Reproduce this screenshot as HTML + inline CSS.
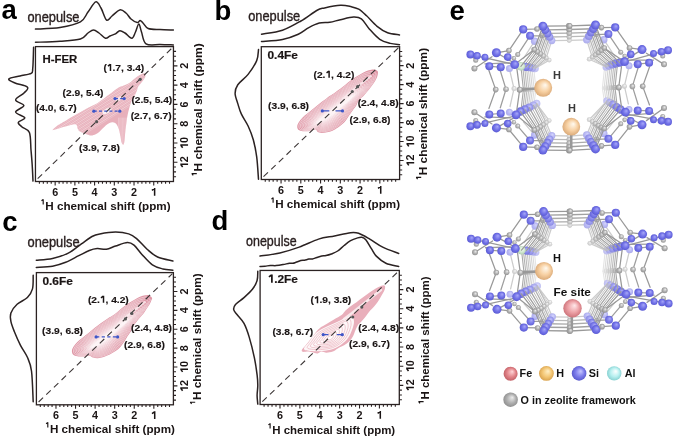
<!DOCTYPE html>
<html><head><meta charset="utf-8"><style>
html,body{margin:0;padding:0;background:#fff;overflow:hidden;}
svg{display:block;font-family:"Liberation Sans", sans-serif;will-change:transform;}
</style></head><body>
<svg width="685" height="437" viewBox="0 0 685 437">
<defs><radialGradient id="g0" cx="0.5" cy="0.5" r="0.55" fx="0.62" fy="0.34"><stop offset="0" stop-color="#fafafa"/><stop offset="0.55" stop-color="#e9e9e9"/><stop offset="1" stop-color="#dfdfdf"/></radialGradient>
<radialGradient id="g1" cx="0.5" cy="0.5" r="0.55" fx="0.62" fy="0.34"><stop offset="0" stop-color="#f8f8f8"/><stop offset="0.55" stop-color="#dfdfdf"/><stop offset="1" stop-color="#d1d1d1"/></radialGradient>
<radialGradient id="g2" cx="0.5" cy="0.5" r="0.55" fx="0.62" fy="0.34"><stop offset="0" stop-color="#dcdcfc"/><stop offset="0.55" stop-color="#c7c7f6"/><stop offset="1" stop-color="#bbbbec"/></radialGradient>
<radialGradient id="g3" cx="0.5" cy="0.5" r="0.55" fx="0.62" fy="0.34"><stop offset="0" stop-color="#d4d4fc"/><stop offset="0.55" stop-color="#b8b8f4"/><stop offset="1" stop-color="#aaaae8"/></radialGradient>
<radialGradient id="g4" cx="0.5" cy="0.5" r="0.55" fx="0.62" fy="0.34"><stop offset="0" stop-color="#f6f6f6"/><stop offset="0.55" stop-color="#d8d8d8"/><stop offset="1" stop-color="#c6c6c6"/></radialGradient>
<radialGradient id="g5" cx="0.5" cy="0.5" r="0.55" fx="0.62" fy="0.34"><stop offset="0" stop-color="#f6f6f6"/><stop offset="0.55" stop-color="#d4d4d4"/><stop offset="1" stop-color="#c0c0c0"/></radialGradient>
<radialGradient id="g6" cx="0.5" cy="0.5" r="0.55" fx="0.62" fy="0.34"><stop offset="0" stop-color="#cfcffb"/><stop offset="0.55" stop-color="#b1b1f2"/><stop offset="1" stop-color="#a2a2e5"/></radialGradient>
<radialGradient id="g7" cx="0.5" cy="0.5" r="0.55" fx="0.62" fy="0.34"><stop offset="0" stop-color="#f4f4f4"/><stop offset="0.55" stop-color="#cccccc"/><stop offset="1" stop-color="#b4b4b4"/></radialGradient>
<radialGradient id="g8" cx="0.5" cy="0.5" r="0.55" fx="0.62" fy="0.34"><stop offset="0" stop-color="#f3f3f3"/><stop offset="0.55" stop-color="#c9c9c9"/><stop offset="1" stop-color="#b1b1b1"/></radialGradient>
<radialGradient id="g9" cx="0.5" cy="0.5" r="0.55" fx="0.62" fy="0.34"><stop offset="0" stop-color="#c2c2fa"/><stop offset="0.55" stop-color="#9c9cef"/><stop offset="1" stop-color="#8989de"/></radialGradient>
<radialGradient id="g10" cx="0.5" cy="0.5" r="0.55" fx="0.62" fy="0.34"><stop offset="0" stop-color="#f3f3f3"/><stop offset="0.55" stop-color="#c8c8c8"/><stop offset="1" stop-color="#aeaeae"/></radialGradient>
<radialGradient id="g11" cx="0.5" cy="0.5" r="0.55" fx="0.62" fy="0.34"><stop offset="0" stop-color="#f2f2f2"/><stop offset="0.55" stop-color="#c1c1c1"/><stop offset="1" stop-color="#a5a5a5"/></radialGradient>
<radialGradient id="g12" cx="0.5" cy="0.5" r="0.55" fx="0.62" fy="0.34"><stop offset="0" stop-color="#f1f1f1"/><stop offset="0.55" stop-color="#bebebe"/><stop offset="1" stop-color="#a1a1a1"/></radialGradient>
<radialGradient id="g13" cx="0.5" cy="0.5" r="0.55" fx="0.62" fy="0.34"><stop offset="0" stop-color="#b6b6f9"/><stop offset="0.55" stop-color="#8989ec"/><stop offset="1" stop-color="#7171d8"/></radialGradient>
<radialGradient id="g14" cx="0.5" cy="0.5" r="0.55" fx="0.62" fy="0.34"><stop offset="0" stop-color="#b5b5f9"/><stop offset="0.55" stop-color="#8787eb"/><stop offset="1" stop-color="#6f6fd7"/></radialGradient>
<radialGradient id="g15" cx="0.5" cy="0.5" r="0.55" fx="0.62" fy="0.34"><stop offset="0" stop-color="#f0f0f0"/><stop offset="0.55" stop-color="#b9b9b9"/><stop offset="1" stop-color="#9a9a9a"/></radialGradient>
<radialGradient id="g16" cx="0.5" cy="0.5" r="0.55" fx="0.62" fy="0.34"><stop offset="0" stop-color="#f0f0f0"/><stop offset="0.55" stop-color="#b8b8b8"/><stop offset="1" stop-color="#989898"/></radialGradient>
<radialGradient id="g17" cx="0.5" cy="0.5" r="0.55" fx="0.62" fy="0.34"><stop offset="0" stop-color="#efefef"/><stop offset="0.55" stop-color="#b6b6b6"/><stop offset="1" stop-color="#959595"/></radialGradient>
<radialGradient id="g18" cx="0.5" cy="0.5" r="0.55" fx="0.62" fy="0.34"><stop offset="0" stop-color="#adadf8"/><stop offset="0.55" stop-color="#7a7ae9"/><stop offset="1" stop-color="#6060d3"/></radialGradient>
<radialGradient id="g19" cx="0.5" cy="0.5" r="0.55" fx="0.62" fy="0.34"><stop offset="0" stop-color="#f5fff5"/><stop offset="0.55" stop-color="#d2e9d2"/><stop offset="1" stop-color="#adcbad"/></radialGradient>
<radialGradient id="g20" cx="0.5" cy="0.5" r="0.55" fx="0.62" fy="0.34"><stop offset="0" stop-color="#acacf8"/><stop offset="0.55" stop-color="#7979e9"/><stop offset="1" stop-color="#5e5ed2"/></radialGradient>
<radialGradient id="g21" cx="0.5" cy="0.5" r="0.55" fx="0.62" fy="0.34"><stop offset="0" stop-color="#efefef"/><stop offset="0.55" stop-color="#b4b4b4"/><stop offset="1" stop-color="#929292"/></radialGradient>
<radialGradient id="g22" cx="0.5" cy="0.5" r="0.55" fx="0.62" fy="0.34"><stop offset="0" stop-color="#a8a8f8"/><stop offset="0.55" stop-color="#7272e8"/><stop offset="1" stop-color="#5656d0"/></radialGradient>
<radialGradient id="g23" cx="0.5" cy="0.5" r="0.55" fx="0.62" fy="0.34"><stop offset="0" stop-color="#eeeeee"/><stop offset="0.55" stop-color="#b0b0b0"/><stop offset="1" stop-color="#8c8c8c"/></radialGradient>
<radialGradient id="g24" cx="0.5" cy="0.5" r="0.55" fx="0.62" fy="0.34"><stop offset="0" stop-color="#fffaf0"/><stop offset="0.55" stop-color="#f7d0a2"/><stop offset="1" stop-color="#d6a472"/></radialGradient>
<radialGradient id="g25" cx="0.5" cy="0.5" r="0.55" fx="0.62" fy="0.34"><stop offset="0" stop-color="#ffe8ea"/><stop offset="0.55" stop-color="#eda2a7"/><stop offset="1" stop-color="#c86c73"/></radialGradient>
<radialGradient id="g26" cx="0.5" cy="0.5" r="0.55" fx="0.62" fy="0.34"><stop offset="0" stop-color="#ffd6d8"/><stop offset="0.55" stop-color="#e3868b"/><stop offset="1" stop-color="#bd5a60"/></radialGradient>
<radialGradient id="g27" cx="0.5" cy="0.5" r="0.55" fx="0.62" fy="0.34"><stop offset="0" stop-color="#fff0c8"/><stop offset="0.55" stop-color="#f4c877"/><stop offset="1" stop-color="#d69e48"/></radialGradient>
<radialGradient id="g28" cx="0.5" cy="0.5" r="0.55" fx="0.62" fy="0.34"><stop offset="0" stop-color="#c8c8ff"/><stop offset="0.55" stop-color="#7d7deb"/><stop offset="1" stop-color="#5454c8"/></radialGradient>
<radialGradient id="g29" cx="0.5" cy="0.5" r="0.55" fx="0.62" fy="0.34"><stop offset="0" stop-color="#ffffff"/><stop offset="0.55" stop-color="#b8f0f0"/><stop offset="1" stop-color="#80cccc"/></radialGradient>
<radialGradient id="g30" cx="0.5" cy="0.5" r="0.55" fx="0.62" fy="0.34"><stop offset="0" stop-color="#ededed"/><stop offset="0.55" stop-color="#b0b0b0"/><stop offset="1" stop-color="#8a8a8a"/></radialGradient></defs>
<text x="1.5" y="18.6" font-size="27.5" font-weight="bold" text-anchor="start" fill="#000" >a</text>
<text x="214.5" y="19.8" font-size="27.5" font-weight="bold" text-anchor="start" fill="#000" >b</text>
<text x="2.2" y="231" font-size="27.5" font-weight="bold" text-anchor="start" fill="#000" >c</text>
<text x="211.5" y="230.3" font-size="27.5" font-weight="bold" text-anchor="start" fill="#000" >d</text>
<text x="449.5" y="19.6" font-size="27.5" font-weight="bold" text-anchor="start" fill="#000" >e</text>
<path d="M144.9,73.5 C144.37,73 143.17,73.32 142.1,73.7 C141.03,74.08 139.72,75 138.5,75.8 C137.28,76.6 136.03,77.52 134.8,78.5 C133.57,79.48 132.32,80.78 131.1,81.7 C129.88,82.62 128.72,83.38 127.5,84 C126.28,84.62 125.03,84.93 123.8,85.4 C122.57,85.87 121.32,86.18 120.1,86.8 C118.88,87.42 117.72,88.27 116.5,89.1 C115.28,89.93 114.02,90.88 112.8,91.8 C111.58,92.72 110.42,93.68 109.2,94.6 C107.98,95.52 106.73,96.38 105.5,97.3 C104.27,98.22 103.15,99.12 101.8,100.1 C100.45,101.08 99.15,102.17 97.4,103.2 C95.65,104.23 93.35,105.27 91.3,106.3 C89.25,107.33 87.17,108.28 85.1,109.4 C83.03,110.52 80.97,111.8 78.9,113 C76.83,114.2 74.77,115.4 72.7,116.6 C70.63,117.8 68.55,119 66.5,120.2 C64.45,121.4 62.12,122.77 60.4,123.8 C58.68,124.83 57.5,125.37 56.2,126.4 C54.9,127.43 52.6,129.53 52.6,130 C52.6,130.47 54.4,129.68 56.2,129.2 C58,128.72 60.98,127.78 63.4,127.1 C65.82,126.42 68.57,125.52 70.7,125.1 C72.83,124.68 74.95,123.78 76.2,124.6 C77.45,125.42 77.23,128.67 78.2,130 C79.17,131.33 80.52,131.83 82,132.6 C83.48,133.37 85.55,134.1 87.1,134.6 C88.65,135.1 89.87,135.65 91.3,135.6 C92.73,135.55 94.38,134.9 95.7,134.3 C97.02,133.7 98.05,132.95 99.2,132 C100.35,131.05 101.47,129.73 102.6,128.6 C103.73,127.47 104.85,126.15 106,125.2 C107.15,124.25 108.35,123.38 109.5,122.9 C110.65,122.42 111.77,122.12 112.9,122.3 C114.03,122.48 115.35,122.95 116.3,124 C117.25,125.05 117.93,126.68 118.6,128.6 C119.27,130.52 119.82,133.22 120.3,135.5 C120.78,137.78 121.02,140.75 121.5,142.3 C121.98,143.85 122.73,144.8 123.2,144.8 C123.67,144.8 124.02,143.67 124.3,142.3 C124.58,140.93 124.7,138.7 124.9,136.6 C125.1,134.5 125.25,131.98 125.5,129.7 C125.75,127.42 126.12,124.98 126.4,122.9 C126.68,120.82 126.85,119.18 127.2,117.2 C127.55,115.22 128.03,112.95 128.5,111 C128.97,109.05 129.5,107.17 130,105.5 C130.5,103.83 130.85,102.37 131.5,101 C132.15,99.63 133.2,98.53 133.9,97.3 C134.6,96.07 135.17,94.82 135.7,93.6 C136.23,92.38 136.72,91.13 137.1,90 C137.48,88.87 137.47,87.8 138,86.8 C138.53,85.8 139.47,85.07 140.3,84 C141.13,82.93 142.17,81.62 143,80.4 C143.83,79.18 144.98,77.85 145.3,76.7 C145.62,75.55 145.43,74 144.9,73.5Z" fill="#e8b0bb" />
<clipPath id="cp1"><path d="M144.9,73.5 C144.37,73 143.17,73.32 142.1,73.7 C141.03,74.08 139.72,75 138.5,75.8 C137.28,76.6 136.03,77.52 134.8,78.5 C133.57,79.48 132.32,80.78 131.1,81.7 C129.88,82.62 128.72,83.38 127.5,84 C126.28,84.62 125.03,84.93 123.8,85.4 C122.57,85.87 121.32,86.18 120.1,86.8 C118.88,87.42 117.72,88.27 116.5,89.1 C115.28,89.93 114.02,90.88 112.8,91.8 C111.58,92.72 110.42,93.68 109.2,94.6 C107.98,95.52 106.73,96.38 105.5,97.3 C104.27,98.22 103.15,99.12 101.8,100.1 C100.45,101.08 99.15,102.17 97.4,103.2 C95.65,104.23 93.35,105.27 91.3,106.3 C89.25,107.33 87.17,108.28 85.1,109.4 C83.03,110.52 80.97,111.8 78.9,113 C76.83,114.2 74.77,115.4 72.7,116.6 C70.63,117.8 68.55,119 66.5,120.2 C64.45,121.4 62.12,122.77 60.4,123.8 C58.68,124.83 57.5,125.37 56.2,126.4 C54.9,127.43 52.6,129.53 52.6,130 C52.6,130.47 54.4,129.68 56.2,129.2 C58,128.72 60.98,127.78 63.4,127.1 C65.82,126.42 68.57,125.52 70.7,125.1 C72.83,124.68 74.95,123.78 76.2,124.6 C77.45,125.42 77.23,128.67 78.2,130 C79.17,131.33 80.52,131.83 82,132.6 C83.48,133.37 85.55,134.1 87.1,134.6 C88.65,135.1 89.87,135.65 91.3,135.6 C92.73,135.55 94.38,134.9 95.7,134.3 C97.02,133.7 98.05,132.95 99.2,132 C100.35,131.05 101.47,129.73 102.6,128.6 C103.73,127.47 104.85,126.15 106,125.2 C107.15,124.25 108.35,123.38 109.5,122.9 C110.65,122.42 111.77,122.12 112.9,122.3 C114.03,122.48 115.35,122.95 116.3,124 C117.25,125.05 117.93,126.68 118.6,128.6 C119.27,130.52 119.82,133.22 120.3,135.5 C120.78,137.78 121.02,140.75 121.5,142.3 C121.98,143.85 122.73,144.8 123.2,144.8 C123.67,144.8 124.02,143.67 124.3,142.3 C124.58,140.93 124.7,138.7 124.9,136.6 C125.1,134.5 125.25,131.98 125.5,129.7 C125.75,127.42 126.12,124.98 126.4,122.9 C126.68,120.82 126.85,119.18 127.2,117.2 C127.55,115.22 128.03,112.95 128.5,111 C128.97,109.05 129.5,107.17 130,105.5 C130.5,103.83 130.85,102.37 131.5,101 C132.15,99.63 133.2,98.53 133.9,97.3 C134.6,96.07 135.17,94.82 135.7,93.6 C136.23,92.38 136.72,91.13 137.1,90 C137.48,88.87 137.47,87.8 138,86.8 C138.53,85.8 139.47,85.07 140.3,84 C141.13,82.93 142.17,81.62 143,80.4 C143.83,79.18 144.98,77.85 145.3,76.7 C145.62,75.55 145.43,74 144.9,73.5Z"/></clipPath>
<g clip-path="url(#cp1)" fill="none" stroke="#f7e1e5" stroke-linecap="round">
<line x1="33.11" y1="130.45" x2="153.11" y2="55.45" stroke-width="0.8" stroke-opacity="0.8"/>
<line x1="33.88" y1="131.68" x2="153.88" y2="56.68" stroke-width="0.55" stroke-opacity="0.6"/>
<line x1="34.65" y1="132.92" x2="154.65" y2="57.92" stroke-width="0.8" stroke-opacity="0.8"/>
<line x1="35.42" y1="134.15" x2="155.42" y2="59.15" stroke-width="0.55" stroke-opacity="0.6"/>
<line x1="36.18" y1="135.38" x2="156.18" y2="60.38" stroke-width="0.8" stroke-opacity="0.8"/>
<line x1="36.95" y1="136.61" x2="156.95" y2="61.61" stroke-width="0.55" stroke-opacity="0.6"/>
<line x1="37.72" y1="137.84" x2="157.72" y2="62.84" stroke-width="0.8" stroke-opacity="0.8"/>
<line x1="38.49" y1="139.08" x2="158.49" y2="64.08" stroke-width="0.55" stroke-opacity="0.6"/>
<line x1="39.26" y1="140.31" x2="159.26" y2="65.31" stroke-width="0.8" stroke-opacity="0.8"/>
<line x1="40.03" y1="141.54" x2="160.03" y2="66.54" stroke-width="0.55" stroke-opacity="0.6"/>
<line x1="40.8" y1="142.78" x2="160.8" y2="67.78" stroke-width="0.8" stroke-opacity="0.8"/>
<line x1="41.56" y1="144.01" x2="161.56" y2="69.01" stroke-width="0.55" stroke-opacity="0.6"/>
<line x1="42.33" y1="145.24" x2="162.33" y2="70.24" stroke-width="0.8" stroke-opacity="0.8"/>
<line x1="43.1" y1="146.47" x2="163.1" y2="71.47" stroke-width="0.55" stroke-opacity="0.6"/>
<line x1="43.87" y1="147.7" x2="163.87" y2="72.7" stroke-width="0.8" stroke-opacity="0.8"/>
<line x1="44.64" y1="148.94" x2="164.64" y2="73.94" stroke-width="0.55" stroke-opacity="0.6"/>
<line x1="45.41" y1="150.17" x2="165.41" y2="75.17" stroke-width="0.8" stroke-opacity="0.8"/>
<line x1="46.17" y1="151.4" x2="166.17" y2="76.4" stroke-width="0.55" stroke-opacity="0.6"/>
<line x1="46.94" y1="152.63" x2="166.94" y2="77.63" stroke-width="0.8" stroke-opacity="0.8"/>
<line x1="47.71" y1="153.87" x2="167.71" y2="78.87" stroke-width="0.55" stroke-opacity="0.6"/>
<line x1="48.48" y1="155.1" x2="168.48" y2="80.1" stroke-width="0.8" stroke-opacity="0.8"/>
<line x1="49.25" y1="156.33" x2="169.25" y2="81.33" stroke-width="0.55" stroke-opacity="0.6"/>
<line x1="118.5" y1="118" x2="118.8" y2="146" stroke-width="0.5" stroke-opacity="0.8"/>
<line x1="119.8" y1="118" x2="120.1" y2="146" stroke-width="0.5" stroke-opacity="0.8"/>
<line x1="121.1" y1="118" x2="121.4" y2="146" stroke-width="0.5" stroke-opacity="0.8"/>
<line x1="122.4" y1="118" x2="122.7" y2="146" stroke-width="0.5" stroke-opacity="0.8"/>
<line x1="123.7" y1="118" x2="124" y2="146" stroke-width="0.5" stroke-opacity="0.8"/>
<line x1="125" y1="118" x2="125.3" y2="146" stroke-width="0.5" stroke-opacity="0.8"/>
<line x1="126.3" y1="118" x2="126.6" y2="146" stroke-width="0.5" stroke-opacity="0.8"/>
</g>
<ellipse cx="107" cy="111" rx="5" ry="2.2" fill="#fbf0f2" transform="rotate(-30 107 111)"/>
<ellipse cx="119" cy="99" rx="4" ry="1.8" fill="#f8e4e8" transform="rotate(-30 119 99)"/>
<path d="M374.3,69.6 C373.25,69.4 372.58,69.52 371.2,69.8 C369.82,70.08 367.72,70.62 366,71.3 C364.28,71.98 362.62,72.95 360.9,73.9 C359.18,74.85 357.42,75.88 355.7,77 C353.98,78.12 352.32,79.32 350.6,80.6 C348.88,81.88 347.12,83.33 345.4,84.7 C343.68,86.07 342.02,87.52 340.3,88.8 C338.58,90.08 336.82,91.23 335.1,92.4 C333.38,93.57 331.35,94.88 330,95.8 C328.65,96.72 328.42,96.85 327,97.9 C325.58,98.95 323.33,100.67 321.5,102.1 C319.67,103.53 317.83,105.03 316,106.5 C314.17,107.97 312.33,109.43 310.5,110.9 C308.67,112.37 306.65,113.83 305,115.3 C303.35,116.77 301.8,118.23 300.6,119.7 C299.4,121.17 298.35,122.82 297.8,124.1 C297.25,125.38 297.12,126.4 297.3,127.4 C297.48,128.4 297.98,129.47 298.9,130.1 C299.82,130.73 301.23,131.02 302.8,131.2 C304.37,131.38 306.65,131.38 308.3,131.2 C309.95,131.02 311.42,130.37 312.7,130.1 C313.98,129.83 315.18,129.32 316,129.6 C316.82,129.88 316.68,131.25 317.6,131.8 C318.52,132.35 319.93,132.82 321.5,132.9 C323.07,132.98 325.17,132.67 327,132.3 C328.83,131.93 330.67,131.52 332.5,130.7 C334.33,129.88 336.35,128.5 338,127.4 C339.65,126.3 341.13,125.2 342.4,124.1 C343.67,123 344.7,121.9 345.6,120.8 C346.5,119.7 346.98,118.72 347.8,117.5 C348.62,116.28 349.52,114.92 350.5,113.5 C351.48,112.08 352.73,110.33 353.7,109 C354.67,107.67 355.62,106.67 356.3,105.5 C356.98,104.33 357.08,103.13 357.8,102 C358.52,100.87 359.65,99.7 360.6,98.7 C361.55,97.7 362.6,96.95 363.5,96 C364.4,95.05 365.08,94.08 366,93 C366.92,91.92 368,90.75 369,89.5 C370,88.25 371.03,86.82 372,85.5 C372.97,84.18 373.98,82.93 374.8,81.6 C375.62,80.27 376.38,78.87 376.9,77.5 C377.42,76.13 377.8,74.48 377.9,73.4 C378,72.32 378.1,71.63 377.5,71 C376.9,70.37 375.35,69.8 374.3,69.6Z" fill="#df97a6"/>
<path d="M372.6,71.61 C371.61,71.44 370.97,71.55 369.66,71.84 C368.34,72.12 366.34,72.65 364.71,73.31 C363.07,73.98 361.48,74.91 359.84,75.82 C358.2,76.74 356.51,77.73 354.87,78.8 C353.23,79.88 351.63,81.03 349.99,82.26 C348.34,83.49 346.65,84.87 345,86.18 C343.36,87.49 341.76,88.87 340.12,90.1 C338.47,91.33 336.78,92.44 335.14,93.56 C333.5,94.67 331.55,95.94 330.26,96.82 C328.97,97.7 328.75,97.83 327.39,98.83 C326.03,99.84 323.88,101.48 322.12,102.85 C320.37,104.23 318.61,105.66 316.85,107.06 C315.1,108.47 313.34,109.87 311.58,111.27 C309.82,112.68 307.89,114.08 306.31,115.48 C304.73,116.88 303.24,118.28 302.08,119.68 C300.93,121.07 299.91,122.64 299.37,123.86 C298.84,125.07 298.7,126.03 298.86,126.97 C299.02,127.91 299.48,128.91 300.34,129.49 C301.21,130.08 302.55,130.33 304.03,130.48 C305.51,130.63 307.68,130.61 309.25,130.41 C310.81,130.22 312.21,129.59 313.43,129.32 C314.65,129.06 315.8,128.56 316.57,128.81 C317.34,129.07 317.2,130.36 318.06,130.86 C318.92,131.37 320.26,131.79 321.75,131.85 C323.23,131.91 325.23,131.59 326.97,131.22 C328.71,130.85 330.46,130.44 332.21,129.65 C333.96,128.86 335.89,127.53 337.46,126.47 C339.04,125.42 340.46,124.36 341.68,123.31 C342.89,122.26 343.89,121.21 344.75,120.17 C345.62,119.12 346.09,118.19 346.88,117.03 C347.67,115.88 348.54,114.58 349.49,113.23 C350.44,111.89 351.65,110.22 352.58,108.96 C353.51,107.69 354.43,106.74 355.09,105.63 C355.75,104.52 355.86,103.39 356.55,102.32 C357.25,101.24 358.34,100.13 359.25,99.18 C360.16,98.22 361.17,97.5 362.03,96.6 C362.9,95.69 363.56,94.77 364.44,93.74 C365.32,92.71 366.37,91.6 367.33,90.41 C368.29,89.22 369.29,87.86 370.22,86.61 C371.16,85.36 372.14,84.17 372.93,82.9 C373.72,81.64 374.46,80.31 374.97,79.02 C375.48,77.72 375.86,76.17 375.97,75.14 C376.08,74.12 376.18,73.48 375.62,72.89 C375.06,72.3 373.59,71.79 372.6,71.61Z" fill="#df98a7" stroke="#ffffff" stroke-width="0.5" stroke-opacity="0.9"/>
<path d="M370.9,73.62 C369.96,73.47 369.36,73.59 368.11,73.87 C366.87,74.16 364.97,74.68 363.41,75.32 C361.86,75.97 360.34,76.86 358.77,77.74 C357.21,78.63 355.6,79.58 354.03,80.61 C352.47,81.64 350.94,82.74 349.37,83.91 C347.8,85.09 346.18,86.41 344.61,87.66 C343.03,88.91 341.5,90.23 339.93,91.4 C338.36,92.58 336.75,93.64 335.18,94.71 C333.61,95.78 331.76,96.99 330.52,97.84 C329.29,98.68 329.08,98.8 327.78,99.76 C326.48,100.73 324.42,102.3 322.74,103.61 C321.07,104.92 319.38,106.29 317.7,107.63 C316.02,108.97 314.34,110.31 312.66,111.65 C310.98,112.99 309.14,114.33 307.62,115.67 C306.11,117 304.68,118.33 303.57,119.66 C302.46,120.98 301.47,122.46 300.95,123.61 C300.42,124.76 300.28,125.66 300.42,126.54 C300.56,127.42 300.98,128.35 301.79,128.88 C302.6,129.42 303.86,129.64 305.26,129.76 C306.66,129.88 308.71,129.83 310.19,129.62 C311.68,129.42 313.01,128.81 314.17,128.55 C315.33,128.28 316.41,127.79 317.14,128.02 C317.87,128.25 317.71,129.46 318.52,129.93 C319.33,130.39 320.59,130.77 321.99,130.8 C323.4,130.84 325.29,130.51 326.94,130.14 C328.59,129.77 330.25,129.36 331.91,128.59 C333.58,127.83 335.42,126.56 336.93,125.54 C338.43,124.53 339.79,123.53 340.95,122.52 C342.12,121.52 343.07,120.52 343.91,119.53 C344.74,118.54 345.2,117.66 345.96,116.56 C346.72,115.47 347.56,114.24 348.48,112.97 C349.4,111.69 350.56,110.12 351.46,108.91 C352.36,107.71 353.24,106.81 353.88,105.76 C354.52,104.71 354.64,103.65 355.31,102.63 C355.98,101.61 357.02,100.56 357.9,99.65 C358.78,98.74 359.74,98.06 360.57,97.2 C361.4,96.34 362.03,95.46 362.88,94.49 C363.73,93.51 364.73,92.45 365.66,91.32 C366.59,90.19 367.55,88.9 368.45,87.72 C369.35,86.53 370.29,85.4 371.05,84.2 C371.82,83.01 372.54,81.75 373.04,80.53 C373.54,79.31 373.92,77.85 374.04,76.89 C374.15,75.93 374.26,75.32 373.74,74.78 C373.21,74.23 371.84,73.77 370.9,73.62Z" fill="#e09aa9" stroke="#ffffff" stroke-width="0.5" stroke-opacity="0.9"/>
<path d="M369.2,75.63 C368.32,75.51 367.75,75.63 366.57,75.91 C365.39,76.19 363.6,76.71 362.12,77.34 C360.64,77.96 359.2,78.82 357.71,79.67 C356.23,80.51 354.69,81.43 353.2,82.41 C351.71,83.4 350.26,84.45 348.76,85.57 C347.26,86.69 345.71,87.95 344.21,89.14 C342.71,90.33 341.25,91.59 339.75,92.71 C338.25,93.83 336.71,94.84 335.22,95.87 C333.73,96.89 331.96,98.05 330.78,98.86 C329.61,99.66 329.41,99.78 328.17,100.7 C326.93,101.61 324.97,103.11 323.37,104.36 C321.76,105.61 320.16,106.91 318.56,108.19 C316.95,109.47 315.35,110.74 313.74,112.02 C312.14,113.3 310.38,114.58 308.93,115.85 C307.48,117.12 306.12,118.38 305.05,119.64 C303.98,120.89 303.04,122.29 302.52,123.37 C302.01,124.45 301.86,125.29 301.98,126.11 C302.1,126.92 302.48,127.79 303.23,128.27 C303.99,128.76 305.17,128.94 306.49,129.04 C307.81,129.13 309.74,129.05 311.14,128.84 C312.54,128.63 313.81,128.04 314.9,127.77 C316,127.5 317.03,127.03 317.71,127.24 C318.39,127.44 318.23,128.57 318.98,128.99 C319.74,129.41 320.92,129.74 322.24,129.76 C323.56,129.77 325.35,129.43 326.91,129.06 C328.48,128.69 330.04,128.28 331.62,127.54 C333.2,126.8 334.96,125.58 336.39,124.62 C337.83,123.65 339.12,122.69 340.23,121.73 C341.34,120.78 342.26,119.84 343.06,118.9 C343.86,117.96 344.3,117.13 345.04,116.1 C345.77,115.06 346.59,113.9 347.47,112.7 C348.35,111.49 349.47,110.01 350.34,108.87 C351.21,107.74 352.05,106.88 352.67,105.89 C353.29,104.9 353.41,103.91 354.06,102.95 C354.71,101.99 355.71,100.99 356.55,100.13 C357.39,99.27 358.31,98.61 359.1,97.79 C359.9,96.98 360.51,96.16 361.32,95.23 C362.14,94.3 363.1,93.3 363.99,92.23 C364.88,91.17 365.81,89.95 366.67,88.83 C367.54,87.7 368.44,86.64 369.18,85.51 C369.92,84.38 370.62,83.2 371.11,82.05 C371.59,80.9 371.98,79.53 372.1,78.63 C372.23,77.74 372.34,77.17 371.85,76.67 C371.37,76.17 370.08,75.76 369.2,75.63Z" fill="#e19eac" stroke="#ffffff" stroke-width="0.5" stroke-opacity="0.9"/>
<path d="M367.5,77.64 C366.67,77.54 366.14,77.66 365.03,77.95 C363.91,78.23 362.22,78.74 360.82,79.35 C359.43,79.96 358.06,80.78 356.65,81.59 C355.24,82.4 353.79,83.28 352.37,84.22 C350.95,85.16 349.57,86.16 348.14,87.22 C346.72,88.29 345.24,89.49 343.81,90.62 C342.38,91.75 340.99,92.94 339.57,94.01 C338.14,95.08 336.68,96.04 335.26,97.02 C333.84,98 332.16,99.11 331.05,99.87 C329.93,100.64 329.74,100.76 328.56,101.63 C327.38,102.5 325.51,103.93 323.99,105.11 C322.46,106.3 320.93,107.54 319.41,108.75 C317.88,109.97 316.35,111.18 314.83,112.39 C313.3,113.6 311.63,114.83 310.24,116.03 C308.86,117.23 307.56,118.43 306.54,119.62 C305.51,120.8 304.6,122.11 304.1,123.12 C303.6,124.13 303.44,124.92 303.54,125.68 C303.64,126.43 303.98,127.22 304.68,127.67 C305.38,128.11 306.49,128.25 307.72,128.32 C308.96,128.38 310.77,128.27 312.09,128.05 C313.41,127.83 314.6,127.26 315.64,126.99 C316.67,126.72 317.65,126.27 318.28,126.45 C318.91,126.62 318.74,127.68 319.44,128.05 C320.14,128.43 321.25,128.72 322.49,128.71 C323.73,128.69 325.41,128.35 326.88,127.98 C328.36,127.61 329.83,127.2 331.33,126.49 C332.82,125.77 334.49,124.61 335.86,123.69 C337.22,122.77 338.45,121.85 339.51,120.95 C340.57,120.04 341.44,119.15 342.21,118.26 C342.98,117.38 343.41,116.6 344.12,115.63 C344.83,114.66 345.61,113.56 346.46,112.43 C347.31,111.3 348.39,109.9 349.22,108.83 C350.05,107.76 350.85,106.95 351.45,106.02 C352.05,105.09 352.19,104.17 352.82,103.27 C353.44,102.36 354.4,101.41 355.2,100.6 C356,99.79 356.87,99.16 357.63,98.39 C358.4,97.62 358.99,96.85 359.77,95.97 C360.55,95.1 361.46,94.15 362.32,93.14 C363.17,92.14 364.06,90.99 364.9,89.93 C365.73,88.88 366.6,87.87 367.31,86.81 C368.02,85.75 368.7,84.64 369.18,83.57 C369.65,82.49 370.04,81.21 370.17,80.38 C370.3,79.54 370.42,79.01 369.97,78.56 C369.52,78.1 368.32,77.74 367.5,77.64Z" fill="#e3a2af" stroke="#ffffff" stroke-width="0.5" stroke-opacity="0.9"/>
<path d="M365.8,79.65 C365.03,79.58 364.53,79.7 363.48,79.98 C362.44,80.27 360.85,80.77 359.53,81.36 C358.21,81.95 356.92,82.74 355.59,83.51 C354.25,84.29 352.88,85.13 351.54,86.02 C350.19,86.92 348.88,87.87 347.53,88.88 C346.18,89.89 344.78,91.03 343.42,92.1 C342.06,93.17 340.73,94.3 339.38,95.31 C338.03,96.32 336.65,97.25 335.3,98.18 C333.96,99.11 332.37,100.16 331.31,100.89 C330.25,101.62 330.07,101.73 328.95,102.56 C327.84,103.39 326.06,104.74 324.61,105.87 C323.16,106.99 321.71,108.17 320.26,109.32 C318.81,110.47 317.36,111.62 315.91,112.76 C314.46,113.91 312.87,115.08 311.55,116.21 C310.24,117.35 309,118.48 308.02,119.59 C307.04,120.71 306.16,121.94 305.67,122.88 C305.19,123.82 305.02,124.55 305.1,125.24 C305.17,125.94 305.48,126.66 306.12,127.06 C306.76,127.45 307.8,127.56 308.95,127.6 C310.1,127.63 311.8,127.49 313.04,127.26 C314.27,127.03 315.4,126.48 316.37,126.21 C317.34,125.95 318.26,125.51 318.85,125.66 C319.44,125.81 319.26,126.79 319.9,127.12 C320.55,127.45 321.57,127.7 322.73,127.66 C323.89,127.62 325.47,127.27 326.85,126.9 C328.24,126.53 329.62,126.12 331.03,125.43 C332.45,124.74 334.03,123.64 335.32,122.76 C336.61,121.88 337.78,121.01 338.79,120.16 C339.79,119.3 340.63,118.46 341.36,117.63 C342.1,116.79 342.52,116.07 343.2,115.16 C343.88,114.25 344.63,113.23 345.45,112.16 C346.26,111.1 347.3,109.79 348.1,108.79 C348.9,107.78 349.66,107.02 350.24,106.15 C350.82,105.28 350.97,104.43 351.57,103.58 C352.17,102.74 353.08,101.84 353.85,101.08 C354.62,100.31 355.44,99.72 356.17,98.99 C356.89,98.26 357.46,97.54 358.21,96.71 C358.95,95.89 359.83,95 360.65,94.06 C361.47,93.11 362.32,92.03 363.12,91.04 C363.92,90.05 364.75,89.11 365.44,88.11 C366.12,87.12 366.78,86.08 367.25,85.08 C367.71,84.08 368.1,82.89 368.24,82.12 C368.38,81.35 368.49,80.86 368.09,80.45 C367.68,80.04 366.56,79.73 365.8,79.65Z" fill="#e4a7b4" stroke="#ffffff" stroke-width="0.5" stroke-opacity="0.9"/>
<path d="M364.1,81.66 C363.39,81.61 362.92,81.73 361.94,82.02 C360.96,82.31 359.47,82.81 358.24,83.37 C357,83.94 355.78,84.69 354.52,85.43 C353.27,86.18 351.97,86.98 350.7,87.83 C349.43,88.68 348.2,89.58 346.92,90.54 C345.64,91.5 344.31,92.57 343.02,93.58 C341.74,94.59 340.48,95.65 339.2,96.61 C337.92,97.57 336.61,98.45 335.34,99.33 C334.07,100.21 332.57,101.22 331.57,101.91 C330.57,102.6 330.4,102.71 329.34,103.49 C328.29,104.28 326.61,105.56 325.23,106.62 C323.86,107.69 322.49,108.79 321.11,109.88 C319.74,110.97 318.36,112.05 316.99,113.14 C315.61,114.22 314.11,115.32 312.87,116.4 C311.62,117.47 310.44,118.53 309.5,119.57 C308.57,120.61 307.72,121.76 307.25,122.63 C306.77,123.51 306.61,124.18 306.66,124.81 C306.71,125.45 306.98,126.1 307.57,126.45 C308.15,126.79 309.11,126.87 310.18,126.88 C311.25,126.88 312.83,126.71 313.98,126.47 C315.14,126.23 316.2,125.7 317.1,125.44 C318.01,125.17 318.88,124.75 319.42,124.87 C319.96,125 319.77,125.89 320.36,126.18 C320.96,126.47 321.9,126.67 322.98,126.61 C324.06,126.55 325.53,126.19 326.82,125.82 C328.12,125.45 329.41,125.04 330.74,124.38 C332.07,123.71 333.56,122.67 334.78,121.83 C336,121 337.11,120.18 338.06,119.37 C339.02,118.56 339.82,117.77 340.52,116.99 C341.22,116.21 341.63,115.54 342.28,114.69 C342.93,113.84 343.65,112.89 344.44,111.9 C345.22,110.91 346.21,109.68 346.98,108.74 C347.74,107.81 348.47,107.09 349.03,106.28 C349.59,105.47 349.75,104.69 350.32,103.9 C350.9,103.11 351.77,102.27 352.5,101.55 C353.23,100.83 354.01,100.27 354.7,99.59 C355.39,98.91 355.94,98.23 356.65,97.46 C357.36,96.69 358.2,95.85 358.98,94.97 C359.76,94.08 360.58,93.08 361.34,92.15 C362.11,91.23 362.9,90.34 363.56,89.41 C364.23,88.49 364.86,87.52 365.32,86.6 C365.77,85.68 366.16,84.58 366.31,83.87 C366.45,83.16 366.57,82.7 366.21,82.34 C365.84,81.97 364.81,81.72 364.1,81.66Z" fill="#e6aeba" stroke="#ffffff" stroke-width="0.5" stroke-opacity="0.9"/>
<path d="M362.4,83.67 C361.74,83.65 361.31,83.77 360.4,84.06 C359.49,84.34 358.1,84.84 356.94,85.39 C355.79,85.94 354.64,86.65 353.46,87.36 C352.28,88.07 351.06,88.83 349.87,89.63 C348.68,90.44 347.51,91.29 346.3,92.19 C345.09,93.1 343.84,94.11 342.63,95.06 C341.41,96.01 340.22,97.01 339.01,97.92 C337.81,98.82 336.58,99.65 335.38,100.49 C334.18,101.32 332.77,102.27 331.83,102.93 C330.89,103.59 330.73,103.68 329.73,104.42 C328.74,105.17 327.15,106.37 325.86,107.37 C324.56,108.38 323.26,109.42 321.96,110.44 C320.67,111.47 319.37,112.49 318.07,113.51 C316.77,114.53 315.36,115.57 314.18,116.58 C313,117.59 311.88,118.58 310.99,119.55 C310.09,120.52 309.28,121.59 308.82,122.39 C308.36,123.19 308.19,123.81 308.22,124.38 C308.25,124.96 308.48,125.54 309.01,125.84 C309.54,126.13 310.43,126.18 311.41,126.16 C312.4,126.13 313.86,125.94 314.93,125.69 C316,125.44 316.99,124.93 317.84,124.66 C318.68,124.39 319.49,123.99 319.99,124.08 C320.49,124.18 320.29,125 320.83,125.25 C321.36,125.49 322.23,125.65 323.23,125.56 C324.22,125.48 325.59,125.11 326.79,124.74 C328,124.37 329.21,123.96 330.45,123.32 C331.69,122.69 333.1,121.7 334.25,120.91 C335.4,120.12 336.44,119.34 337.34,118.58 C338.25,117.82 339,117.09 339.67,116.36 C340.34,115.63 340.73,115.01 341.36,114.22 C341.99,113.43 342.68,112.55 343.43,111.63 C344.18,110.71 345.13,109.57 345.86,108.7 C346.59,107.83 347.28,107.16 347.82,106.41 C348.36,105.66 348.52,104.95 349.08,104.22 C349.63,103.49 350.46,102.7 351.15,102.03 C351.84,101.36 352.58,100.82 353.24,100.19 C353.89,99.55 354.41,98.92 355.09,98.2 C355.77,97.48 356.56,96.7 357.31,95.88 C358.05,95.05 358.84,94.12 359.57,93.26 C360.3,92.4 361.06,91.57 361.69,90.72 C362.33,89.86 362.94,88.97 363.38,88.12 C363.83,87.27 364.22,86.26 364.37,85.61 C364.53,84.96 364.65,84.55 364.32,84.23 C363.99,83.9 363.05,83.7 362.4,83.67Z" fill="#e9b5c0" stroke="#ffffff" stroke-width="0.5" stroke-opacity="0.9"/>
<path d="M360.7,85.68 C360.1,85.68 359.69,85.81 358.85,86.09 C358.01,86.38 356.73,86.87 355.65,87.4 C354.57,87.93 353.5,88.61 352.4,89.28 C351.3,89.95 350.16,90.68 349.04,91.44 C347.92,92.2 346.82,93 345.69,93.85 C344.55,94.7 343.37,95.64 342.23,96.54 C341.09,97.43 339.96,98.37 338.83,99.22 C337.7,100.07 336.54,100.85 335.42,101.64 C334.3,102.43 332.97,103.33 332.09,103.95 C331.21,104.57 331.06,104.66 330.12,105.36 C329.19,106.05 327.7,107.19 326.48,108.13 C325.26,109.07 324.04,110.05 322.81,111.01 C321.59,111.97 320.37,112.92 319.15,113.88 C317.93,114.84 316.6,115.82 315.49,116.76 C314.37,117.7 313.32,118.63 312.47,119.53 C311.62,120.43 310.84,121.41 310.4,122.15 C309.95,122.88 309.77,123.44 309.78,123.95 C309.79,124.46 309.98,124.98 310.46,125.23 C310.93,125.48 311.74,125.49 312.64,125.44 C313.55,125.38 314.89,125.16 315.88,124.9 C316.86,124.64 317.79,124.15 318.57,123.88 C319.35,123.62 320.11,123.22 320.56,123.3 C321.01,123.37 320.8,124.11 321.29,124.31 C321.77,124.51 322.56,124.62 323.47,124.51 C324.38,124.41 325.65,124.03 326.76,123.66 C327.88,123.28 329,122.88 330.15,122.27 C331.31,121.66 332.63,120.72 333.71,119.98 C334.79,119.23 335.77,118.5 336.62,117.79 C337.47,117.08 338.19,116.4 338.82,115.72 C339.46,115.05 339.84,114.48 340.44,113.75 C341.04,113.03 341.7,112.21 342.42,111.36 C343.13,110.51 344.04,109.46 344.74,108.66 C345.44,107.85 346.09,107.23 346.61,106.54 C347.12,105.85 347.3,105.2 347.83,104.53 C348.36,103.86 349.14,103.13 349.8,102.5 C350.46,101.88 351.15,101.38 351.77,100.78 C352.39,100.19 352.89,99.61 353.53,98.94 C354.18,98.28 354.93,97.55 355.64,96.79 C356.35,96.03 357.09,95.16 357.79,94.37 C358.49,93.57 359.21,92.81 359.82,92.02 C360.43,91.23 361.02,90.41 361.45,89.63 C361.89,88.86 362.28,87.94 362.44,87.35 C362.61,86.77 362.73,86.4 362.44,86.12 C362.15,85.84 361.29,85.69 360.7,85.68Z" fill="#ecbdc7" stroke="#ffffff" stroke-width="0.5" stroke-opacity="0.9"/>
<path d="M359,87.69 C358.45,87.72 358.08,87.84 357.31,88.13 C356.54,88.42 355.35,88.9 354.36,89.41 C353.36,89.92 352.36,90.56 351.33,91.2 C350.31,91.84 349.25,92.52 348.2,93.24 C347.16,93.96 346.13,94.71 345.07,95.51 C344.01,96.3 342.9,97.18 341.83,98.02 C340.76,98.85 339.71,99.72 338.65,100.52 C337.58,101.32 336.51,102.05 335.46,102.8 C334.41,103.54 333.18,104.38 332.35,104.97 C331.53,105.55 331.39,105.64 330.51,106.29 C329.64,106.94 328.24,108 327.1,108.88 C325.96,109.76 324.81,110.67 323.67,111.57 C322.52,112.47 321.38,113.36 320.23,114.26 C319.09,115.15 317.85,116.07 316.8,116.94 C315.75,117.82 314.76,118.68 313.96,119.51 C313.15,120.34 312.41,121.23 311.97,121.9 C311.53,122.57 311.35,123.07 311.34,123.52 C311.33,123.97 311.48,124.42 311.9,124.62 C312.32,124.82 313.05,124.8 313.87,124.71 C314.69,124.63 315.92,124.38 316.82,124.11 C317.73,123.84 318.59,123.37 319.3,123.11 C320.02,122.84 320.72,122.46 321.13,122.51 C321.54,122.55 321.32,123.21 321.75,123.37 C322.18,123.53 322.89,123.6 323.72,123.47 C324.55,123.33 325.71,122.95 326.73,122.58 C327.76,122.2 328.79,121.8 329.86,121.22 C330.93,120.63 332.17,119.75 333.17,119.05 C334.18,118.35 335.1,117.66 335.9,117 C336.7,116.34 337.37,115.71 337.98,115.09 C338.58,114.47 338.95,113.95 339.52,113.29 C340.09,112.62 340.72,111.87 341.41,111.1 C342.09,110.32 342.95,109.35 343.62,108.61 C344.28,107.88 344.9,107.3 345.4,106.67 C345.89,106.04 346.08,105.46 346.59,104.85 C347.09,104.23 347.83,103.56 348.45,102.98 C349.07,102.4 349.72,101.93 350.3,101.38 C350.89,100.83 351.36,100.3 351.97,99.69 C352.58,99.07 353.29,98.4 353.97,97.7 C354.64,97 355.35,96.21 356.02,95.48 C356.68,94.75 357.36,94.04 357.95,93.32 C358.53,92.6 359.1,91.85 359.52,91.15 C359.95,90.45 360.34,89.62 360.51,89.1 C360.68,88.58 360.81,88.24 360.56,88.01 C360.31,87.77 359.54,87.67 359,87.69Z" fill="#eec6cf" stroke="#ffffff" stroke-width="0.5" stroke-opacity="0.9"/>
<path d="M357.29,89.71 C356.81,89.75 356.47,89.88 355.77,90.17 C355.06,90.45 353.98,90.93 353.06,91.42 C352.15,91.92 351.22,92.52 350.27,93.12 C349.32,93.73 348.34,94.37 347.37,95.05 C346.4,95.72 345.45,96.42 344.46,97.16 C343.47,97.9 342.44,98.72 341.44,99.5 C340.44,100.27 339.45,101.08 338.46,101.82 C337.47,102.56 336.48,103.26 335.5,103.95 C334.53,104.64 333.38,105.44 332.61,105.98 C331.85,106.53 331.72,106.61 330.9,107.22 C330.09,107.83 328.79,108.82 327.72,109.64 C326.66,110.45 325.59,111.3 324.52,112.13 C323.45,112.96 322.38,113.8 321.31,114.63 C320.25,115.46 319.09,116.32 318.11,117.13 C317.13,117.94 316.2,118.73 315.44,119.49 C314.68,120.24 313.97,121.06 313.54,121.66 C313.12,122.26 312.93,122.7 312.9,123.09 C312.87,123.48 312.98,123.86 313.35,124.01 C313.71,124.16 314.37,124.11 315.1,123.99 C315.84,123.88 316.95,123.6 317.77,123.32 C318.59,123.05 319.38,122.6 320.04,122.33 C320.69,122.06 321.34,121.7 321.7,121.72 C322.06,121.74 321.83,122.32 322.21,122.44 C322.58,122.55 323.22,122.57 323.96,122.42 C324.71,122.26 325.77,121.87 326.71,121.5 C327.64,121.12 328.58,120.73 329.57,120.16 C330.56,119.6 331.7,118.78 332.64,118.12 C333.57,117.46 334.43,116.83 335.17,116.22 C335.92,115.6 336.56,115.02 337.13,114.46 C337.7,113.89 338.05,113.42 338.6,112.82 C339.14,112.21 339.75,111.54 340.4,110.83 C341.05,110.12 341.87,109.24 342.5,108.57 C343.13,107.9 343.71,107.37 344.19,106.8 C344.66,106.23 344.85,105.72 345.34,105.17 C345.83,104.61 346.52,103.98 347.1,103.45 C347.68,102.92 348.28,102.48 348.84,101.98 C349.39,101.48 349.84,100.99 350.41,100.43 C350.99,99.87 351.66,99.25 352.3,98.61 C352.93,97.97 353.61,97.25 354.24,96.58 C354.87,95.92 355.51,95.28 356.07,94.62 C356.63,93.97 357.17,93.3 357.59,92.67 C358.01,92.04 358.4,91.31 358.58,90.84 C358.76,90.38 358.89,90.09 358.68,89.9 C358.46,89.71 357.78,89.66 357.29,89.71Z" fill="#f2d0d7" stroke="#ffffff" stroke-width="0.5" stroke-opacity="0.9"/>
<path d="M355.59,91.72 C355.17,91.79 354.86,91.92 354.22,92.2 C353.59,92.49 352.6,92.96 351.77,93.44 C350.93,93.91 350.08,94.48 349.21,95.05 C348.34,95.62 347.43,96.22 346.54,96.85 C345.64,97.48 344.76,98.13 343.84,98.82 C342.93,99.51 341.97,100.26 341.04,100.98 C340.11,101.7 339.2,102.44 338.28,103.12 C337.36,103.81 336.44,104.46 335.54,105.11 C334.64,105.75 333.58,106.49 332.87,107 C332.17,107.51 332.05,107.59 331.29,108.15 C330.54,108.72 329.33,109.63 328.34,110.39 C327.36,111.15 326.36,111.93 325.37,112.7 C324.38,113.46 323.39,114.23 322.4,115 C321.4,115.77 320.33,116.57 319.42,117.31 C318.51,118.05 317.64,118.78 316.92,119.47 C316.21,120.15 315.53,120.88 315.12,121.41 C314.71,121.94 314.51,122.32 314.46,122.66 C314.4,122.99 314.48,123.3 314.79,123.4 C315.1,123.51 315.68,123.42 316.33,123.27 C316.99,123.13 317.98,122.82 318.72,122.54 C319.46,122.25 320.18,121.82 320.77,121.55 C321.36,121.29 321.95,120.94 322.27,120.93 C322.59,120.92 322.34,121.43 322.67,121.5 C322.99,121.57 323.54,121.55 324.21,121.37 C324.88,121.19 325.83,120.79 326.68,120.42 C327.52,120.04 328.37,119.65 329.27,119.11 C330.18,118.57 331.24,117.81 332.1,117.19 C332.96,116.58 333.76,115.99 334.45,115.43 C335.15,114.87 335.74,114.33 336.28,113.82 C336.82,113.31 337.16,112.89 337.68,112.35 C338.2,111.81 338.77,111.2 339.39,110.56 C340,109.92 340.78,109.13 341.38,108.53 C341.97,107.92 342.52,107.44 342.97,106.93 C343.43,106.42 343.63,105.98 344.09,105.48 C344.56,104.98 345.2,104.41 345.75,103.93 C346.3,103.45 346.85,103.04 347.37,102.58 C347.89,102.12 348.31,101.68 348.86,101.17 C349.4,100.66 350.02,100.1 350.63,99.52 C351.23,98.94 351.87,98.29 352.46,97.69 C353.06,97.09 353.67,96.51 354.2,95.93 C354.73,95.34 355.25,94.74 355.66,94.18 C356.07,93.63 356.46,92.99 356.64,92.59 C356.83,92.19 356.97,91.93 356.79,91.79 C356.62,91.64 356.02,91.65 355.59,91.72Z" fill="#f5dbe0" stroke="#ffffff" stroke-width="0.5" stroke-opacity="0.9"/>
<path d="M353.89,93.73 C353.52,93.82 353.25,93.95 352.68,94.24 C352.11,94.53 351.23,94.99 350.47,95.45 C349.72,95.9 348.94,96.44 348.15,96.97 C347.35,97.5 346.52,98.07 345.71,98.66 C344.89,99.24 344.07,99.84 343.23,100.47 C342.39,101.11 341.5,101.8 340.64,102.46 C339.79,103.12 338.94,103.79 338.1,104.43 C337.25,105.06 336.41,105.66 335.58,106.26 C334.76,106.86 333.79,107.55 333.14,108.02 C332.49,108.49 332.38,108.57 331.68,109.09 C330.99,109.61 329.88,110.45 328.97,111.14 C328.06,111.84 327.14,112.55 326.22,113.26 C325.31,113.96 324.39,114.67 323.48,115.38 C322.56,116.08 321.58,116.81 320.73,117.49 C319.89,118.17 319.08,118.83 318.41,119.45 C317.73,120.06 317.09,120.71 316.69,121.17 C316.3,121.63 316.1,121.95 316.02,122.23 C315.94,122.5 315.98,122.74 316.23,122.8 C316.49,122.85 316.99,122.73 317.56,122.55 C318.14,122.38 319.01,122.04 319.66,121.75 C320.32,121.45 320.98,121.04 321.51,120.78 C322.04,120.51 322.57,120.18 322.84,120.14 C323.11,120.11 322.86,120.53 323.13,120.56 C323.4,120.59 323.87,120.53 324.46,120.32 C325.04,120.12 325.89,119.72 326.65,119.34 C327.4,118.96 328.16,118.57 328.98,118.06 C329.8,117.54 330.77,116.84 331.57,116.27 C332.36,115.7 333.08,115.15 333.73,114.64 C334.37,114.13 334.93,113.65 335.43,113.19 C335.94,112.73 336.27,112.36 336.76,111.88 C337.25,111.4 337.79,110.86 338.38,110.29 C338.96,109.73 339.69,109.02 340.26,108.48 C340.82,107.95 341.33,107.51 341.76,107.06 C342.19,106.61 342.41,106.24 342.85,105.8 C343.29,105.36 343.89,104.84 344.4,104.4 C344.91,103.97 345.42,103.59 345.9,103.18 C346.39,102.76 346.79,102.37 347.3,101.92 C347.81,101.46 348.39,100.95 348.96,100.43 C349.52,99.91 350.13,99.34 350.69,98.8 C351.25,98.27 351.82,97.75 352.33,97.23 C352.84,96.71 353.33,96.18 353.73,95.7 C354.13,95.22 354.52,94.67 354.71,94.33 C354.91,93.99 355.05,93.78 354.91,93.68 C354.77,93.57 354.27,93.63 353.89,93.73Z" fill="#f9e7ea" stroke="#ffffff" stroke-width="0.5" stroke-opacity="0.9"/>
<path d="M352.19,95.74 C351.88,95.86 351.64,95.99 351.14,96.28 C350.64,96.56 349.86,97.02 349.18,97.46 C348.51,97.9 347.8,98.39 347.08,98.89 C346.36,99.39 345.62,99.92 344.87,100.46 C344.13,101 343.39,101.55 342.62,102.13 C341.85,102.71 341.03,103.34 340.25,103.94 C339.46,104.54 338.68,105.15 337.91,105.73 C337.14,106.31 336.37,106.86 335.62,107.42 C334.87,107.97 333.99,108.61 333.4,109.04 C332.81,109.47 332.71,109.54 332.07,110.02 C331.44,110.49 330.42,111.26 329.59,111.9 C328.76,112.53 327.91,113.18 327.07,113.82 C326.24,114.46 325.4,115.11 324.56,115.75 C323.72,116.39 322.82,117.06 322.04,117.67 C321.26,118.29 320.52,118.88 319.89,119.43 C319.26,119.97 318.65,120.53 318.27,120.92 C317.88,121.32 317.68,121.58 317.58,121.79 C317.48,122 317.48,122.18 317.68,122.19 C317.88,122.19 318.31,122.04 318.79,121.83 C319.28,121.63 320.04,121.27 320.61,120.96 C321.19,120.65 321.77,120.27 322.24,120 C322.71,119.73 323.18,119.42 323.41,119.36 C323.63,119.29 323.37,119.64 323.59,119.63 C323.81,119.61 324.2,119.5 324.7,119.27 C325.21,119.04 325.95,118.64 326.62,118.26 C327.28,117.88 327.95,117.49 328.69,117 C329.42,116.52 330.31,115.86 331.03,115.34 C331.75,114.81 332.41,114.31 333.01,113.85 C333.6,113.39 334.12,112.96 334.59,112.55 C335.06,112.15 335.38,111.83 335.84,111.41 C336.3,110.99 336.82,110.52 337.37,110.03 C337.91,109.53 338.61,108.91 339.14,108.44 C339.67,107.97 340.14,107.58 340.55,107.19 C340.96,106.8 341.18,106.5 341.6,106.11 C342.02,105.73 342.58,105.27 343.05,104.88 C343.52,104.49 343.99,104.14 344.44,103.77 C344.89,103.4 345.26,103.06 345.74,102.66 C346.21,102.25 346.76,101.8 347.29,101.34 C347.81,100.89 348.38,100.38 348.91,99.91 C349.44,99.44 349.97,98.98 350.46,98.53 C350.94,98.08 351.41,97.63 351.8,97.22 C352.19,96.81 352.58,96.35 352.78,96.08 C352.99,95.8 353.13,95.62 353.03,95.56 C352.93,95.51 352.51,95.62 352.19,95.74Z" fill="#fdf3f5" stroke="#ffffff" stroke-width="0.5" stroke-opacity="0.9"/>
<path d="M371,76 L362,83 L352,91 L343,99" stroke="#fbecef" stroke-width="1.8" fill="none" stroke-linecap="round" opacity="0.8"/>
<path d="M148.3,295.1 C147.17,294.68 146.58,295.02 145.2,295.3 C143.82,295.58 141.72,296.12 140,296.8 C138.28,297.48 136.62,298.45 134.9,299.4 C133.18,300.35 131.42,301.38 129.7,302.5 C127.98,303.62 126.32,304.82 124.6,306.1 C122.88,307.38 121.12,308.82 119.4,310.2 C117.68,311.58 115.95,313.22 114.3,314.4 C112.65,315.58 111.27,316.15 109.5,317.3 C107.73,318.45 105.65,319.93 103.7,321.3 C101.75,322.67 99.78,324.02 97.8,325.5 C95.82,326.98 93.78,328.62 91.8,330.2 C89.82,331.78 87.88,333.4 85.9,335 C83.92,336.6 81.7,338.22 79.9,339.8 C78.1,341.38 76.38,342.92 75.1,344.5 C73.82,346.08 72.68,347.9 72.2,349.3 C71.72,350.7 71.9,351.92 72.2,352.9 C72.5,353.88 72.92,354.62 74,355.2 C75.08,355.78 76.92,356.2 78.7,356.4 C80.48,356.6 82.92,356.5 84.7,356.4 C86.48,356.3 88.02,355.6 89.4,355.8 C90.78,356 91.6,357.2 93,357.6 C94.4,358 96.02,358.3 97.8,358.2 C99.58,358.1 101.72,357.6 103.7,357 C105.68,356.4 107.72,355.58 109.7,354.6 C111.68,353.62 113.82,352.38 115.6,351.1 C117.38,349.82 119,348.4 120.4,346.9 C121.8,345.4 122.82,343.88 124,342.1 C125.18,340.32 126.42,337.88 127.5,336.2 C128.58,334.52 129.75,333.2 130.5,332 C131.25,330.8 131.48,330.07 132,329 C132.52,327.93 132.9,326.73 133.6,325.6 C134.3,324.47 135.32,323.35 136.2,322.2 C137.08,321.05 137.93,319.85 138.9,318.7 C139.87,317.55 141.05,316.43 142,315.3 C142.95,314.17 143.77,313.08 144.6,311.9 C145.43,310.72 146.18,309.43 147,308.2 C147.82,306.97 148.78,305.78 149.5,304.5 C150.22,303.22 150.88,301.62 151.3,300.5 C151.72,299.38 152.5,298.7 152,297.8 C151.5,296.9 149.43,295.52 148.3,295.1Z" fill="#df97a6"/>
<path d="M146.59,297.08 C145.52,296.7 144.97,297.02 143.65,297.31 C142.34,297.59 140.34,298.12 138.7,298.78 C137.06,299.45 135.47,300.38 133.83,301.29 C132.19,302.21 130.5,303.2 128.86,304.28 C127.22,305.35 125.62,306.5 123.98,307.73 C122.34,308.96 120.64,310.33 119,311.65 C117.35,312.97 115.69,314.53 114.11,315.67 C112.53,316.8 111.21,317.35 109.52,318.46 C107.83,319.56 105.84,320.98 103.97,322.29 C102.1,323.6 100.22,324.9 98.32,326.32 C96.42,327.74 94.48,329.3 92.57,330.82 C90.67,332.33 88.82,333.88 86.92,335.41 C85.02,336.94 82.9,338.49 81.17,340 C79.44,341.51 77.8,342.98 76.56,344.48 C75.32,345.99 74.23,347.72 73.75,349.04 C73.28,350.36 73.43,351.51 73.71,352.43 C73.98,353.35 74.37,354.04 75.39,354.57 C76.41,355.11 78.14,355.48 79.83,355.64 C81.52,355.81 83.83,355.69 85.52,355.57 C87.21,355.46 88.68,354.78 89.99,354.95 C91.3,355.12 92.06,356.24 93.38,356.6 C94.7,356.96 96.23,357.22 97.92,357.11 C99.62,356.99 101.65,356.49 103.54,355.9 C105.42,355.32 107.36,354.52 109.26,353.57 C111.15,352.62 113.19,351.43 114.89,350.2 C116.6,348.97 118.15,347.62 119.5,346.19 C120.84,344.76 121.83,343.32 122.97,341.63 C124.12,339.93 125.32,337.63 126.36,336.03 C127.41,334.43 128.53,333.18 129.26,332.04 C129.99,330.9 130.22,330.21 130.72,329.2 C131.22,328.19 131.6,327.05 132.28,325.98 C132.96,324.9 133.93,323.84 134.79,322.74 C135.64,321.65 136.46,320.51 137.39,319.42 C138.32,318.32 139.46,317.26 140.37,316.18 C141.29,315.1 142.07,314.07 142.88,312.94 C143.68,311.82 144.41,310.6 145.2,309.43 C145.99,308.26 146.92,307.13 147.62,305.92 C148.31,304.7 148.96,303.19 149.37,302.13 C149.78,301.07 150.53,300.42 150.07,299.58 C149.61,298.74 147.66,297.46 146.59,297.08Z" fill="#df98a7" stroke="#ffffff" stroke-width="0.5" stroke-opacity="0.9"/>
<path d="M144.89,299.06 C143.88,298.72 143.35,299.03 142.1,299.31 C140.85,299.6 138.96,300.12 137.4,300.77 C135.84,301.41 134.33,302.31 132.76,303.19 C131.2,304.07 129.59,305.02 128.02,306.05 C126.45,307.08 124.93,308.18 123.36,309.35 C121.79,310.53 120.17,311.84 118.6,313.1 C117.02,314.36 115.43,315.85 113.92,316.93 C112.41,318.02 111.15,318.55 109.54,319.61 C107.93,320.67 106.02,322.03 104.24,323.29 C102.46,324.54 100.66,325.78 98.85,327.14 C97.03,328.5 95.17,329.99 93.35,331.43 C91.53,332.88 89.76,334.36 87.94,335.82 C86.12,337.28 84.09,338.76 82.44,340.2 C80.79,341.64 79.21,343.04 78.02,344.47 C76.83,345.9 75.77,347.53 75.3,348.78 C74.84,350.03 74.97,351.1 75.21,351.96 C75.46,352.82 75.82,353.46 76.77,353.94 C77.73,354.43 79.37,354.76 80.96,354.89 C82.55,355.02 84.74,354.87 86.34,354.74 C87.94,354.61 89.34,353.96 90.57,354.1 C91.81,354.24 92.51,355.28 93.76,355.6 C95,355.92 96.45,356.14 98.05,356.01 C99.65,355.88 101.58,355.39 103.37,354.81 C105.16,354.23 107.01,353.46 108.81,352.54 C110.61,351.63 112.56,350.49 114.19,349.31 C115.82,348.13 117.3,346.84 118.6,345.48 C119.89,344.12 120.84,342.76 121.94,341.16 C123.05,339.55 124.21,337.37 125.23,335.86 C126.24,334.35 127.32,333.16 128.02,332.08 C128.72,331 128.95,330.35 129.44,329.39 C129.93,328.44 130.3,327.37 130.96,326.35 C131.61,325.34 132.55,324.32 133.37,323.29 C134.19,322.25 134.98,321.17 135.88,320.13 C136.77,319.09 137.86,318.08 138.74,317.05 C139.62,316.03 140.38,315.05 141.16,313.99 C141.93,312.92 142.64,311.77 143.4,310.66 C144.16,309.55 145.06,308.48 145.73,307.33 C146.41,306.18 147.05,304.75 147.45,303.76 C147.85,302.76 148.57,302.14 148.14,301.36 C147.71,300.57 145.89,299.4 144.89,299.06Z" fill="#e09aa9" stroke="#ffffff" stroke-width="0.5" stroke-opacity="0.9"/>
<path d="M143.18,301.04 C142.24,300.74 141.73,301.04 140.55,301.32 C139.37,301.61 137.58,302.12 136.1,302.75 C134.62,303.38 133.18,304.23 131.69,305.08 C130.21,305.93 128.68,306.84 127.18,307.83 C125.69,308.81 124.24,309.86 122.74,310.98 C121.24,312.1 119.69,313.35 118.19,314.55 C116.69,315.76 115.17,317.17 113.73,318.2 C112.29,319.24 111.1,319.76 109.56,320.77 C108.03,321.78 106.21,323.08 104.51,324.28 C102.81,325.48 101.1,326.66 99.37,327.96 C97.64,329.25 95.86,330.67 94.12,332.05 C92.39,333.43 90.7,334.83 88.96,336.23 C87.23,337.62 85.29,339.03 83.71,340.4 C82.13,341.77 80.62,343.1 79.48,344.45 C78.34,345.81 77.31,347.35 76.85,348.52 C76.39,349.69 76.5,350.69 76.72,351.49 C76.94,352.29 77.27,352.87 78.16,353.32 C79.05,353.76 80.59,354.03 82.09,354.13 C83.59,354.23 85.65,354.06 87.16,353.91 C88.67,353.77 90,353.13 91.16,353.25 C92.32,353.36 92.97,354.32 94.14,354.6 C95.31,354.88 96.66,355.07 98.17,354.92 C99.68,354.77 101.51,354.28 103.21,353.71 C104.9,353.15 106.65,352.4 108.37,351.51 C110.08,350.63 111.93,349.54 113.48,348.41 C115.04,347.29 116.46,346.06 117.69,344.77 C118.93,343.49 119.85,342.2 120.91,340.69 C121.98,339.17 123.11,337.12 124.09,335.69 C125.07,334.26 126.1,333.14 126.78,332.12 C127.46,331.1 127.68,330.49 128.16,329.59 C128.63,328.69 129,327.69 129.64,326.73 C130.27,325.77 131.17,324.81 131.96,323.83 C132.75,322.85 133.51,321.83 134.37,320.85 C135.23,319.86 136.27,318.9 137.11,317.93 C137.96,316.96 138.69,316.04 139.44,315.03 C140.18,314.02 140.87,312.94 141.6,311.89 C142.34,310.85 143.2,309.83 143.85,308.75 C144.5,307.67 145.13,306.32 145.52,305.39 C145.91,304.45 146.6,303.86 146.21,303.13 C145.82,302.41 144.12,301.35 143.18,301.04Z" fill="#e19eac" stroke="#ffffff" stroke-width="0.5" stroke-opacity="0.9"/>
<path d="M141.47,303.03 C140.59,302.76 140.11,303.05 139,303.33 C137.89,303.61 136.2,304.13 134.8,304.73 C133.4,305.34 132.03,306.16 130.62,306.97 C129.21,307.78 127.76,308.66 126.34,309.6 C124.93,310.54 123.54,311.54 122.12,312.61 C120.69,313.67 119.22,314.86 117.79,316 C116.36,317.15 114.9,318.48 113.54,319.47 C112.17,320.46 111.04,320.96 109.58,321.92 C108.12,322.89 106.4,324.13 104.78,325.27 C103.17,326.41 101.54,327.54 99.89,328.78 C98.25,330.01 96.55,331.36 94.9,332.67 C93.25,333.98 91.63,335.31 89.98,336.63 C88.33,337.96 86.49,339.3 84.98,340.6 C83.48,341.9 82.04,343.16 80.94,344.44 C79.85,345.71 78.86,347.16 78.41,348.26 C77.95,349.35 78.04,350.28 78.23,351.01 C78.42,351.75 78.72,352.29 79.55,352.69 C80.38,353.08 81.81,353.31 83.22,353.38 C84.63,353.44 86.56,353.25 87.98,353.09 C89.4,352.92 90.66,352.31 91.75,352.4 C92.83,352.48 93.42,353.36 94.52,353.6 C95.61,353.84 96.88,353.99 98.3,353.82 C99.72,353.66 101.44,353.17 103.04,352.62 C104.64,352.06 106.3,351.34 107.92,350.49 C109.54,349.64 111.3,348.59 112.78,347.52 C114.26,346.45 115.61,345.28 116.79,344.07 C117.98,342.85 118.86,341.64 119.89,340.21 C120.91,338.79 122.01,336.87 122.95,335.52 C123.9,334.18 124.89,333.12 125.54,332.16 C126.19,331.2 126.41,330.63 126.88,329.79 C127.34,328.95 127.7,328.01 128.31,327.11 C128.92,326.2 129.79,325.3 130.54,324.37 C131.3,323.45 132.03,322.49 132.86,321.56 C133.68,320.63 134.68,319.72 135.49,318.81 C136.3,317.89 137,317.02 137.72,316.07 C138.44,315.13 139.09,314.11 139.8,313.12 C140.51,312.14 141.34,311.19 141.97,310.17 C142.6,309.15 143.21,307.89 143.59,307.02 C143.98,306.14 144.63,305.58 144.28,304.91 C143.93,304.25 142.35,303.29 141.47,303.03Z" fill="#e3a2af" stroke="#ffffff" stroke-width="0.5" stroke-opacity="0.9"/>
<path d="M139.77,305.01 C138.95,304.78 138.5,305.05 137.45,305.34 C136.41,305.62 134.82,306.13 133.5,306.72 C132.18,307.3 130.89,308.09 129.56,308.87 C128.22,309.64 126.85,310.48 125.51,311.38 C124.16,312.27 122.85,313.22 121.5,314.23 C120.15,315.25 118.75,316.37 117.39,317.45 C116.03,318.54 114.64,319.8 113.34,320.74 C112.05,321.67 110.99,322.16 109.6,323.08 C108.22,324 106.58,325.18 105.05,326.26 C103.52,327.35 101.98,328.42 100.42,329.6 C98.85,330.77 97.24,332.05 95.67,333.29 C94.11,334.53 92.57,335.79 91,337.04 C89.43,338.3 87.69,339.57 86.25,340.8 C84.82,342.03 83.45,343.22 82.4,344.42 C81.35,345.62 80.4,346.98 79.96,348 C79.51,349.02 79.57,349.87 79.74,350.54 C79.9,351.22 80.16,351.71 80.93,352.06 C81.7,352.41 83.04,352.59 84.35,352.62 C85.66,352.66 87.47,352.44 88.8,352.26 C90.14,352.08 91.32,351.49 92.33,351.55 C93.35,351.6 93.88,352.4 94.89,352.6 C95.91,352.8 97.09,352.91 98.42,352.73 C99.75,352.55 101.37,352.07 102.88,351.52 C104.38,350.98 105.94,350.27 107.48,349.46 C109.01,348.64 110.67,347.64 112.07,346.62 C113.47,345.6 114.76,344.5 115.89,343.36 C117.02,342.21 117.87,341.08 118.86,339.74 C119.84,338.41 120.91,336.61 121.82,335.35 C122.72,334.1 123.67,333.09 124.3,332.2 C124.93,331.3 125.15,330.77 125.6,329.99 C126.05,329.2 126.4,328.33 126.99,327.48 C127.58,326.64 128.4,325.79 129.13,324.92 C129.86,324.05 130.56,323.15 131.35,322.28 C132.14,321.4 133.08,320.54 133.86,319.68 C134.63,318.82 135.3,318.01 135.99,317.12 C136.69,316.23 137.32,315.28 138,314.35 C138.68,313.43 139.47,312.54 140.08,311.58 C140.69,310.63 141.29,309.46 141.67,308.64 C142.04,307.83 142.67,307.3 142.35,306.69 C142.03,306.08 140.58,305.23 139.77,305.01Z" fill="#e4a7b4" stroke="#ffffff" stroke-width="0.5" stroke-opacity="0.9"/>
<path d="M138.06,306.99 C137.31,306.8 136.88,307.06 135.9,307.34 C134.93,307.63 133.44,308.13 132.2,308.7 C130.96,309.27 129.74,310.02 128.49,310.76 C127.23,311.5 125.93,312.3 124.67,313.15 C123.4,314 122.16,314.9 120.88,315.86 C119.6,316.82 118.27,317.88 116.99,318.9 C115.7,319.93 114.38,321.11 113.15,322 C111.93,322.89 110.93,323.36 109.62,324.24 C108.32,325.11 106.77,326.23 105.32,327.26 C103.88,328.29 102.42,329.31 100.94,330.41 C99.46,331.52 97.94,332.73 96.45,333.9 C94.96,335.08 93.51,336.27 92.02,337.45 C90.53,338.63 88.88,339.85 87.52,341.01 C86.16,342.16 84.87,343.29 83.86,344.41 C82.86,345.53 81.94,346.79 81.51,347.73 C81.07,348.68 81.11,349.46 81.24,350.07 C81.38,350.69 81.61,351.13 82.32,351.43 C83.03,351.73 84.26,351.87 85.48,351.87 C86.7,351.87 88.39,351.62 89.63,351.43 C90.87,351.23 91.98,350.67 92.92,350.69 C93.86,350.72 94.34,351.44 95.27,351.6 C96.21,351.76 97.31,351.83 98.55,351.64 C99.79,351.44 101.3,350.96 102.71,350.43 C104.13,349.89 105.59,349.21 107.03,348.43 C108.47,347.65 110.04,346.69 111.37,345.73 C112.69,344.76 113.91,343.72 114.99,342.65 C116.07,341.57 116.88,340.51 117.83,339.27 C118.78,338.03 119.81,336.36 120.68,335.18 C121.55,334.01 122.45,333.07 123.06,332.24 C123.67,331.41 123.88,330.91 124.32,330.18 C124.75,329.45 125.1,328.65 125.67,327.86 C126.24,327.07 127.02,326.27 127.72,325.46 C128.41,324.65 129.09,323.81 129.84,322.99 C130.59,322.18 131.49,321.36 132.23,320.56 C132.97,319.75 133.61,318.99 134.27,318.16 C134.94,317.33 135.55,316.45 136.2,315.58 C136.86,314.72 137.61,313.89 138.2,313 C138.79,312.12 139.37,311.03 139.74,310.27 C140.11,309.52 140.7,309.02 140.42,308.47 C140.14,307.92 138.81,307.18 138.06,306.99Z" fill="#e6aeba" stroke="#ffffff" stroke-width="0.5" stroke-opacity="0.9"/>
<path d="M136.35,308.97 C135.66,308.82 135.26,309.07 134.35,309.35 C133.45,309.64 132.06,310.13 130.9,310.68 C129.74,311.23 128.6,311.95 127.42,312.65 C126.24,313.36 125.02,314.12 123.83,314.93 C122.63,315.73 121.47,316.58 120.26,317.49 C119.05,318.39 117.8,319.39 116.58,320.35 C115.37,321.32 114.12,322.43 112.96,323.27 C111.81,324.11 110.87,324.56 109.65,325.39 C108.42,326.22 106.96,327.28 105.59,328.25 C104.23,329.22 102.86,330.19 101.46,331.23 C100.07,332.28 98.63,333.42 97.22,334.52 C95.82,335.63 94.45,336.75 93.04,337.86 C91.64,338.97 90.08,340.12 88.8,341.21 C87.51,342.3 86.28,343.35 85.32,344.39 C84.37,345.44 83.49,346.61 83.06,347.47 C82.63,348.34 82.64,349.04 82.75,349.6 C82.86,350.15 83.06,350.55 83.71,350.8 C84.35,351.06 85.49,351.15 86.61,351.11 C87.73,351.08 89.3,350.81 90.45,350.6 C91.6,350.39 92.64,349.84 93.5,349.84 C94.37,349.84 94.79,350.48 95.65,350.6 C96.51,350.72 97.52,350.75 98.67,350.54 C99.82,350.33 101.23,349.85 102.55,349.33 C103.87,348.81 105.24,348.15 106.59,347.4 C107.94,346.65 109.41,345.74 110.66,344.83 C111.91,343.92 113.06,342.95 114.09,341.94 C115.11,340.93 115.89,339.95 116.8,338.8 C117.71,337.64 118.71,336.1 119.54,335.02 C120.38,333.93 121.24,333.05 121.82,332.28 C122.4,331.51 122.61,331.05 123.03,330.38 C123.46,329.71 123.8,328.96 124.35,328.24 C124.89,327.51 125.64,326.76 126.3,326.01 C126.96,325.25 127.61,324.47 128.33,323.71 C129.04,322.95 129.9,322.19 130.6,321.44 C131.3,320.69 131.92,319.98 132.55,319.21 C133.19,318.44 133.78,317.61 134.4,316.82 C135.03,316.02 135.75,315.24 136.32,314.42 C136.89,313.6 137.45,312.6 137.81,311.9 C138.17,311.21 138.73,310.74 138.49,310.25 C138.25,309.76 137.04,309.12 136.35,308.97Z" fill="#e9b5c0" stroke="#ffffff" stroke-width="0.5" stroke-opacity="0.9"/>
<path d="M134.65,310.95 C134.02,310.84 133.65,311.07 132.8,311.36 C131.96,311.65 130.68,312.13 129.6,312.66 C128.52,313.2 127.45,313.87 126.35,314.55 C125.25,315.22 124.11,315.94 122.99,316.7 C121.87,317.46 120.77,318.27 119.64,319.12 C118.5,319.97 117.32,320.9 116.18,321.8 C115.04,322.71 113.86,323.75 112.77,324.54 C111.69,325.33 110.82,325.76 109.67,326.55 C108.52,327.33 107.15,328.32 105.87,329.24 C104.59,330.16 103.3,331.07 101.99,332.05 C100.68,333.04 99.32,334.1 98,335.14 C96.68,336.17 95.38,337.22 94.06,338.27 C92.74,339.31 91.28,340.39 90.07,341.41 C88.85,342.43 87.69,343.41 86.78,344.38 C85.88,345.34 85.03,346.42 84.61,347.21 C84.19,348.01 84.18,348.63 84.26,349.13 C84.34,349.62 84.51,349.97 85.09,350.18 C85.67,350.38 86.71,350.42 87.74,350.36 C88.77,350.29 90.21,350 91.27,349.77 C92.33,349.54 93.3,349.02 94.09,348.99 C94.88,348.96 95.25,349.52 96.03,349.6 C96.82,349.67 97.74,349.68 98.79,349.45 C99.85,349.22 101.16,348.75 102.38,348.24 C103.61,347.72 104.88,347.09 106.14,346.37 C107.41,345.66 108.78,344.79 109.95,343.93 C111.13,343.08 112.22,342.17 113.19,341.23 C114.16,340.3 114.9,339.39 115.77,338.33 C116.64,337.26 117.6,335.85 118.41,334.85 C119.21,333.84 120.02,333.03 120.58,332.32 C121.14,331.61 121.35,331.19 121.75,330.58 C122.16,329.96 122.5,329.28 123.03,328.61 C123.55,327.94 124.26,327.25 124.89,326.55 C125.52,325.85 126.14,325.13 126.82,324.42 C127.5,323.72 128.3,323.01 128.97,322.31 C129.64,321.62 130.23,320.96 130.83,320.25 C131.44,319.54 132,318.78 132.6,318.05 C133.2,317.31 133.89,316.59 134.44,315.83 C134.98,315.08 135.53,314.17 135.88,313.53 C136.24,312.9 136.77,312.46 136.56,312.03 C136.35,311.6 135.27,311.06 134.65,310.95Z" fill="#ecbdc7" stroke="#ffffff" stroke-width="0.5" stroke-opacity="0.9"/>
<path d="M132.94,312.93 C132.38,312.86 132.03,313.08 131.26,313.37 C130.48,313.65 129.3,314.14 128.3,314.65 C127.31,315.16 126.3,315.8 125.28,316.44 C124.25,317.08 123.19,317.76 122.15,318.48 C121.11,319.2 120.08,319.95 119.02,320.74 C117.96,321.54 116.85,322.41 115.78,323.26 C114.71,324.1 113.6,325.06 112.58,325.8 C111.57,326.55 110.76,326.97 109.69,327.7 C108.61,328.44 107.33,329.37 106.14,330.24 C104.94,331.1 103.74,331.95 102.51,332.87 C101.28,333.79 100.01,334.79 98.77,335.76 C97.54,336.72 96.32,337.7 95.08,338.68 C93.84,339.65 92.48,340.66 91.34,341.61 C90.2,342.56 89.11,343.47 88.25,344.36 C87.38,345.25 86.58,346.24 86.16,346.95 C85.75,347.67 85.71,348.22 85.77,348.66 C85.82,349.09 85.96,349.39 86.48,349.55 C87,349.71 87.94,349.7 88.87,349.6 C89.8,349.5 91.12,349.18 92.09,348.94 C93.06,348.7 93.96,348.2 94.68,348.14 C95.4,348.08 95.7,348.56 96.41,348.6 C97.12,348.63 97.95,348.6 98.92,348.36 C99.89,348.11 101.09,347.64 102.22,347.14 C103.35,346.64 104.53,346.03 105.7,345.34 C106.87,344.66 108.15,343.84 109.25,343.04 C110.35,342.24 111.37,341.39 112.28,340.52 C113.2,339.66 113.91,338.83 114.74,337.86 C115.57,336.88 116.5,335.59 117.27,334.68 C118.03,333.76 118.81,333.01 119.34,332.36 C119.87,331.71 120.08,331.34 120.47,330.77 C120.87,330.21 121.21,329.6 121.71,328.99 C122.21,328.37 122.87,327.73 123.47,327.09 C124.07,326.45 124.66,325.79 125.31,325.14 C125.95,324.49 126.71,323.83 127.34,323.19 C127.98,322.55 128.53,321.94 129.11,321.29 C129.69,320.64 130.23,319.95 130.8,319.28 C131.38,318.6 132.03,317.94 132.55,317.25 C133.08,316.56 133.61,315.73 133.96,315.16 C134.3,314.58 134.8,314.18 134.63,313.8 C134.46,313.43 133.5,313 132.94,312.93Z" fill="#eec6cf" stroke="#ffffff" stroke-width="0.5" stroke-opacity="0.9"/>
<path d="M131.23,314.91 C130.74,314.88 130.41,315.09 129.71,315.37 C129,315.66 127.92,316.14 127,316.63 C126.09,317.12 125.16,317.73 124.21,318.33 C123.26,318.94 122.28,319.58 121.31,320.25 C120.34,320.93 119.39,321.63 118.4,322.37 C117.41,323.11 116.38,323.92 115.38,324.71 C114.37,325.49 113.33,326.38 112.39,327.07 C111.45,327.76 110.71,328.17 109.71,328.86 C108.71,329.55 107.52,330.42 106.41,331.23 C105.29,332.03 104.18,332.83 103.03,333.69 C101.89,334.55 100.7,335.47 99.55,336.37 C98.39,337.27 97.26,338.18 96.1,339.09 C94.95,339.99 93.67,340.93 92.61,341.81 C91.54,342.69 90.52,343.53 89.71,344.35 C88.89,345.16 88.12,346.05 87.71,346.69 C87.31,347.33 87.25,347.81 87.27,348.19 C87.3,348.56 87.41,348.81 87.87,348.92 C88.32,349.03 89.16,348.98 90,348.85 C90.84,348.71 92.03,348.37 92.91,348.11 C93.79,347.85 94.62,347.38 95.26,347.29 C95.91,347.2 96.16,347.6 96.79,347.6 C97.42,347.59 98.17,347.52 99.04,347.26 C99.92,347 101.02,346.53 102.05,346.04 C103.09,345.55 104.17,344.97 105.25,344.32 C106.34,343.67 107.52,342.89 108.54,342.14 C109.56,341.39 110.52,340.61 111.38,339.81 C112.24,339.02 112.92,338.27 113.71,337.38 C114.51,336.5 115.4,335.34 116.13,334.51 C116.86,333.68 117.59,332.99 118.1,332.4 C118.61,331.81 118.81,331.48 119.19,330.97 C119.57,330.46 119.91,329.92 120.38,329.36 C120.86,328.81 121.49,328.22 122.06,327.64 C122.63,327.05 123.19,326.45 123.8,325.85 C124.4,325.26 125.11,324.65 125.71,324.06 C126.31,323.48 126.84,322.93 127.39,322.34 C127.94,321.74 128.46,321.12 129.01,320.51 C129.55,319.9 130.16,319.29 130.67,318.67 C131.17,318.05 131.69,317.3 132.03,316.79 C132.37,316.27 132.83,315.89 132.7,315.58 C132.57,315.27 131.73,314.95 131.23,314.91Z" fill="#f2d0d7" stroke="#ffffff" stroke-width="0.5" stroke-opacity="0.9"/>
<path d="M129.53,316.89 C129.09,316.9 128.79,317.09 128.16,317.38 C127.52,317.67 126.54,318.14 125.7,318.61 C124.87,319.09 124.01,319.66 123.14,320.23 C122.27,320.79 121.37,321.4 120.47,322.03 C119.58,322.66 118.69,323.31 117.78,324 C116.86,324.68 115.9,325.43 114.97,326.16 C114.04,326.88 113.07,327.69 112.2,328.34 C111.32,328.98 110.65,329.37 109.73,330.02 C108.81,330.66 107.71,331.47 106.68,332.22 C105.65,332.97 104.62,333.71 103.56,334.51 C102.5,335.3 101.4,336.16 100.32,336.99 C99.25,337.82 98.2,338.66 97.12,339.49 C96.05,340.33 94.87,341.2 93.88,342.01 C92.89,342.82 91.94,343.59 91.17,344.33 C90.4,345.07 89.66,345.87 89.27,346.43 C88.87,346.99 88.78,347.4 88.78,347.71 C88.78,348.02 88.86,348.23 89.25,348.29 C89.64,348.36 90.38,348.26 91.13,348.09 C91.88,347.92 92.94,347.56 93.73,347.28 C94.52,347.01 95.28,346.55 95.85,346.44 C96.42,346.33 96.61,346.64 97.17,346.6 C97.72,346.55 98.38,346.44 99.17,346.17 C99.95,345.89 100.95,345.43 101.89,344.95 C102.83,344.47 103.82,343.9 104.81,343.29 C105.8,342.67 106.89,341.94 107.84,341.25 C108.78,340.55 109.67,339.83 110.48,339.11 C111.29,338.38 111.93,337.71 112.69,336.91 C113.44,336.12 114.3,335.08 114.99,334.34 C115.69,333.59 116.37,332.97 116.86,332.44 C117.35,331.91 117.54,331.62 117.91,331.17 C118.28,330.72 118.61,330.24 119.06,329.74 C119.52,329.24 120.11,328.71 120.65,328.18 C121.18,327.65 121.71,327.11 122.29,326.57 C122.86,326.03 123.52,325.47 124.09,324.94 C124.65,324.41 125.15,323.91 125.67,323.38 C126.19,322.85 126.69,322.29 127.21,321.74 C127.73,321.19 128.3,320.64 128.79,320.08 C129.27,319.53 129.77,318.87 130.1,318.42 C130.43,317.96 130.86,317.61 130.77,317.36 C130.67,317.11 129.96,316.89 129.53,316.89Z" fill="#f5dbe0" stroke="#ffffff" stroke-width="0.5" stroke-opacity="0.9"/>
<path d="M127.82,318.88 C127.45,318.92 127.18,319.1 126.61,319.39 C126.04,319.68 125.16,320.14 124.4,320.6 C123.65,321.05 122.87,321.58 122.07,322.12 C121.28,322.65 120.45,323.22 119.63,323.8 C118.81,324.39 118,324.99 117.16,325.62 C116.31,326.26 115.43,326.94 114.57,327.61 C113.71,328.27 112.81,329.01 112.01,329.61 C111.2,330.2 110.59,330.57 109.75,331.17 C108.91,331.77 107.89,332.52 106.95,333.21 C106,333.91 105.05,334.6 104.08,335.33 C103.11,336.06 102.09,336.85 101.1,337.61 C100.11,338.37 99.14,339.14 98.14,339.9 C97.15,340.67 96.07,341.48 95.15,342.21 C94.23,342.95 93.35,343.65 92.63,344.31 C91.91,344.97 91.21,345.68 90.82,346.17 C90.43,346.66 90.32,346.99 90.29,347.24 C90.26,347.49 90.31,347.65 90.64,347.66 C90.97,347.68 91.61,347.54 92.26,347.33 C92.91,347.13 93.86,346.75 94.55,346.46 C95.25,346.16 95.94,345.73 96.44,345.59 C96.93,345.45 97.07,345.68 97.55,345.6 C98.02,345.51 98.6,345.36 99.29,345.07 C99.99,344.78 100.88,344.32 101.72,343.85 C102.57,343.38 103.46,342.84 104.36,342.26 C105.27,341.68 106.26,341 107.13,340.35 C108,339.71 108.83,339.05 109.58,338.4 C110.33,337.75 110.94,337.14 111.66,336.44 C112.37,335.74 113.2,334.83 113.86,334.17 C114.52,333.51 115.16,332.95 115.62,332.48 C116.08,332.01 116.28,331.76 116.63,331.36 C116.98,330.97 117.31,330.56 117.74,330.12 C118.17,329.68 118.73,329.2 119.23,328.72 C119.74,328.25 120.24,327.77 120.77,327.29 C121.31,326.8 121.93,326.29 122.46,325.82 C122.99,325.34 123.46,324.9 123.95,324.42 C124.44,323.95 124.91,323.46 125.41,322.97 C125.9,322.48 126.44,321.99 126.9,321.5 C127.36,321.01 127.85,320.44 128.18,320.05 C128.5,319.65 128.9,319.33 128.84,319.14 C128.78,318.94 128.19,318.83 127.82,318.88Z" fill="#f9e7ea" stroke="#ffffff" stroke-width="0.5" stroke-opacity="0.9"/>
<path d="M126.11,320.86 C125.81,320.94 125.56,321.11 125.06,321.4 C124.56,321.68 123.78,322.14 123.1,322.58 C122.43,323.02 121.72,323.51 121,324.01 C120.29,324.51 119.54,325.04 118.79,325.58 C118.05,326.12 117.31,326.67 116.54,327.25 C115.77,327.83 114.95,328.45 114.17,329.06 C113.38,329.66 112.55,330.33 111.82,330.87 C111.08,331.42 110.54,331.77 109.77,332.33 C109,332.88 108.08,333.57 107.22,334.21 C106.36,334.84 105.49,335.48 104.6,336.15 C103.71,336.82 102.78,337.53 101.87,338.23 C100.97,338.92 100.07,339.61 99.16,340.31 C98.25,341.01 97.27,341.75 96.42,342.41 C95.57,343.08 94.76,343.72 94.09,344.3 C93.41,344.88 92.75,345.5 92.37,345.91 C91.99,346.32 91.85,346.58 91.8,346.77 C91.74,346.96 91.76,347.07 92.03,347.04 C92.29,347 92.83,346.81 93.39,346.58 C93.95,346.34 94.77,345.93 95.37,345.63 C95.98,345.32 96.6,344.91 97.02,344.74 C97.45,344.57 97.53,344.72 97.93,344.6 C98.32,344.47 98.81,344.29 99.42,343.98 C100.02,343.67 100.81,343.22 101.56,342.76 C102.31,342.3 103.11,341.78 103.92,341.23 C104.73,340.68 105.63,340.05 106.43,339.46 C107.22,338.87 107.98,338.27 108.68,337.69 C109.38,337.11 109.95,336.58 110.63,335.97 C111.3,335.35 112.1,334.58 112.72,334 C113.35,333.43 113.94,332.92 114.38,332.52 C114.82,332.11 115.01,331.9 115.35,331.56 C115.69,331.22 116.01,330.88 116.42,330.49 C116.83,330.11 117.34,329.68 117.82,329.27 C118.29,328.85 118.76,328.43 119.26,328 C119.77,327.57 120.33,327.12 120.83,326.69 C121.32,326.27 121.76,325.88 122.23,325.47 C122.69,325.05 123.14,324.63 123.61,324.2 C124.07,323.78 124.58,323.34 125.02,322.92 C125.46,322.5 125.93,322.01 126.25,321.67 C126.56,321.34 126.93,321.05 126.91,320.92 C126.89,320.78 126.42,320.78 126.11,320.86Z" fill="#fdf3f5" stroke="#ffffff" stroke-width="0.5" stroke-opacity="0.9"/>
<path d="M145,302 L136,309 L127,316 L118,324" stroke="#fbecef" stroke-width="1.8" fill="none" stroke-linecap="round" opacity="0.8"/>
<path d="M384.3,285.4 C383.22,285.17 380.38,286.28 378.5,287.1 C376.62,287.92 374.83,289.15 373,290.3 C371.17,291.45 369.33,292.7 367.5,294 C365.67,295.3 363.83,296.73 362,298.1 C360.17,299.47 358.33,300.9 356.5,302.2 C354.67,303.5 352.83,304.52 351,305.9 C349.17,307.28 347.07,308.97 345.5,310.5 C343.93,312.03 343.52,313.6 341.6,315.1 C339.68,316.6 336.52,318.03 334,319.5 C331.48,320.97 328.8,322.53 326.5,323.9 C324.2,325.27 321.88,326.45 320.2,327.7 C318.52,328.95 317.67,329.93 316.4,331.4 C315.13,332.87 313.87,334.82 312.6,336.5 C311.33,338.18 310.05,339.93 308.8,341.5 C307.55,343.07 306.25,344.53 305.1,345.9 C303.95,347.27 302.28,348.72 301.9,349.7 C301.52,350.68 301.65,351.48 302.8,351.8 C303.95,352.12 306.95,351.43 308.8,351.6 C310.65,351.77 312.42,352.48 313.9,352.8 C315.38,353.12 316.45,353.7 317.7,353.5 C318.95,353.3 319.93,351.72 321.4,351.6 C322.87,351.48 324.6,352.8 326.5,352.8 C328.4,352.8 330.92,352.33 332.8,351.6 C334.68,350.87 335.92,349.45 337.8,348.4 C339.68,347.35 342.22,346.45 344.1,345.3 C345.98,344.15 347.63,342.97 349.1,341.5 C350.57,340.03 351.85,338.38 352.9,336.5 C353.95,334.62 354.55,332.12 355.4,330.2 C356.25,328.28 357.07,326.37 358,325 C358.93,323.63 359.92,323.17 361,322 C362.08,320.83 363.42,319.32 364.5,318 C365.58,316.68 366.55,315.35 367.5,314.1 C368.45,312.85 369.13,311.72 370.2,310.5 C371.27,309.28 372.68,308.18 373.9,306.8 C375.12,305.42 376.43,303.72 377.5,302.2 C378.57,300.68 379.38,299.22 380.3,297.7 C381.22,296.18 382.22,294.63 383,293.1 C383.78,291.57 384.78,289.78 385,288.5 C385.22,287.22 385.38,285.63 384.3,285.4Z" fill="#e9afbb" />
<path d="M304,349 C303.67,347.5 307.33,344.33 309,342 C310.67,339.67 312.17,337 314,335 C315.83,333 317.67,331.5 320,330 C322.33,328.5 325.17,327.33 328,326 C330.83,324.67 334.17,323.33 337,322 C339.83,320.67 342.5,319 345,318 C347.5,317 350.5,315.33 352,316 C353.5,316.67 354,319.67 354,322 C354,324.33 353,327.33 352,330 C351,332.67 349.67,335.67 348,338 C346.33,340.33 344.5,342.17 342,344 C339.5,345.83 336.33,347.83 333,349 C329.67,350.17 325.67,350.67 322,351 C318.33,351.33 314,351.33 311,351 C308,350.67 304.33,350.5 304,349Z" fill="#fdf6f7"/>
<path d="M307.16,347.66 C306.86,346.35 310.09,343.56 311.55,341.51 C313.01,339.46 314.33,337.12 315.94,335.36 C317.55,333.61 319.16,332.29 321.21,330.97 C323.26,329.65 325.75,328.63 328.24,327.46 C330.73,326.29 333.66,325.11 336.15,323.94 C338.64,322.77 340.98,321.31 343.18,320.43 C345.38,319.55 348.01,318.09 349.33,318.67 C350.65,319.26 351.09,321.89 351.09,323.94 C351.09,325.99 350.21,328.63 349.33,330.97 C348.45,333.31 347.28,335.95 345.81,338 C344.35,340.05 342.74,341.66 340.54,343.27 C338.35,344.88 335.56,346.64 332.64,347.66 C329.71,348.69 326.19,349.13 322.97,349.42 C319.75,349.71 315.94,349.71 313.31,349.42 C310.67,349.13 307.45,348.98 307.16,347.66Z" fill="#fdf6f7" stroke="#e7a8b4" stroke-width="0.6" stroke-opacity="1.0"/>
<path d="M310.31,346.33 C310.06,345.19 312.84,342.8 314.1,341.03 C315.36,339.26 316.5,337.24 317.89,335.73 C319.27,334.21 320.66,333.08 322.43,331.94 C324.2,330.81 326.34,329.92 328.49,328.91 C330.63,327.9 333.15,326.9 335.3,325.89 C337.45,324.88 339.46,323.61 341.36,322.86 C343.25,322.1 345.52,320.84 346.66,321.34 C347.79,321.85 348.17,324.12 348.17,325.89 C348.17,327.65 347.41,329.92 346.66,331.94 C345.9,333.96 344.89,336.23 343.63,338 C342.37,339.77 340.98,341.15 339.09,342.54 C337.19,343.93 334.8,345.45 332.27,346.33 C329.75,347.21 326.72,347.59 323.94,347.84 C321.17,348.1 317.89,348.1 315.61,347.84 C313.34,347.59 310.57,347.46 310.31,346.33Z" fill="#fdf7f8" stroke="#e7a8b4" stroke-width="0.6" stroke-opacity="1.0"/>
<path d="M313.47,344.99 C313.26,344.04 315.59,342.03 316.65,340.54 C317.71,339.06 318.66,337.36 319.83,336.09 C320.99,334.82 322.16,333.87 323.64,332.91 C325.13,331.96 326.93,331.22 328.73,330.37 C330.53,329.52 332.65,328.68 334.45,327.83 C336.25,326.98 337.95,325.92 339.54,325.29 C341.12,324.65 343.03,323.59 343.99,324.01 C344.94,324.44 345.26,326.35 345.26,327.83 C345.26,329.31 344.62,331.22 343.99,332.91 C343.35,334.61 342.5,336.52 341.44,338 C340.38,339.48 339.22,340.65 337.63,341.81 C336.04,342.98 334.03,344.25 331.91,344.99 C329.79,345.73 327.25,346.05 324.91,346.26 C322.58,346.48 319.83,346.48 317.92,346.26 C316.01,346.05 313.68,345.95 313.47,344.99Z" fill="#fef8f9" stroke="#e7a8b4" stroke-width="0.6" stroke-opacity="1.0"/>
<path d="M316.63,343.66 C316.46,342.89 318.34,341.26 319.2,340.06 C320.06,338.86 320.83,337.49 321.77,336.46 C322.71,335.43 323.66,334.66 324.86,333.89 C326.06,333.11 327.51,332.51 328.97,331.83 C330.43,331.14 332.14,330.46 333.6,329.77 C335.06,329.09 336.43,328.23 337.71,327.71 C339,327.2 340.54,326.34 341.31,326.69 C342.09,327.03 342.34,328.57 342.34,329.77 C342.34,330.97 341.83,332.51 341.31,333.89 C340.8,335.26 340.11,336.8 339.26,338 C338.4,339.2 337.46,340.14 336.17,341.09 C334.89,342.03 333.26,343.06 331.54,343.66 C329.83,344.26 327.77,344.51 325.89,344.69 C324,344.86 321.77,344.86 320.23,344.69 C318.69,344.51 316.8,344.43 316.63,343.66Z" fill="#fefafa" stroke="#e7a8b4" stroke-width="0.6" stroke-opacity="1.0"/>
<path d="M319.79,342.32 C319.65,341.73 321.1,340.49 321.75,339.57 C322.4,338.65 322.99,337.61 323.71,336.82 C324.43,336.04 325.15,335.45 326.07,334.86 C326.99,334.27 328.1,333.81 329.21,333.29 C330.33,332.76 331.64,332.24 332.75,331.71 C333.86,331.19 334.91,330.54 335.89,330.14 C336.88,329.75 338.05,329.1 338.64,329.36 C339.23,329.62 339.43,330.8 339.43,331.71 C339.43,332.63 339.04,333.81 338.64,334.86 C338.25,335.9 337.73,337.08 337.07,338 C336.42,338.92 335.7,339.64 334.71,340.36 C333.73,341.08 332.49,341.86 331.18,342.32 C329.87,342.78 328.3,342.98 326.86,343.11 C325.42,343.24 323.71,343.24 322.54,343.11 C321.36,342.98 319.92,342.91 319.79,342.32Z" fill="#fefbfc" stroke="#e7a8b4" stroke-width="0.6" stroke-opacity="1.0"/>
<path d="M322.94,340.99 C322.85,340.58 323.85,339.72 324.3,339.09 C324.75,338.45 325.16,337.73 325.66,337.19 C326.15,336.64 326.65,336.24 327.29,335.83 C327.92,335.42 328.69,335.1 329.46,334.74 C330.23,334.38 331.13,334.02 331.9,333.66 C332.67,333.3 333.39,332.84 334.07,332.57 C334.75,332.3 335.56,331.85 335.97,332.03 C336.38,332.21 336.51,333.02 336.51,333.66 C336.51,334.29 336.24,335.1 335.97,335.83 C335.7,336.55 335.34,337.37 334.89,338 C334.43,338.63 333.94,339.13 333.26,339.63 C332.58,340.13 331.72,340.67 330.81,340.99 C329.91,341.3 328.82,341.44 327.83,341.53 C326.83,341.62 325.66,341.62 324.84,341.53 C324.03,341.44 323.03,341.39 322.94,340.99Z" fill="#fffdfd" stroke="#e7a8b4" stroke-width="0.6" stroke-opacity="1.0"/>
<path d="M326.1,339.65 C326.05,339.42 326.6,338.95 326.85,338.6 C327.1,338.25 327.33,337.85 327.6,337.55 C327.88,337.25 328.15,337.03 328.5,336.8 C328.85,336.57 329.27,336.4 329.7,336.2 C330.12,336 330.62,335.8 331.05,335.6 C331.48,335.4 331.88,335.15 332.25,335 C332.62,334.85 333.07,334.6 333.3,334.7 C333.53,334.8 333.6,335.25 333.6,335.6 C333.6,335.95 333.45,336.4 333.3,336.8 C333.15,337.2 332.95,337.65 332.7,338 C332.45,338.35 332.18,338.62 331.8,338.9 C331.43,339.17 330.95,339.47 330.45,339.65 C329.95,339.82 329.35,339.9 328.8,339.95 C328.25,340 327.6,340 327.15,339.95 C326.7,339.9 326.15,339.88 326.1,339.65Z" fill="#ffffff" stroke="#e7a8b4" stroke-width="0.6" stroke-opacity="1.0"/>
<path d="M381,290 L372,297 L362,305 L352,313 L344,319" stroke="#fbeef1" stroke-width="2.4" fill="none" stroke-linecap="round" opacity="0.9"/>
<rect x="35.45" y="46.6" width="138" height="134.9" fill="none" stroke="#2b2222" stroke-width="1.3"/>
<path d="M39.39,181.5 v2.3 M43.34,181.5 v2.3 M47.28,181.5 v2.3 M51.22,181.5 v2.3 M55.16,181.5 v4 M59.11,181.5 v2.3 M63.05,181.5 v2.3 M66.99,181.5 v2.3 M70.94,181.5 v2.3 M74.88,181.5 v4 M78.82,181.5 v2.3 M82.76,181.5 v2.3 M86.71,181.5 v2.3 M90.65,181.5 v2.3 M94.59,181.5 v4 M98.54,181.5 v2.3 M102.48,181.5 v2.3 M106.42,181.5 v2.3 M110.36,181.5 v2.3 M114.31,181.5 v4 M118.25,181.5 v2.3 M122.19,181.5 v2.3 M126.14,181.5 v2.3 M130.08,181.5 v2.3 M134.02,181.5 v4 M137.96,181.5 v2.3 M141.91,181.5 v2.3 M145.85,181.5 v2.3 M149.79,181.5 v2.3 M153.74,181.5 v4 M157.68,181.5 v2.3 M161.62,181.5 v2.3 M165.56,181.5 v2.3 M169.51,181.5 v2.3 M173.45,51.42 h2.6 M173.45,56.24 h2.6 M173.45,61.05 h2.6 M173.45,65.87 h4 M173.45,70.69 h2.6 M173.45,75.51 h2.6 M173.45,80.33 h2.6 M173.45,85.14 h4 M173.45,89.96 h2.6 M173.45,94.78 h2.6 M173.45,99.6 h2.6 M173.45,104.41 h4 M173.45,109.23 h2.6 M173.45,114.05 h2.6 M173.45,118.87 h2.6 M173.45,123.69 h4 M173.45,128.5 h2.6 M173.45,133.32 h2.6 M173.45,138.14 h2.6 M173.45,142.96 h4 M173.45,147.78 h2.6 M173.45,152.59 h2.6 M173.45,157.41 h2.6 M173.45,162.23 h4 M173.45,167.05 h2.6 M173.45,171.86 h2.6 M173.45,176.68 h2.6 " stroke="#2b2222" stroke-width="1.1" fill="none"/>
<path d="M154.62,195.8 V188.07 M154.41,188.56 L151.92,190.4" stroke="#1a1414" stroke-width="1.51" fill="none"/>
<text x="131.02" y="195.8" font-size="10.8" font-weight="bold" fill="#1a1414">2</text>
<text x="111.3" y="195.8" font-size="10.8" font-weight="bold" fill="#1a1414">3</text>
<text x="91.59" y="195.8" font-size="10.8" font-weight="bold" fill="#1a1414">4</text>
<text x="71.88" y="195.8" font-size="10.8" font-weight="bold" fill="#1a1414">5</text>
<text x="52.16" y="195.8" font-size="10.8" font-weight="bold" fill="#1a1414">6</text>
<g transform="translate(188.05,65.87) rotate(-90)">
<text x="-3" y="0" font-size="10.8" font-weight="bold" fill="#1a1414">2</text>
</g>
<g transform="translate(188.05,85.14) rotate(-90)">
<text x="-3" y="0" font-size="10.8" font-weight="bold" fill="#1a1414">4</text>
</g>
<g transform="translate(188.05,104.41) rotate(-90)">
<text x="-3" y="0" font-size="10.8" font-weight="bold" fill="#1a1414">6</text>
</g>
<g transform="translate(188.05,123.69) rotate(-90)">
<text x="-3" y="0" font-size="10.8" font-weight="bold" fill="#1a1414">8</text>
</g>
<g transform="translate(188.05,142.96) rotate(-90)">
<path d="M-2.12,0 V-7.73 M-2.33,-7.24 L-4.82,-5.4" stroke="#1a1414" stroke-width="1.51" fill="none"/>
<text x="0" y="0" font-size="10.8" font-weight="bold" fill="#1a1414">0</text>
</g>
<g transform="translate(188.05,162.23) rotate(-90)">
<path d="M-2.12,0 V-7.73 M-2.33,-7.24 L-4.82,-5.4" stroke="#1a1414" stroke-width="1.51" fill="none"/>
<text x="0" y="0" font-size="10.8" font-weight="bold" fill="#1a1414">2</text>
</g>
<line x1="37.65" y1="178.7" x2="172.45" y2="47.6" stroke="#3b3535" stroke-width="1.1" stroke-dasharray="6.2,4.4"/>
<rect x="261.3" y="46.7" width="138.3" height="132.8" fill="none" stroke="#2b2222" stroke-width="1.3"/>
<path d="M265.25,179.5 v2.3 M269.2,179.5 v2.3 M273.15,179.5 v2.3 M277.11,179.5 v2.3 M281.06,179.5 v4 M285.01,179.5 v2.3 M288.96,179.5 v2.3 M292.91,179.5 v2.3 M296.86,179.5 v2.3 M300.81,179.5 v4 M304.77,179.5 v2.3 M308.72,179.5 v2.3 M312.67,179.5 v2.3 M316.62,179.5 v2.3 M320.57,179.5 v4 M324.52,179.5 v2.3 M328.47,179.5 v2.3 M332.43,179.5 v2.3 M336.38,179.5 v2.3 M340.33,179.5 v4 M344.28,179.5 v2.3 M348.23,179.5 v2.3 M352.18,179.5 v2.3 M356.13,179.5 v2.3 M360.09,179.5 v4 M364.04,179.5 v2.3 M367.99,179.5 v2.3 M371.94,179.5 v2.3 M375.89,179.5 v2.3 M379.84,179.5 v4 M383.79,179.5 v2.3 M387.75,179.5 v2.3 M391.7,179.5 v2.3 M395.65,179.5 v2.3 M399.6,51.44 h2.6 M399.6,56.19 h2.6 M399.6,60.93 h2.6 M399.6,65.67 h4 M399.6,70.41 h2.6 M399.6,75.16 h2.6 M399.6,79.9 h2.6 M399.6,84.64 h4 M399.6,89.39 h2.6 M399.6,94.13 h2.6 M399.6,98.87 h2.6 M399.6,103.61 h4 M399.6,108.36 h2.6 M399.6,113.1 h2.6 M399.6,117.84 h2.6 M399.6,122.59 h4 M399.6,127.33 h2.6 M399.6,132.07 h2.6 M399.6,136.81 h2.6 M399.6,141.56 h4 M399.6,146.3 h2.6 M399.6,151.04 h2.6 M399.6,155.79 h2.6 M399.6,160.53 h4 M399.6,165.27 h2.6 M399.6,170.01 h2.6 M399.6,174.76 h2.6 " stroke="#2b2222" stroke-width="1.1" fill="none"/>
<path d="M380.73,193.8 V186.07 M380.51,186.56 L378.03,188.4" stroke="#1a1414" stroke-width="1.51" fill="none"/>
<text x="357.08" y="193.8" font-size="10.8" font-weight="bold" fill="#1a1414">2</text>
<text x="337.33" y="193.8" font-size="10.8" font-weight="bold" fill="#1a1414">3</text>
<text x="317.57" y="193.8" font-size="10.8" font-weight="bold" fill="#1a1414">4</text>
<text x="297.81" y="193.8" font-size="10.8" font-weight="bold" fill="#1a1414">5</text>
<text x="278.05" y="193.8" font-size="10.8" font-weight="bold" fill="#1a1414">6</text>
<g transform="translate(414.2,65.67) rotate(-90)">
<text x="-3" y="0" font-size="10.8" font-weight="bold" fill="#1a1414">2</text>
</g>
<g transform="translate(414.2,84.64) rotate(-90)">
<text x="-3" y="0" font-size="10.8" font-weight="bold" fill="#1a1414">4</text>
</g>
<g transform="translate(414.2,103.61) rotate(-90)">
<text x="-3" y="0" font-size="10.8" font-weight="bold" fill="#1a1414">6</text>
</g>
<g transform="translate(414.2,122.59) rotate(-90)">
<text x="-3" y="0" font-size="10.8" font-weight="bold" fill="#1a1414">8</text>
</g>
<g transform="translate(414.2,141.56) rotate(-90)">
<path d="M-2.12,0 V-7.73 M-2.33,-7.24 L-4.82,-5.4" stroke="#1a1414" stroke-width="1.51" fill="none"/>
<text x="0" y="0" font-size="10.8" font-weight="bold" fill="#1a1414">0</text>
</g>
<g transform="translate(414.2,160.53) rotate(-90)">
<path d="M-2.12,0 V-7.73 M-2.33,-7.24 L-4.82,-5.4" stroke="#1a1414" stroke-width="1.51" fill="none"/>
<text x="0" y="0" font-size="10.8" font-weight="bold" fill="#1a1414">2</text>
</g>
<line x1="263.5" y1="176.7" x2="398.6" y2="47.7" stroke="#3b3535" stroke-width="1.1" stroke-dasharray="6.2,4.4"/>
<rect x="36.4" y="272.6" width="137" height="132.2" fill="none" stroke="#2b2222" stroke-width="1.3"/>
<path d="M40.31,404.8 v2.3 M44.23,404.8 v2.3 M48.14,404.8 v2.3 M52.06,404.8 v2.3 M55.97,404.8 v4 M59.89,404.8 v2.3 M63.8,404.8 v2.3 M67.71,404.8 v2.3 M71.63,404.8 v2.3 M75.54,404.8 v4 M79.46,404.8 v2.3 M83.37,404.8 v2.3 M87.29,404.8 v2.3 M91.2,404.8 v2.3 M95.11,404.8 v4 M99.03,404.8 v2.3 M102.94,404.8 v2.3 M106.86,404.8 v2.3 M110.77,404.8 v2.3 M114.69,404.8 v4 M118.6,404.8 v2.3 M122.51,404.8 v2.3 M126.43,404.8 v2.3 M130.34,404.8 v2.3 M134.26,404.8 v4 M138.17,404.8 v2.3 M142.09,404.8 v2.3 M146,404.8 v2.3 M149.91,404.8 v2.3 M153.83,404.8 v4 M157.74,404.8 v2.3 M161.66,404.8 v2.3 M165.57,404.8 v2.3 M169.49,404.8 v2.3 M173.4,277.32 h2.6 M173.4,282.04 h2.6 M173.4,286.76 h2.6 M173.4,291.49 h4 M173.4,296.21 h2.6 M173.4,300.93 h2.6 M173.4,305.65 h2.6 M173.4,310.37 h4 M173.4,315.09 h2.6 M173.4,319.81 h2.6 M173.4,324.54 h2.6 M173.4,329.26 h4 M173.4,333.98 h2.6 M173.4,338.7 h2.6 M173.4,343.42 h2.6 M173.4,348.14 h4 M173.4,352.86 h2.6 M173.4,357.59 h2.6 M173.4,362.31 h2.6 M173.4,367.03 h4 M173.4,371.75 h2.6 M173.4,376.47 h2.6 M173.4,381.19 h2.6 M173.4,385.91 h4 M173.4,390.64 h2.6 M173.4,395.36 h2.6 M173.4,400.08 h2.6 " stroke="#2b2222" stroke-width="1.1" fill="none"/>
<path d="M154.71,419.1 V411.37 M154.5,411.86 L152.01,413.7" stroke="#1a1414" stroke-width="1.51" fill="none"/>
<text x="131.25" y="419.1" font-size="10.8" font-weight="bold" fill="#1a1414">2</text>
<text x="111.68" y="419.1" font-size="10.8" font-weight="bold" fill="#1a1414">3</text>
<text x="92.11" y="419.1" font-size="10.8" font-weight="bold" fill="#1a1414">4</text>
<text x="72.54" y="419.1" font-size="10.8" font-weight="bold" fill="#1a1414">5</text>
<text x="52.97" y="419.1" font-size="10.8" font-weight="bold" fill="#1a1414">6</text>
<g transform="translate(188,291.49) rotate(-90)">
<text x="-3" y="0" font-size="10.8" font-weight="bold" fill="#1a1414">2</text>
</g>
<g transform="translate(188,310.37) rotate(-90)">
<text x="-3" y="0" font-size="10.8" font-weight="bold" fill="#1a1414">4</text>
</g>
<g transform="translate(188,329.26) rotate(-90)">
<text x="-3" y="0" font-size="10.8" font-weight="bold" fill="#1a1414">6</text>
</g>
<g transform="translate(188,348.14) rotate(-90)">
<text x="-3" y="0" font-size="10.8" font-weight="bold" fill="#1a1414">8</text>
</g>
<g transform="translate(188,367.03) rotate(-90)">
<path d="M-2.12,0 V-7.73 M-2.33,-7.24 L-4.82,-5.4" stroke="#1a1414" stroke-width="1.51" fill="none"/>
<text x="0" y="0" font-size="10.8" font-weight="bold" fill="#1a1414">0</text>
</g>
<g transform="translate(188,385.91) rotate(-90)">
<path d="M-2.12,0 V-7.73 M-2.33,-7.24 L-4.82,-5.4" stroke="#1a1414" stroke-width="1.51" fill="none"/>
<text x="0" y="0" font-size="10.8" font-weight="bold" fill="#1a1414">2</text>
</g>
<line x1="38.6" y1="402" x2="172.4" y2="273.6" stroke="#3b3535" stroke-width="1.1" stroke-dasharray="6.2,4.4"/>
<rect x="260.1" y="270.45" width="139.2" height="134.05" fill="none" stroke="#2b2222" stroke-width="1.3"/>
<path d="M264.08,404.5 v2.3 M268.05,404.5 v2.3 M272.03,404.5 v2.3 M276.01,404.5 v2.3 M279.99,404.5 v4 M283.96,404.5 v2.3 M287.94,404.5 v2.3 M291.92,404.5 v2.3 M295.89,404.5 v2.3 M299.87,404.5 v4 M303.85,404.5 v2.3 M307.83,404.5 v2.3 M311.8,404.5 v2.3 M315.78,404.5 v2.3 M319.76,404.5 v4 M323.73,404.5 v2.3 M327.71,404.5 v2.3 M331.69,404.5 v2.3 M335.67,404.5 v2.3 M339.64,404.5 v4 M343.62,404.5 v2.3 M347.6,404.5 v2.3 M351.57,404.5 v2.3 M355.55,404.5 v2.3 M359.53,404.5 v4 M363.51,404.5 v2.3 M367.48,404.5 v2.3 M371.46,404.5 v2.3 M375.44,404.5 v2.3 M379.41,404.5 v4 M383.39,404.5 v2.3 M387.37,404.5 v2.3 M391.35,404.5 v2.3 M395.32,404.5 v2.3 M399.3,275.24 h2.6 M399.3,280.02 h2.6 M399.3,284.81 h2.6 M399.3,289.6 h4 M399.3,294.39 h2.6 M399.3,299.18 h2.6 M399.3,303.96 h2.6 M399.3,308.75 h4 M399.3,313.54 h2.6 M399.3,318.32 h2.6 M399.3,323.11 h2.6 M399.3,327.9 h4 M399.3,332.69 h2.6 M399.3,337.48 h2.6 M399.3,342.26 h2.6 M399.3,347.05 h4 M399.3,351.84 h2.6 M399.3,356.62 h2.6 M399.3,361.41 h2.6 M399.3,366.2 h4 M399.3,370.99 h2.6 M399.3,375.77 h2.6 M399.3,380.56 h2.6 M399.3,385.35 h4 M399.3,390.14 h2.6 M399.3,394.93 h2.6 M399.3,399.71 h2.6 " stroke="#2b2222" stroke-width="1.1" fill="none"/>
<path d="M380.3,418.8 V411.07 M380.08,411.56 L377.6,413.4" stroke="#1a1414" stroke-width="1.51" fill="none"/>
<text x="356.53" y="418.8" font-size="10.8" font-weight="bold" fill="#1a1414">2</text>
<text x="336.64" y="418.8" font-size="10.8" font-weight="bold" fill="#1a1414">3</text>
<text x="316.75" y="418.8" font-size="10.8" font-weight="bold" fill="#1a1414">4</text>
<text x="296.87" y="418.8" font-size="10.8" font-weight="bold" fill="#1a1414">5</text>
<text x="276.98" y="418.8" font-size="10.8" font-weight="bold" fill="#1a1414">6</text>
<g transform="translate(413.9,289.6) rotate(-90)">
<text x="-3" y="0" font-size="10.8" font-weight="bold" fill="#1a1414">2</text>
</g>
<g transform="translate(413.9,308.75) rotate(-90)">
<text x="-3" y="0" font-size="10.8" font-weight="bold" fill="#1a1414">4</text>
</g>
<g transform="translate(413.9,327.9) rotate(-90)">
<text x="-3" y="0" font-size="10.8" font-weight="bold" fill="#1a1414">6</text>
</g>
<g transform="translate(413.9,347.05) rotate(-90)">
<text x="-3" y="0" font-size="10.8" font-weight="bold" fill="#1a1414">8</text>
</g>
<g transform="translate(413.9,366.2) rotate(-90)">
<path d="M-2.12,0 V-7.73 M-2.33,-7.24 L-4.82,-5.4" stroke="#1a1414" stroke-width="1.51" fill="none"/>
<text x="0" y="0" font-size="10.8" font-weight="bold" fill="#1a1414">0</text>
</g>
<g transform="translate(413.9,385.35) rotate(-90)">
<path d="M-2.12,0 V-7.73 M-2.33,-7.24 L-4.82,-5.4" stroke="#1a1414" stroke-width="1.51" fill="none"/>
<text x="0" y="0" font-size="10.8" font-weight="bold" fill="#1a1414">2</text>
</g>
<line x1="262.3" y1="401.7" x2="398.3" y2="271.45" stroke="#3b3535" stroke-width="1.1" stroke-dasharray="6.2,4.4"/>
<path d="M43.2,199.2 L43.2,204.4 M43.2,199.5 L41.5,200.8" stroke="#1a1414" stroke-width="1.15" fill="none"/>
<text x="45.3" y="209.8" font-size="11" font-weight="bold" fill="#1a1414" textLength="125.3" lengthAdjust="spacingAndGlyphs">H chemical shift (ppm)</text>
<g transform="translate(202.2,175.5) rotate(-90)">
<path d="M1.9,-10.6 L1.9,-5.4 M1.9,-10.3 L0.2,-9" stroke="#1a1414" stroke-width="1.15" fill="none"/>
<text x="4" y="0" font-size="11" font-weight="bold" fill="#1a1414" textLength="128.2" lengthAdjust="spacingAndGlyphs">H chemical shift (ppm)</text>
</g>
<path d="M273.1,197.5 L273.1,202.7 M273.1,197.8 L271.4,199.1" stroke="#1a1414" stroke-width="1.15" fill="none"/>
<text x="275.2" y="208.1" font-size="11" font-weight="bold" fill="#1a1414" textLength="124.9" lengthAdjust="spacingAndGlyphs">H chemical shift (ppm)</text>
<g transform="translate(426.6,179.3) rotate(-90)">
<path d="M1.9,-10.6 L1.9,-5.4 M1.9,-10.3 L0.2,-9" stroke="#1a1414" stroke-width="1.15" fill="none"/>
<text x="4" y="0" font-size="11" font-weight="bold" fill="#1a1414" textLength="127.4" lengthAdjust="spacingAndGlyphs">H chemical shift (ppm)</text>
</g>
<path d="M47.8,422.2 L47.8,427.4 M47.8,422.5 L46.1,423.8" stroke="#1a1414" stroke-width="1.15" fill="none"/>
<text x="49.9" y="432.8" font-size="11" font-weight="bold" fill="#1a1414" textLength="125.1" lengthAdjust="spacingAndGlyphs">H chemical shift (ppm)</text>
<g transform="translate(200.6,404.1) rotate(-90)">
<path d="M1.9,-10.6 L1.9,-5.4 M1.9,-10.3 L0.2,-9" stroke="#1a1414" stroke-width="1.15" fill="none"/>
<text x="4" y="0" font-size="11" font-weight="bold" fill="#1a1414" textLength="126.9" lengthAdjust="spacingAndGlyphs">H chemical shift (ppm)</text>
</g>
<path d="M270.1,423.3 L270.1,428.5 M270.1,423.6 L268.4,424.9" stroke="#1a1414" stroke-width="1.15" fill="none"/>
<text x="272.2" y="433.9" font-size="11" font-weight="bold" fill="#1a1414" textLength="123" lengthAdjust="spacingAndGlyphs">H chemical shift (ppm)</text>
<g transform="translate(429,403.5) rotate(-90)">
<path d="M1.9,-10.6 L1.9,-5.4 M1.9,-10.3 L0.2,-9" stroke="#1a1414" stroke-width="1.15" fill="none"/>
<text x="4" y="0" font-size="11" font-weight="bold" fill="#1a1414" textLength="123.1" lengthAdjust="spacingAndGlyphs">H chemical shift (ppm)</text>
</g>
<text x="42.5" y="62.6" font-size="11.4" font-weight="bold" text-anchor="start" fill="#1a1414" stroke="#1a1414" stroke-width="0.2">H-FER</text>
<text x="267.5" y="59" font-size="11.6" font-weight="bold" text-anchor="start" fill="#1a1414" stroke="#1a1414" stroke-width="0.2" textLength="30.4" lengthAdjust="spacingAndGlyphs">0.4Fe</text>
<text x="42.4" y="284.9" font-size="11.6" font-weight="bold" text-anchor="start" fill="#1a1414" stroke="#1a1414" stroke-width="0.2" textLength="30.4" lengthAdjust="spacingAndGlyphs">0.6Fe</text>
<text x="267.6" y="282.7" font-size="11.6" font-weight="bold" fill="#1a1414" stroke="#1a1414" stroke-width="0.2" textLength="30.4" lengthAdjust="spacingAndGlyphs"> .2Fe</text>
<path d="M271.88,282.7 V274.39 M271.64,274.93 L268.91,276.9" stroke="#1a1414" stroke-width="1.72" fill="none"/>
<text x="103.4" y="70.9" font-size="9.7" font-weight="bold" fill="#1a1414" stroke="#1a1414" stroke-width="0.15" textLength="40.9" lengthAdjust="spacingAndGlyphs">( .7, 3.4)</text>
<path d="M110.48,70.9 V63.95 M110.28,64.4 L107.93,66.05" stroke="#1a1414" stroke-width="1.48" fill="none"/>
<text x="62.6" y="95.5" font-size="9.7" font-weight="bold" fill="#1a1414" stroke="#1a1414" stroke-width="0.15" textLength="40.9" lengthAdjust="spacingAndGlyphs">(2.9, 5.4)</text>
<text x="35.9" y="110.7" font-size="9.7" font-weight="bold" fill="#1a1414" stroke="#1a1414" stroke-width="0.15" textLength="40.9" lengthAdjust="spacingAndGlyphs">(4.0, 6.7)</text>
<text x="131.4" y="103.2" font-size="9.7" font-weight="bold" fill="#1a1414" stroke="#1a1414" stroke-width="0.15" textLength="40.9" lengthAdjust="spacingAndGlyphs">(2.5, 5.4)</text>
<text x="130.7" y="119.2" font-size="9.7" font-weight="bold" fill="#1a1414" stroke="#1a1414" stroke-width="0.15" textLength="40.9" lengthAdjust="spacingAndGlyphs">(2.7, 6.7)</text>
<text x="79" y="151.4" font-size="9.7" font-weight="bold" fill="#1a1414" stroke="#1a1414" stroke-width="0.15" textLength="40.9" lengthAdjust="spacingAndGlyphs">(3.9, 7.8)</text>
<text x="313.5" y="77.7" font-size="9.7" font-weight="bold" fill="#1a1414" stroke="#1a1414" stroke-width="0.15" textLength="40.9" lengthAdjust="spacingAndGlyphs">(2. , 4.2)</text>
<path d="M329.11,77.7 V70.75 M328.9,71.2 L326.55,72.85" stroke="#1a1414" stroke-width="1.48" fill="none"/>
<text x="268.1" y="108.6" font-size="9.7" font-weight="bold" fill="#1a1414" stroke="#1a1414" stroke-width="0.15" textLength="40.9" lengthAdjust="spacingAndGlyphs">(3.9, 6.8)</text>
<text x="357.7" y="106.1" font-size="9.7" font-weight="bold" fill="#1a1414" stroke="#1a1414" stroke-width="0.15" textLength="40.9" lengthAdjust="spacingAndGlyphs">(2.4, 4.8)</text>
<text x="349.6" y="122.5" font-size="9.7" font-weight="bold" fill="#1a1414" stroke="#1a1414" stroke-width="0.15" textLength="40.9" lengthAdjust="spacingAndGlyphs">(2.9, 6.8)</text>
<text x="87.9" y="302.7" font-size="9.7" font-weight="bold" fill="#1a1414" stroke="#1a1414" stroke-width="0.15" textLength="40.9" lengthAdjust="spacingAndGlyphs">(2. , 4.2)</text>
<path d="M103.51,302.7 V295.75 M103.3,296.2 L100.95,297.85" stroke="#1a1414" stroke-width="1.48" fill="none"/>
<text x="42.1" y="334.2" font-size="9.7" font-weight="bold" fill="#1a1414" stroke="#1a1414" stroke-width="0.15" textLength="40.9" lengthAdjust="spacingAndGlyphs">(3.9, 6.8)</text>
<text x="131.1" y="331.1" font-size="9.7" font-weight="bold" fill="#1a1414" stroke="#1a1414" stroke-width="0.15" textLength="40.9" lengthAdjust="spacingAndGlyphs">(2.4, 4.8)</text>
<text x="124" y="348.4" font-size="9.7" font-weight="bold" fill="#1a1414" stroke="#1a1414" stroke-width="0.15" textLength="40.9" lengthAdjust="spacingAndGlyphs">(2.9, 6.8)</text>
<text x="310.4" y="303.3" font-size="9.7" font-weight="bold" fill="#1a1414" stroke="#1a1414" stroke-width="0.15" textLength="40.9" lengthAdjust="spacingAndGlyphs">( .9, 3.8)</text>
<path d="M317.48,303.3 V296.35 M317.28,296.8 L314.93,298.45" stroke="#1a1414" stroke-width="1.48" fill="none"/>
<text x="272.4" y="334.5" font-size="9.7" font-weight="bold" fill="#1a1414" stroke="#1a1414" stroke-width="0.15" textLength="40.9" lengthAdjust="spacingAndGlyphs">(3.8, 6.7)</text>
<text x="358.3" y="330.5" font-size="9.7" font-weight="bold" fill="#1a1414" stroke="#1a1414" stroke-width="0.15" textLength="40.9" lengthAdjust="spacingAndGlyphs">(2.4, 4.8)</text>
<text x="349" y="346.5" font-size="9.7" font-weight="bold" fill="#1a1414" stroke="#1a1414" stroke-width="0.15" textLength="40.9" lengthAdjust="spacingAndGlyphs">(2.9, 6.7)</text>
<line x1="93.8" y1="111.2" x2="119.8" y2="111.2" stroke="#3d55c8" stroke-width="1.2" stroke-dasharray="3,2.2"/>
<circle cx="93.8" cy="111.2" r="1.6" fill="#3d55c8"/>
<circle cx="119.8" cy="111.2" r="1.6" fill="#3d55c8"/>
<line x1="115" y1="98.6" x2="124.2" y2="98.6" stroke="#3d55c8" stroke-width="1.2" stroke-dasharray="3,2.2"/>
<circle cx="115" cy="98.6" r="1.6" fill="#3d55c8"/>
<circle cx="124.2" cy="98.6" r="1.6" fill="#3d55c8"/>
<circle cx="140.2" cy="79.3" r="1.6" fill="#555"/>
<circle cx="96.6" cy="121.7" r="1.6" fill="#555"/>
<line x1="322.3" y1="110.9" x2="342.5" y2="110.9" stroke="#3d55c8" stroke-width="1.2" stroke-dasharray="7,6.2"/>
<circle cx="322.3" cy="110.9" r="1.6" fill="#3d55c8"/>
<circle cx="342.5" cy="110.9" r="1.6" fill="#3d55c8"/>
<circle cx="357.6" cy="86.7" r="1.6" fill="#555"/>
<circle cx="352.3" cy="91.5" r="1.6" fill="#555"/>
<line x1="96.1" y1="336.9" x2="117.6" y2="336.9" stroke="#3d55c8" stroke-width="1.2" stroke-dasharray="3.2,2.4"/>
<circle cx="96.1" cy="336.9" r="1.6" fill="#3d55c8"/>
<circle cx="117.6" cy="336.9" r="1.6" fill="#3d55c8"/>
<circle cx="131.8" cy="313.4" r="1.6" fill="#555"/>
<circle cx="125.4" cy="318.9" r="1.6" fill="#555"/>
<line x1="323.2" y1="334.7" x2="342.3" y2="334.7" stroke="#3d55c8" stroke-width="1.2" stroke-dasharray="5.3,8.3"/>
<circle cx="323.2" cy="334.7" r="1.6" fill="#3d55c8"/>
<circle cx="342.3" cy="334.7" r="1.6" fill="#3d55c8"/>
<circle cx="361.8" cy="307.1" r="1.6" fill="#555"/>
<circle cx="352.7" cy="317" r="1.6" fill="#555"/>
<path d="M35.5,29.1 C39.58,28.83 52.52,28.7 60,27.5 C67.48,26.3 75.73,24.48 80.4,21.9 C85.07,19.32 85.45,15.33 88,12 C90.55,8.67 93.53,2.57 95.7,1.9 C97.87,1.23 99.18,4.97 101,8 C102.82,11.03 104.77,18.77 106.6,20.1 C108.43,21.43 109.8,17.7 112,16 C114.2,14.3 117.47,10.4 119.8,9.9 C122.13,9.4 124.13,11.48 126,13 C127.87,14.52 129.12,17.4 131,19 C132.88,20.6 135.78,22.37 137.3,22.6 C138.82,22.83 139.15,20.33 140.1,20.4 C141.05,20.47 141.65,21.65 143,23 C144.35,24.35 145.37,27.4 148.2,28.5 C151.03,29.6 155.8,29.35 160,29.6 C164.2,29.85 171.17,29.93 173.4,30" fill="none" stroke="#2b2222" stroke-width="1.5" stroke-linejoin="round" stroke-linecap="round"/>
<path d="M35.5,42.3 C39.58,42.12 52.52,41.75 60,41.2 C67.48,40.65 75.73,40.37 80.4,39 C85.07,37.63 85.82,34.5 88,33 C90.18,31.5 91.67,30 93.5,30 C95.33,30 97,31.62 99,33 C101,34.38 103.67,37.8 105.5,38.3 C107.33,38.8 108.35,36.73 110,36 C111.65,35.27 113.77,34.78 115.4,33.9 C117.03,33.02 118.2,30.85 119.8,30.7 C121.4,30.55 123,31.73 125,33 C127,34.27 130.05,38.47 131.8,38.3 C133.55,38.13 134.33,34.37 135.5,32 C136.67,29.63 137.8,24.1 138.8,24.1 C139.8,24.1 140.3,28.72 141.5,32 C142.7,35.28 142.92,41.7 146,43.8 C149.08,45.9 155.43,44.42 160,44.6 C164.57,44.78 171.17,44.85 173.4,44.9" fill="none" stroke="#2b2222" stroke-width="1.5" stroke-linejoin="round" stroke-linecap="round"/>
<text x="27.5" y="22.3" font-size="14" font-weight="normal" text-anchor="start" fill="#2a2020" textLength="52" lengthAdjust="spacingAndGlyphs" stroke="#2a2020" stroke-width="0.35">onepulse</text>
<path d="M33.6,47.2 C33.53,49.33 33.35,56.38 33.2,60 C33.05,63.62 33.03,66.67 32.7,68.9 C32.37,71.13 33.32,72.22 31.2,73.4 C29.08,74.58 23.73,75.07 20,76 C16.27,76.93 9.63,77.83 8.8,79 C7.97,80.17 11.88,81.63 15,83 C18.12,84.37 26,85.53 27.5,87.2 C29,88.87 25.98,90.87 24,93 C22.02,95.13 15.62,97.9 15.6,100 C15.58,102.1 23.9,103.6 23.9,105.6 C23.9,107.6 15.45,109.97 15.6,112 C15.75,114.03 24.35,116.07 24.8,117.8 C25.25,119.53 18.77,120.87 18.3,122.4 C17.83,123.93 20.15,125.32 22,127 C23.85,128.68 27.9,128.67 29.4,132.5 C30.9,136.33 30.53,144.58 31,150 C31.47,155.42 31.87,159.82 32.2,165 C32.53,170.18 32.87,178.42 33,181.1" fill="none" stroke="#2b2222" stroke-width="1.5" stroke-linejoin="round" stroke-linecap="round"/>
<path d="M261.5,34.2 C265,33.53 275.93,32.4 282.5,30.2 C289.07,28 295.2,24.28 300.9,21 C306.6,17.72 312.75,12.68 316.7,10.5 C320.65,8.32 320.65,8.77 324.6,7.9 C328.55,7.03 336.02,5.52 340.4,5.3 C344.78,5.08 347.85,5.95 350.9,6.6 C353.95,7.25 356.08,7.67 358.7,9.2 C361.32,10.73 363.53,12.95 366.6,15.8 C369.67,18.65 373.6,23.47 377.1,26.3 C380.6,29.13 383.87,31.37 387.6,32.8 C391.33,34.23 397.52,34.55 399.5,34.9" fill="none" stroke="#2b2222" stroke-width="1.5" stroke-linejoin="round" stroke-linecap="round"/>
<path d="M261.5,41.5 C265,41.15 276.37,40.62 282.5,39.4 C288.63,38.18 293.92,36.17 298.3,34.2 C302.68,32.23 305.3,29.45 308.8,27.6 C312.3,25.75 315.8,23.98 319.3,23.1 C322.8,22.22 326.28,22.87 329.8,22.3 C333.32,21.73 336.45,20.57 340.4,19.7 C344.35,18.83 350,17.23 353.5,17.1 C357,16.97 358.77,16.93 361.4,18.9 C364.03,20.87 366.23,25.48 369.3,28.9 C372.37,32.32 376.3,36.98 379.8,39.4 C383.3,41.82 387.02,42.52 390.3,43.4 C393.58,44.28 397.97,44.48 399.5,44.7" fill="none" stroke="#2b2222" stroke-width="1.5" stroke-linejoin="round" stroke-linecap="round"/>
<text x="248.2" y="20.8" font-size="14" font-weight="normal" text-anchor="start" fill="#2a2020" textLength="52" lengthAdjust="spacingAndGlyphs" stroke="#2a2020" stroke-width="0.35">onepulse</text>
<path d="M258.5,49.6 C258.2,51.43 258.43,56.47 256.7,60.6 C254.97,64.73 251.25,70.38 248.1,74.4 C244.95,78.42 239.97,81.55 237.8,84.7 C235.63,87.85 235.1,90.15 235.1,93.3 C235.1,96.45 236.77,100.17 237.8,103.6 C238.83,107.03 239.58,110.17 241.3,113.9 C243.02,117.63 246.1,121.7 248.1,126 C250.1,130.3 251.87,134.55 253.3,139.7 C254.73,144.85 255.83,150.3 256.7,156.9 C257.57,163.5 258.2,175.57 258.5,179.3" fill="none" stroke="#2b2222" stroke-width="1.5" stroke-linejoin="round" stroke-linecap="round"/>
<path d="M36.3,260.2 C39,259.9 47.17,259.58 52.5,258.4 C57.83,257.22 63.48,255.52 68.3,253.1 C73.12,250.68 77.45,246.67 81.4,243.9 C85.35,241.13 88.93,238.17 92,236.5 C95.07,234.83 95.87,234.63 99.8,233.9 C103.73,233.17 110.78,232.1 115.6,232.1 C120.42,232.1 125.2,232.82 128.7,233.9 C132.2,234.98 133.53,236.05 136.6,238.6 C139.67,241.15 143.6,246.13 147.1,249.2 C150.6,252.27 153.3,255.03 157.6,257 C161.9,258.97 170.35,260.33 172.9,261" fill="none" stroke="#2b2222" stroke-width="1.5" stroke-linejoin="round" stroke-linecap="round"/>
<path d="M36.3,267.5 C39,267.28 47.6,267.07 52.5,266.2 C57.4,265.33 61.32,264.05 65.7,262.3 C70.08,260.55 74.87,257.67 78.8,255.7 C82.73,253.73 86.23,251.68 89.3,250.5 C92.37,249.32 94.35,248.82 97.2,248.6 C100.05,248.38 103.33,249.63 106.4,249.2 C109.47,248.77 112.1,247.1 115.6,246 C119.1,244.9 124.33,242.73 127.4,242.6 C130.47,242.47 131.58,243.23 134,245.2 C136.42,247.17 138.83,251.12 141.9,254.4 C144.97,257.68 148.9,262.48 152.4,264.9 C155.9,267.32 159.48,268.02 162.9,268.9 C166.32,269.78 171.23,269.98 172.9,270.2" fill="none" stroke="#2b2222" stroke-width="1.5" stroke-linejoin="round" stroke-linecap="round"/>
<text x="27.5" y="246.9" font-size="14" font-weight="normal" text-anchor="start" fill="#2a2020" textLength="52.2" lengthAdjust="spacingAndGlyphs" stroke="#2a2020" stroke-width="0.35">onepulse</text>
<path d="M33.2,275.3 C33.08,277.57 33.47,285.2 32.5,288.9 C31.53,292.6 29.97,294.93 27.4,297.5 C24.83,300.07 19.85,301.73 17.1,304.3 C14.35,306.87 11.93,310.05 10.9,312.9 C9.87,315.75 10.32,318.27 10.9,321.4 C11.48,324.53 12.8,327.72 14.4,331.7 C16,335.68 18.33,341.03 20.5,345.3 C22.67,349.57 25.57,353.02 27.4,357.3 C29.23,361.58 30.53,363.58 31.5,371 C32.47,378.42 32.92,396.67 33.2,401.8" fill="none" stroke="#2b2222" stroke-width="1.5" stroke-linejoin="round" stroke-linecap="round"/>
<path d="M260,256.1 C263.32,255.57 273.37,254.4 279.9,252.9 C286.43,251.4 292.77,249.4 299.2,247.1 C305.63,244.8 312.62,240.97 318.5,239.1 C324.38,237.23 329.15,236.97 334.5,235.9 C339.85,234.83 346.58,233.13 350.6,232.7 C354.62,232.27 355.4,232.23 358.6,233.3 C361.8,234.37 365.78,236.8 369.8,239.1 C373.82,241.4 377.88,244.7 382.7,247.1 C387.52,249.5 396.03,252.43 398.7,253.5" fill="none" stroke="#2b2222" stroke-width="1.5" stroke-linejoin="round" stroke-linecap="round"/>
<path d="M260,266.4 C260.83,266.37 263.28,266.35 265,266.2 C266.72,266.05 268.47,265.6 270.3,265.5 C272.13,265.4 273.87,265.75 276,265.6 C278.13,265.45 280.85,265 283.1,264.6 C285.35,264.2 287.85,263.42 289.5,263.2 C291.15,262.98 291.92,263.45 293,263.3 C294.08,263.15 294.7,262.75 296,262.3 C297.3,261.85 299.38,260.95 300.8,260.6 C302.22,260.25 303.17,260.45 304.5,260.2 C305.83,259.95 307.47,259.32 308.8,259.1 C310.13,258.88 311.17,259.17 312.5,258.9 C313.83,258.63 315.27,257.97 316.8,257.5 C318.33,257.03 320.17,256.42 321.7,256.1 C323.23,255.78 324.4,255.95 326,255.6 C327.6,255.25 329.35,254.77 331.3,254 C333.25,253.23 335.57,252.42 337.7,251 C339.83,249.58 341.95,247.22 344.1,245.5 C346.25,243.78 348.45,241.93 350.6,240.7 C352.75,239.47 355.13,238.67 357,238.1 C358.87,237.53 360.3,236.98 361.8,237.3 C363.3,237.62 364.4,238.1 366,240 C367.6,241.9 369.68,246.02 371.4,248.7 C373.12,251.38 373.88,253.68 376.3,256.1 C378.72,258.52 382.17,261.48 385.9,263.2 C389.63,264.92 396.57,265.87 398.7,266.4" fill="none" stroke="#2b2222" stroke-width="1.5" stroke-linejoin="round" stroke-linecap="round"/>
<text x="246.1" y="246.3" font-size="14" font-weight="normal" text-anchor="start" fill="#2a2020" textLength="50.5" lengthAdjust="spacingAndGlyphs" stroke="#2a2020" stroke-width="0.35">onepulse</text>
<path d="M257.8,271.2 C257.68,272.75 257.97,277.53 257.1,280.5 C256.23,283.47 254.78,286.15 252.6,289 C250.42,291.85 246.85,295.02 244,297.6 C241.15,300.18 237.22,302.48 235.5,304.5 C233.78,306.52 233.42,307.98 233.7,309.7 C233.98,311.42 235.48,312.52 237.2,314.8 C238.92,317.08 242,319.68 244,323.4 C246,327.12 247.47,331.37 249.2,337.1 C250.93,342.83 253.08,351.5 254.4,357.8 C255.72,364.1 256.53,370.33 257.1,374.9 C257.67,379.47 257.8,381.77 257.8,385.2 C257.8,388.63 257.1,392.35 257.1,395.5 C257.1,398.65 257.68,402.67 257.8,404.1" fill="none" stroke="#2b2222" stroke-width="1.5" stroke-linejoin="round" stroke-linecap="round"/>
<line x1="533.8" y1="69" x2="536" y2="89.6" stroke="#e4e4e4" stroke-width="1.1" stroke-linecap="round"/>
<line x1="536" y1="89.6" x2="533.8" y2="104.3" stroke="#e4e4e4" stroke-width="1.1" stroke-linecap="round"/>
<line x1="604.6" y1="67.44" x2="602.4" y2="88.14" stroke="#e4e4e4" stroke-width="1.1" stroke-linecap="round"/>
<line x1="602.4" y1="88.14" x2="604.6" y2="102.74" stroke="#e4e4e4" stroke-width="1.1" stroke-linecap="round"/>
<circle cx="533" cy="89.6" r="2.5" fill="url(#g0)"/>
<circle cx="605.4" cy="88.01" r="2.5" fill="url(#g0)"/>
<line x1="532" y1="69" x2="534.2" y2="89.6" stroke="#dcdcdc" stroke-width="1.1" stroke-linecap="round"/>
<line x1="534.2" y1="89.6" x2="532" y2="104.9" stroke="#dcdcdc" stroke-width="1.1" stroke-linecap="round"/>
<line x1="606.4" y1="67.36" x2="604.2" y2="88.06" stroke="#dcdcdc" stroke-width="1.1" stroke-linecap="round"/>
<line x1="604.2" y1="88.06" x2="606.4" y2="103.26" stroke="#dcdcdc" stroke-width="1.1" stroke-linecap="round"/>
<circle cx="530" cy="89.6" r="2.5" fill="url(#g1)"/>
<circle cx="608.4" cy="87.88" r="2.5" fill="url(#g1)"/>
<circle cx="535" cy="68.5" r="3.78" fill="url(#g2)"/>
<circle cx="536.6" cy="103.6" r="3.78" fill="url(#g2)"/>
<circle cx="606.3" cy="67" r="3.78" fill="url(#g2)"/>
<circle cx="607" cy="101" r="3.78" fill="url(#g2)"/>
<line x1="530.2" y1="69" x2="532.4" y2="89.6" stroke="#d4d4d4" stroke-width="1.1" stroke-linecap="round"/>
<line x1="532.4" y1="89.6" x2="530.2" y2="105.5" stroke="#d4d4d4" stroke-width="1.1" stroke-linecap="round"/>
<line x1="608.2" y1="67.28" x2="606" y2="87.98" stroke="#d4d4d4" stroke-width="1.1" stroke-linecap="round"/>
<line x1="606" y1="87.98" x2="608.2" y2="103.78" stroke="#d4d4d4" stroke-width="1.1" stroke-linecap="round"/>
<line x1="547.7" y1="59.05" x2="535" y2="68.5" stroke="#d1d1d1" stroke-width="1" stroke-linecap="round"/>
<line x1="547.7" y1="121.65" x2="536.6" y2="103.6" stroke="#d1d1d1" stroke-width="1" stroke-linecap="round"/>
<line x1="590.7" y1="58.1" x2="606.3" y2="67" stroke="#d1d1d1" stroke-width="1" stroke-linecap="round"/>
<line x1="590.7" y1="120.7" x2="607" y2="101" stroke="#d1d1d1" stroke-width="1" stroke-linecap="round"/>
<line x1="551.7" y1="40.6" x2="569.2" y2="40.3" stroke="#cccccc" stroke-width="1.35" stroke-linecap="round"/>
<line x1="534.6" y1="41.2" x2="523.5" y2="58.5" stroke="#cccccc" stroke-width="1.25" stroke-linecap="round"/>
<line x1="550.6" y1="38.8" x2="544.7" y2="56.95" stroke="#cccccc" stroke-width="1" stroke-linecap="round"/>
<line x1="551.7" y1="40.6" x2="546.2" y2="58" stroke="#cccccc" stroke-width="1.3" stroke-linecap="round"/>
<line x1="551.7" y1="135.7" x2="569.2" y2="136" stroke="#cccccc" stroke-width="1.35" stroke-linecap="round"/>
<line x1="534.6" y1="135.1" x2="523.5" y2="122.2" stroke="#cccccc" stroke-width="1.25" stroke-linecap="round"/>
<line x1="550.6" y1="137.5" x2="544.7" y2="123.75" stroke="#cccccc" stroke-width="1" stroke-linecap="round"/>
<line x1="551.7" y1="135.7" x2="546.2" y2="122.7" stroke="#cccccc" stroke-width="1.3" stroke-linecap="round"/>
<line x1="510" y1="71.5" x2="514" y2="88.6" stroke="#cccccc" stroke-width="1.25" stroke-linecap="round"/>
<line x1="514" y1="88.6" x2="510" y2="106.5" stroke="#cccccc" stroke-width="1.25" stroke-linecap="round"/>
<line x1="528.4" y1="69" x2="530.6" y2="89.6" stroke="#cccccc" stroke-width="1.1" stroke-linecap="round"/>
<line x1="530.6" y1="89.6" x2="528.4" y2="106.1" stroke="#cccccc" stroke-width="1.1" stroke-linecap="round"/>
<line x1="586.7" y1="39.83" x2="569.2" y2="40.3" stroke="#cccccc" stroke-width="1.35" stroke-linecap="round"/>
<line x1="603.8" y1="39.68" x2="614.9" y2="56.49" stroke="#cccccc" stroke-width="1.25" stroke-linecap="round"/>
<line x1="587.8" y1="37.98" x2="593.7" y2="55.87" stroke="#cccccc" stroke-width="1" stroke-linecap="round"/>
<line x1="586.7" y1="39.83" x2="592.2" y2="56.99" stroke="#cccccc" stroke-width="1.3" stroke-linecap="round"/>
<line x1="586.7" y1="134.93" x2="569.2" y2="136" stroke="#cccccc" stroke-width="1.35" stroke-linecap="round"/>
<line x1="603.8" y1="133.58" x2="614.9" y2="120.19" stroke="#cccccc" stroke-width="1.25" stroke-linecap="round"/>
<line x1="587.8" y1="136.68" x2="593.7" y2="122.67" stroke="#cccccc" stroke-width="1" stroke-linecap="round"/>
<line x1="586.7" y1="134.93" x2="592.2" y2="121.69" stroke="#cccccc" stroke-width="1.3" stroke-linecap="round"/>
<line x1="628.4" y1="68.9" x2="624.4" y2="86.17" stroke="#cccccc" stroke-width="1.25" stroke-linecap="round"/>
<line x1="624.4" y1="86.17" x2="628.4" y2="103.9" stroke="#cccccc" stroke-width="1.25" stroke-linecap="round"/>
<line x1="610" y1="67.2" x2="607.8" y2="87.9" stroke="#cccccc" stroke-width="1.1" stroke-linecap="round"/>
<line x1="607.8" y1="87.9" x2="610" y2="104.3" stroke="#cccccc" stroke-width="1.1" stroke-linecap="round"/>
<line x1="549.2" y1="60.1" x2="535" y2="68.5" stroke="#cccccc" stroke-width="1.25" stroke-linecap="round"/>
<line x1="549.2" y1="120.6" x2="536.6" y2="103.6" stroke="#cccccc" stroke-width="1.25" stroke-linecap="round"/>
<line x1="589.2" y1="59.22" x2="606.3" y2="67" stroke="#cccccc" stroke-width="1.25" stroke-linecap="round"/>
<line x1="589.2" y1="119.72" x2="607" y2="101" stroke="#cccccc" stroke-width="1.25" stroke-linecap="round"/>
<circle cx="551.7" cy="40.6" r="3.67" fill="url(#g3)"/>
<circle cx="569.2" cy="40.3" r="2.48" fill="url(#g4)"/>
<circle cx="534.6" cy="41.2" r="3.7" fill="url(#g3)"/>
<circle cx="549.2" cy="60.1" r="2.4" fill="url(#g4)"/>
<circle cx="509.4" cy="68.5" r="3.5" fill="url(#g3)"/>
<circle cx="551.7" cy="135.7" r="3.67" fill="url(#g3)"/>
<circle cx="569.2" cy="136" r="2.48" fill="url(#g4)"/>
<circle cx="534.6" cy="135.1" r="3.7" fill="url(#g3)"/>
<circle cx="549.2" cy="120.6" r="2.4" fill="url(#g4)"/>
<circle cx="509.4" cy="112.2" r="3.5" fill="url(#g3)"/>
<circle cx="514" cy="88.6" r="2.5" fill="url(#g4)"/>
<circle cx="586.7" cy="39.83" r="3.67" fill="url(#g3)"/>
<circle cx="569.2" cy="40.3" r="2.48" fill="url(#g4)"/>
<circle cx="603.8" cy="39.68" r="3.7" fill="url(#g3)"/>
<circle cx="589.2" cy="59.22" r="2.4" fill="url(#g4)"/>
<circle cx="629" cy="65.87" r="3.5" fill="url(#g3)"/>
<circle cx="586.7" cy="134.93" r="3.67" fill="url(#g3)"/>
<circle cx="569.2" cy="136" r="2.48" fill="url(#g4)"/>
<circle cx="603.8" cy="133.58" r="3.7" fill="url(#g3)"/>
<circle cx="589.2" cy="119.72" r="2.4" fill="url(#g4)"/>
<circle cx="629" cy="109.57" r="3.5" fill="url(#g3)"/>
<circle cx="624.4" cy="86.17" r="2.5" fill="url(#g4)"/>
<circle cx="527" cy="89.6" r="2.5" fill="url(#g5)"/>
<circle cx="611.4" cy="87.74" r="2.5" fill="url(#g5)"/>
<circle cx="532.3" cy="67.8" r="3.9" fill="url(#g6)"/>
<circle cx="533.4" cy="105.4" r="3.9" fill="url(#g6)"/>
<circle cx="609" cy="65.8" r="3.9" fill="url(#g6)"/>
<circle cx="609.9" cy="102.6" r="3.9" fill="url(#g6)"/>
<line x1="544.7" y1="56.95" x2="533.65" y2="68.15" stroke="#c4c4c4" stroke-width="1" stroke-linecap="round"/>
<line x1="544.7" y1="123.75" x2="535" y2="104.5" stroke="#c4c4c4" stroke-width="1" stroke-linecap="round"/>
<line x1="593.7" y1="55.87" x2="607.65" y2="66.4" stroke="#c4c4c4" stroke-width="1" stroke-linecap="round"/>
<line x1="593.7" y1="122.67" x2="608.45" y2="101.8" stroke="#c4c4c4" stroke-width="1" stroke-linecap="round"/>
<line x1="526.6" y1="69" x2="528.8" y2="89.6" stroke="#c4c4c4" stroke-width="1.1" stroke-linecap="round"/>
<line x1="528.8" y1="89.6" x2="526.6" y2="106.7" stroke="#c4c4c4" stroke-width="1.1" stroke-linecap="round"/>
<line x1="611.8" y1="67.13" x2="609.6" y2="87.82" stroke="#c4c4c4" stroke-width="1.1" stroke-linecap="round"/>
<line x1="609.6" y1="87.82" x2="611.8" y2="104.83" stroke="#c4c4c4" stroke-width="1.1" stroke-linecap="round"/>
<line x1="548.4" y1="35.2" x2="541.7" y2="54.85" stroke="#bdbdbd" stroke-width="1" stroke-linecap="round"/>
<line x1="548.4" y1="141.1" x2="541.7" y2="125.85" stroke="#bdbdbd" stroke-width="1" stroke-linecap="round"/>
<line x1="590" y1="34.28" x2="596.7" y2="53.64" stroke="#bdbdbd" stroke-width="1" stroke-linecap="round"/>
<line x1="590" y1="140.18" x2="596.7" y2="124.64" stroke="#bdbdbd" stroke-width="1" stroke-linecap="round"/>
<line x1="546.2" y1="58" x2="535" y2="68.5" stroke="#bdbdbd" stroke-width="1.25" stroke-linecap="round"/>
<line x1="546.2" y1="122.7" x2="536.6" y2="103.6" stroke="#bdbdbd" stroke-width="1.25" stroke-linecap="round"/>
<line x1="592.2" y1="56.99" x2="606.3" y2="67" stroke="#bdbdbd" stroke-width="1.25" stroke-linecap="round"/>
<line x1="592.2" y1="121.69" x2="607" y2="101" stroke="#bdbdbd" stroke-width="1.25" stroke-linecap="round"/>
<circle cx="546.2" cy="58" r="2.48" fill="url(#g7)"/>
<circle cx="546.2" cy="122.7" r="2.48" fill="url(#g7)"/>
<circle cx="592.2" cy="56.99" r="2.48" fill="url(#g7)"/>
<circle cx="592.2" cy="121.69" r="2.48" fill="url(#g7)"/>
<line x1="524.8" y1="69" x2="527" y2="89.6" stroke="#bbbbbb" stroke-width="1.1" stroke-linecap="round"/>
<line x1="527" y1="89.6" x2="524.8" y2="107.3" stroke="#bbbbbb" stroke-width="1.1" stroke-linecap="round"/>
<line x1="613.6" y1="67.05" x2="611.4" y2="87.74" stroke="#bbbbbb" stroke-width="1.1" stroke-linecap="round"/>
<line x1="611.4" y1="87.74" x2="613.6" y2="105.35" stroke="#bbbbbb" stroke-width="1.1" stroke-linecap="round"/>
<line x1="549.5" y1="37" x2="569.1" y2="36.7" stroke="#bababa" stroke-width="1.35" stroke-linecap="round"/>
<line x1="549.5" y1="139.3" x2="569.1" y2="139.6" stroke="#bababa" stroke-width="1.35" stroke-linecap="round"/>
<line x1="588.9" y1="36.13" x2="569.3" y2="36.7" stroke="#bababa" stroke-width="1.35" stroke-linecap="round"/>
<line x1="588.9" y1="138.43" x2="569.3" y2="139.6" stroke="#bababa" stroke-width="1.35" stroke-linecap="round"/>
<line x1="541.7" y1="54.85" x2="530.8" y2="67.55" stroke="#bababa" stroke-width="1" stroke-linecap="round"/>
<line x1="541.7" y1="125.85" x2="531.3" y2="106.5" stroke="#bababa" stroke-width="1" stroke-linecap="round"/>
<line x1="596.7" y1="53.64" x2="610.6" y2="65.15" stroke="#bababa" stroke-width="1" stroke-linecap="round"/>
<line x1="596.7" y1="124.64" x2="611.55" y2="103.6" stroke="#bababa" stroke-width="1" stroke-linecap="round"/>
<circle cx="569.1" cy="36.7" r="2.56" fill="url(#g8)"/>
<circle cx="569.1" cy="139.6" r="2.56" fill="url(#g8)"/>
<circle cx="569.3" cy="36.7" r="2.56" fill="url(#g8)"/>
<circle cx="569.3" cy="139.6" r="2.56" fill="url(#g8)"/>
<line x1="549.5" y1="37" x2="543.2" y2="55.9" stroke="#b8b8b8" stroke-width="1.3" stroke-linecap="round"/>
<line x1="549.5" y1="139.3" x2="543.2" y2="124.8" stroke="#b8b8b8" stroke-width="1.3" stroke-linecap="round"/>
<line x1="588.9" y1="36.13" x2="595.2" y2="54.76" stroke="#b8b8b8" stroke-width="1.3" stroke-linecap="round"/>
<line x1="588.9" y1="138.43" x2="595.2" y2="123.66" stroke="#b8b8b8" stroke-width="1.3" stroke-linecap="round"/>
<circle cx="549.5" cy="37" r="3.86" fill="url(#g9)"/>
<circle cx="549.5" cy="139.3" r="3.86" fill="url(#g9)"/>
<circle cx="524" cy="89.6" r="2.5" fill="url(#g10)"/>
<circle cx="588.9" cy="36.13" r="3.86" fill="url(#g9)"/>
<circle cx="588.9" cy="138.43" r="3.86" fill="url(#g9)"/>
<circle cx="614.4" cy="87.61" r="2.5" fill="url(#g10)"/>
<circle cx="529.3" cy="67.3" r="4.02" fill="url(#g9)"/>
<circle cx="529.2" cy="107.6" r="4.02" fill="url(#g9)"/>
<circle cx="612.2" cy="64.5" r="4.02" fill="url(#g9)"/>
<circle cx="613.2" cy="104.6" r="4.02" fill="url(#g9)"/>
<line x1="546.2" y1="31.6" x2="538.7" y2="52.75" stroke="#b4b4b4" stroke-width="1" stroke-linecap="round"/>
<line x1="546.2" y1="144.7" x2="538.7" y2="127.95" stroke="#b4b4b4" stroke-width="1" stroke-linecap="round"/>
<line x1="592.2" y1="30.59" x2="599.7" y2="51.41" stroke="#b4b4b4" stroke-width="1" stroke-linecap="round"/>
<line x1="592.2" y1="143.69" x2="599.7" y2="126.61" stroke="#b4b4b4" stroke-width="1" stroke-linecap="round"/>
<line x1="523" y1="69" x2="525.2" y2="89.6" stroke="#b2b2b2" stroke-width="1.1" stroke-linecap="round"/>
<line x1="525.2" y1="89.6" x2="523" y2="107.9" stroke="#b2b2b2" stroke-width="1.1" stroke-linecap="round"/>
<line x1="615.4" y1="66.97" x2="613.2" y2="87.66" stroke="#b2b2b2" stroke-width="1.1" stroke-linecap="round"/>
<line x1="613.2" y1="87.66" x2="615.4" y2="105.87" stroke="#b2b2b2" stroke-width="1.1" stroke-linecap="round"/>
<line x1="538.7" y1="52.75" x2="527.6" y2="67.05" stroke="#b2b2b2" stroke-width="1" stroke-linecap="round"/>
<line x1="538.7" y1="127.88" x2="527" y2="108.55" stroke="#b2b2b2" stroke-width="1" stroke-linecap="round"/>
<line x1="599.7" y1="51.41" x2="614.05" y2="64" stroke="#b2b2b2" stroke-width="1" stroke-linecap="round"/>
<line x1="599.7" y1="126.54" x2="614.95" y2="105.85" stroke="#b2b2b2" stroke-width="1" stroke-linecap="round"/>
<line x1="543.2" y1="55.9" x2="532.3" y2="67.8" stroke="#afafaf" stroke-width="1.25" stroke-linecap="round"/>
<line x1="543.2" y1="124.8" x2="533.4" y2="105.4" stroke="#afafaf" stroke-width="1.25" stroke-linecap="round"/>
<line x1="595.2" y1="54.76" x2="609" y2="65.8" stroke="#afafaf" stroke-width="1.25" stroke-linecap="round"/>
<line x1="595.2" y1="123.66" x2="609.9" y2="102.6" stroke="#afafaf" stroke-width="1.25" stroke-linecap="round"/>
<circle cx="543.2" cy="55.9" r="2.56" fill="url(#g11)"/>
<circle cx="543.2" cy="124.8" r="2.56" fill="url(#g11)"/>
<circle cx="595.2" cy="54.76" r="2.56" fill="url(#g11)"/>
<circle cx="595.2" cy="123.66" r="2.56" fill="url(#g11)"/>
<line x1="544" y1="28" x2="535.7" y2="50.65" stroke="#adadad" stroke-width="1" stroke-linecap="round"/>
<line x1="544" y1="148.3" x2="535.7" y2="129.46" stroke="#adadad" stroke-width="1" stroke-linecap="round"/>
<line x1="594.4" y1="26.89" x2="602.7" y2="49.18" stroke="#adadad" stroke-width="1" stroke-linecap="round"/>
<line x1="594.4" y1="147.19" x2="602.7" y2="127.98" stroke="#adadad" stroke-width="1" stroke-linecap="round"/>
<line x1="535.7" y1="50.65" x2="523.4" y2="66.55" stroke="#adadad" stroke-width="1" stroke-linecap="round"/>
<line x1="535.7" y1="129.46" x2="522.6" y2="110.55" stroke="#adadad" stroke-width="1" stroke-linecap="round"/>
<line x1="602.7" y1="49.18" x2="617.85" y2="63.05" stroke="#adadad" stroke-width="1" stroke-linecap="round"/>
<line x1="602.7" y1="127.98" x2="618.55" y2="108.35" stroke="#adadad" stroke-width="1" stroke-linecap="round"/>
<line x1="547.3" y1="33.4" x2="569" y2="33.1" stroke="#ababab" stroke-width="1.35" stroke-linecap="round"/>
<line x1="547.3" y1="142.9" x2="569" y2="143.2" stroke="#ababab" stroke-width="1.35" stroke-linecap="round"/>
<line x1="591.1" y1="32.44" x2="569.4" y2="33.09" stroke="#ababab" stroke-width="1.35" stroke-linecap="round"/>
<line x1="591.1" y1="141.94" x2="569.4" y2="143.19" stroke="#ababab" stroke-width="1.35" stroke-linecap="round"/>
<circle cx="569" cy="33.1" r="2.63" fill="url(#g12)"/>
<circle cx="569" cy="143.2" r="2.63" fill="url(#g12)"/>
<circle cx="569.4" cy="33.09" r="2.63" fill="url(#g12)"/>
<circle cx="569.4" cy="143.19" r="2.63" fill="url(#g12)"/>
<circle cx="525.9" cy="66.8" r="4.14" fill="url(#g13)"/>
<circle cx="524.8" cy="109.5" r="4.14" fill="url(#g13)"/>
<circle cx="615.9" cy="63.5" r="4.14" fill="url(#g13)"/>
<circle cx="616.7" cy="107.1" r="4.14" fill="url(#g13)"/>
<line x1="547.3" y1="33.4" x2="540.2" y2="53.8" stroke="#a8a8a8" stroke-width="1.3" stroke-linecap="round"/>
<line x1="547.3" y1="142.9" x2="540.2" y2="126.9" stroke="#a8a8a8" stroke-width="1.3" stroke-linecap="round"/>
<line x1="521.2" y1="69" x2="523.4" y2="89.6" stroke="#a8a8a8" stroke-width="1.1" stroke-linecap="round"/>
<line x1="523.4" y1="89.6" x2="521.2" y2="108.5" stroke="#a8a8a8" stroke-width="1.1" stroke-linecap="round"/>
<line x1="591.1" y1="32.44" x2="598.2" y2="52.52" stroke="#a8a8a8" stroke-width="1.3" stroke-linecap="round"/>
<line x1="591.1" y1="141.94" x2="598.2" y2="125.62" stroke="#a8a8a8" stroke-width="1.3" stroke-linecap="round"/>
<line x1="617.2" y1="66.89" x2="615" y2="87.58" stroke="#a8a8a8" stroke-width="1.1" stroke-linecap="round"/>
<line x1="615" y1="87.58" x2="617.2" y2="106.39" stroke="#a8a8a8" stroke-width="1.1" stroke-linecap="round"/>
<circle cx="547.3" cy="33.4" r="4.06" fill="url(#g14)"/>
<circle cx="547.3" cy="142.9" r="4.06" fill="url(#g14)"/>
<circle cx="591.1" cy="32.44" r="4.06" fill="url(#g14)"/>
<circle cx="591.1" cy="141.94" r="4.06" fill="url(#g14)"/>
<line x1="540.2" y1="53.8" x2="529.3" y2="67.3" stroke="#a5a5a5" stroke-width="1.25" stroke-linecap="round"/>
<line x1="540.2" y1="126.9" x2="529.2" y2="107.6" stroke="#a5a5a5" stroke-width="1.25" stroke-linecap="round"/>
<line x1="598.2" y1="52.52" x2="612.2" y2="64.5" stroke="#a5a5a5" stroke-width="1.25" stroke-linecap="round"/>
<line x1="598.2" y1="125.62" x2="613.2" y2="104.6" stroke="#a5a5a5" stroke-width="1.25" stroke-linecap="round"/>
<circle cx="540.2" cy="53.8" r="2.63" fill="url(#g15)"/>
<circle cx="540.2" cy="126.9" r="2.63" fill="url(#g15)"/>
<circle cx="598.2" cy="52.52" r="2.63" fill="url(#g15)"/>
<circle cx="598.2" cy="125.62" r="2.63" fill="url(#g15)"/>
<circle cx="542.2" cy="35.8" r="2.5" fill="url(#g16)"/>
<circle cx="542.2" cy="140.5" r="2.5" fill="url(#g16)"/>
<circle cx="596.2" cy="34.61" r="2.5" fill="url(#g16)"/>
<circle cx="596.2" cy="139.31" r="2.5" fill="url(#g16)"/>
<line x1="545.1" y1="29.8" x2="568.9" y2="29.5" stroke="#a1a1a1" stroke-width="1.35" stroke-linecap="round"/>
<line x1="545.1" y1="146.5" x2="568.9" y2="146.8" stroke="#a1a1a1" stroke-width="1.35" stroke-linecap="round"/>
<line x1="593.3" y1="28.74" x2="569.5" y2="29.49" stroke="#a1a1a1" stroke-width="1.35" stroke-linecap="round"/>
<line x1="593.3" y1="145.44" x2="569.5" y2="146.79" stroke="#a1a1a1" stroke-width="1.35" stroke-linecap="round"/>
<circle cx="568.9" cy="29.5" r="2.72" fill="url(#g17)"/>
<circle cx="568.9" cy="146.8" r="2.72" fill="url(#g17)"/>
<circle cx="569.5" cy="29.49" r="2.72" fill="url(#g17)"/>
<circle cx="569.5" cy="146.79" r="2.72" fill="url(#g17)"/>
<line x1="545.1" y1="29.8" x2="537.2" y2="51.7" stroke="#9f9f9f" stroke-width="1.3" stroke-linecap="round"/>
<line x1="545.1" y1="146.5" x2="537.2" y2="128.87" stroke="#9f9f9f" stroke-width="1.3" stroke-linecap="round"/>
<line x1="593.3" y1="28.74" x2="601.2" y2="50.29" stroke="#9f9f9f" stroke-width="1.3" stroke-linecap="round"/>
<line x1="593.3" y1="145.44" x2="601.2" y2="127.46" stroke="#9f9f9f" stroke-width="1.3" stroke-linecap="round"/>
<circle cx="545.1" cy="29.8" r="4.27" fill="url(#g18)"/>
<circle cx="545.1" cy="146.5" r="4.27" fill="url(#g18)"/>
<circle cx="593.3" cy="28.74" r="4.27" fill="url(#g18)"/>
<circle cx="593.3" cy="145.44" r="4.27" fill="url(#g18)"/>
<circle cx="520.9" cy="66.3" r="4.27" fill="url(#g19)"/>
<circle cx="520.4" cy="111.6" r="4.27" fill="url(#g18)"/>
<circle cx="619.8" cy="62.6" r="4.27" fill="url(#g18)"/>
<circle cx="620.4" cy="109.6" r="4.27" fill="url(#g18)"/>
<line x1="530" y1="35.8" x2="542.2" y2="35.8" stroke="#9e9e9e" stroke-width="1.25" stroke-linecap="round"/>
<line x1="530" y1="35.8" x2="517.7" y2="54.6" stroke="#9e9e9e" stroke-width="1.25" stroke-linecap="round"/>
<line x1="484.9" y1="63.8" x2="510.3" y2="62.8" stroke="#9e9e9e" stroke-width="1.3" stroke-linecap="round"/>
<line x1="470.4" y1="54.5" x2="475.7" y2="60.2" stroke="#9e9e9e" stroke-width="1.25" stroke-linecap="round"/>
<line x1="489.3" y1="66.3" x2="500.7" y2="67.2" stroke="#9e9e9e" stroke-width="1.25" stroke-linecap="round"/>
<line x1="530" y1="140.5" x2="542.2" y2="140.5" stroke="#9e9e9e" stroke-width="1.25" stroke-linecap="round"/>
<line x1="530" y1="140.5" x2="517.7" y2="126.1" stroke="#9e9e9e" stroke-width="1.25" stroke-linecap="round"/>
<line x1="484.9" y1="116.9" x2="510.3" y2="117.9" stroke="#9e9e9e" stroke-width="1.3" stroke-linecap="round"/>
<line x1="470.4" y1="126.2" x2="475.7" y2="120.5" stroke="#9e9e9e" stroke-width="1.25" stroke-linecap="round"/>
<line x1="489.3" y1="114.4" x2="500.7" y2="113.5" stroke="#9e9e9e" stroke-width="1.25" stroke-linecap="round"/>
<line x1="500.3" y1="70.8" x2="506" y2="89.2" stroke="#9e9e9e" stroke-width="1.25" stroke-linecap="round"/>
<line x1="506" y1="89.2" x2="500.3" y2="107.8" stroke="#9e9e9e" stroke-width="1.25" stroke-linecap="round"/>
<line x1="608.4" y1="34.08" x2="596.2" y2="34.61" stroke="#9e9e9e" stroke-width="1.25" stroke-linecap="round"/>
<line x1="608.4" y1="34.08" x2="620.7" y2="52.33" stroke="#9e9e9e" stroke-width="1.25" stroke-linecap="round"/>
<line x1="653.5" y1="60.09" x2="628.1" y2="60.21" stroke="#9e9e9e" stroke-width="1.3" stroke-linecap="round"/>
<line x1="668" y1="50.15" x2="662.7" y2="56.09" stroke="#9e9e9e" stroke-width="1.25" stroke-linecap="round"/>
<line x1="649.1" y1="62.78" x2="637.7" y2="64.19" stroke="#9e9e9e" stroke-width="1.25" stroke-linecap="round"/>
<line x1="608.4" y1="138.78" x2="596.2" y2="139.31" stroke="#9e9e9e" stroke-width="1.25" stroke-linecap="round"/>
<line x1="608.4" y1="138.78" x2="620.7" y2="123.83" stroke="#9e9e9e" stroke-width="1.25" stroke-linecap="round"/>
<line x1="653.5" y1="113.19" x2="628.1" y2="115.31" stroke="#9e9e9e" stroke-width="1.3" stroke-linecap="round"/>
<line x1="668" y1="121.85" x2="662.7" y2="116.39" stroke="#9e9e9e" stroke-width="1.25" stroke-linecap="round"/>
<line x1="649.1" y1="110.88" x2="637.7" y2="110.49" stroke="#9e9e9e" stroke-width="1.25" stroke-linecap="round"/>
<line x1="638.1" y1="67.77" x2="632.4" y2="86.42" stroke="#9e9e9e" stroke-width="1.25" stroke-linecap="round"/>
<line x1="632.4" y1="86.42" x2="638.1" y2="104.77" stroke="#9e9e9e" stroke-width="1.25" stroke-linecap="round"/>
<line x1="537.2" y1="51.7" x2="525.9" y2="66.8" stroke="#9e9e9e" stroke-width="1.25" stroke-linecap="round"/>
<line x1="537.2" y1="128.87" x2="524.8" y2="109.5" stroke="#9e9e9e" stroke-width="1.25" stroke-linecap="round"/>
<line x1="601.2" y1="50.29" x2="615.9" y2="63.5" stroke="#9e9e9e" stroke-width="1.25" stroke-linecap="round"/>
<line x1="601.2" y1="127.46" x2="616.7" y2="107.1" stroke="#9e9e9e" stroke-width="1.25" stroke-linecap="round"/>
<circle cx="530" cy="35.8" r="4" fill="url(#g20)"/>
<circle cx="517.7" cy="54.6" r="2.5" fill="url(#g21)"/>
<circle cx="537.2" cy="51.7" r="2.72" fill="url(#g21)"/>
<circle cx="475.7" cy="60.2" r="2.5" fill="url(#g21)"/>
<circle cx="513.8" cy="58.4" r="2.3" fill="url(#g21)"/>
<circle cx="530" cy="140.5" r="4" fill="url(#g20)"/>
<circle cx="517.7" cy="126.1" r="2.5" fill="url(#g21)"/>
<circle cx="537.2" cy="128.87" r="2.72" fill="url(#g21)"/>
<circle cx="475.7" cy="120.5" r="2.5" fill="url(#g21)"/>
<circle cx="513.8" cy="122.3" r="2.3" fill="url(#g21)"/>
<circle cx="506" cy="89.2" r="2.8" fill="url(#g21)"/>
<circle cx="608.4" cy="34.08" r="4" fill="url(#g20)"/>
<circle cx="620.7" cy="52.33" r="2.5" fill="url(#g21)"/>
<circle cx="601.2" cy="50.29" r="2.72" fill="url(#g21)"/>
<circle cx="662.7" cy="56.09" r="2.5" fill="url(#g21)"/>
<circle cx="624.6" cy="55.96" r="2.3" fill="url(#g21)"/>
<circle cx="608.4" cy="138.78" r="4" fill="url(#g20)"/>
<circle cx="620.7" cy="123.83" r="2.5" fill="url(#g21)"/>
<circle cx="601.2" cy="127.46" r="2.72" fill="url(#g21)"/>
<circle cx="662.7" cy="116.39" r="2.5" fill="url(#g21)"/>
<circle cx="624.6" cy="119.86" r="2.3" fill="url(#g21)"/>
<circle cx="632.4" cy="86.42" r="2.8" fill="url(#g21)"/>
<line x1="542.9" y1="26.2" x2="568.8" y2="25.9" stroke="#999999" stroke-width="1.35" stroke-linecap="round"/>
<line x1="523.2" y1="29.4" x2="537" y2="29" stroke="#999999" stroke-width="1.25" stroke-linecap="round"/>
<line x1="537" y1="29" x2="542.9" y2="26.2" stroke="#999999" stroke-width="1.25" stroke-linecap="round"/>
<line x1="523.2" y1="29.4" x2="508.9" y2="50.6" stroke="#999999" stroke-width="1.25" stroke-linecap="round"/>
<line x1="542.9" y1="26.2" x2="534.2" y2="49.6" stroke="#999999" stroke-width="1.3" stroke-linecap="round"/>
<line x1="474.4" y1="55.4" x2="514.7" y2="64.6" stroke="#999999" stroke-width="1.3" stroke-linecap="round"/>
<line x1="474.4" y1="68.5" x2="492" y2="56.7" stroke="#999999" stroke-width="1.3" stroke-linecap="round"/>
<line x1="496.4" y1="52.8" x2="514.7" y2="63.3" stroke="#999999" stroke-width="1.3" stroke-linecap="round"/>
<line x1="496.4" y1="52.8" x2="508.9" y2="50.6" stroke="#999999" stroke-width="1.25" stroke-linecap="round"/>
<line x1="542.9" y1="150.1" x2="568.8" y2="150.4" stroke="#999999" stroke-width="1.35" stroke-linecap="round"/>
<line x1="523.2" y1="146.9" x2="537" y2="147.3" stroke="#999999" stroke-width="1.25" stroke-linecap="round"/>
<line x1="537" y1="147.3" x2="542.9" y2="150.1" stroke="#999999" stroke-width="1.25" stroke-linecap="round"/>
<line x1="523.2" y1="146.9" x2="508.9" y2="129.48" stroke="#999999" stroke-width="1.25" stroke-linecap="round"/>
<line x1="542.9" y1="150.1" x2="534.2" y2="130.04" stroke="#999999" stroke-width="1.3" stroke-linecap="round"/>
<line x1="474.4" y1="125.3" x2="514.7" y2="116.1" stroke="#999999" stroke-width="1.3" stroke-linecap="round"/>
<line x1="474.4" y1="112.2" x2="492" y2="124" stroke="#999999" stroke-width="1.3" stroke-linecap="round"/>
<line x1="496.4" y1="127.9" x2="514.7" y2="117.4" stroke="#999999" stroke-width="1.3" stroke-linecap="round"/>
<line x1="496.4" y1="127.9" x2="508.9" y2="129.48" stroke="#999999" stroke-width="1.25" stroke-linecap="round"/>
<line x1="488.9" y1="70.5" x2="495.7" y2="89.6" stroke="#999999" stroke-width="1.25" stroke-linecap="round"/>
<line x1="495.7" y1="89.6" x2="488.9" y2="108.5" stroke="#999999" stroke-width="1.25" stroke-linecap="round"/>
<line x1="516.9" y1="68.9" x2="519.7" y2="89.7" stroke="#999999" stroke-width="1.25" stroke-linecap="round"/>
<line x1="519.7" y1="89.7" x2="516.9" y2="109.5" stroke="#999999" stroke-width="1.25" stroke-linecap="round"/>
<line x1="595.5" y1="25.04" x2="569.6" y2="25.88" stroke="#999999" stroke-width="1.35" stroke-linecap="round"/>
<line x1="615.2" y1="27.38" x2="601.4" y2="27.58" stroke="#999999" stroke-width="1.25" stroke-linecap="round"/>
<line x1="601.4" y1="27.58" x2="595.5" y2="25.04" stroke="#999999" stroke-width="1.25" stroke-linecap="round"/>
<line x1="615.2" y1="27.38" x2="629.5" y2="47.95" stroke="#999999" stroke-width="1.25" stroke-linecap="round"/>
<line x1="595.5" y1="25.04" x2="604.2" y2="48.06" stroke="#999999" stroke-width="1.3" stroke-linecap="round"/>
<line x1="664" y1="51.23" x2="623.7" y2="62.2" stroke="#999999" stroke-width="1.3" stroke-linecap="round"/>
<line x1="664" y1="64.33" x2="646.4" y2="53.3" stroke="#999999" stroke-width="1.3" stroke-linecap="round"/>
<line x1="642" y1="49.6" x2="623.7" y2="60.9" stroke="#999999" stroke-width="1.3" stroke-linecap="round"/>
<line x1="642" y1="49.6" x2="629.5" y2="47.95" stroke="#999999" stroke-width="1.25" stroke-linecap="round"/>
<line x1="595.5" y1="148.94" x2="569.6" y2="150.38" stroke="#999999" stroke-width="1.35" stroke-linecap="round"/>
<line x1="615.2" y1="144.88" x2="601.4" y2="145.88" stroke="#999999" stroke-width="1.25" stroke-linecap="round"/>
<line x1="601.4" y1="145.88" x2="595.5" y2="148.94" stroke="#999999" stroke-width="1.25" stroke-linecap="round"/>
<line x1="615.2" y1="144.88" x2="629.5" y2="126.83" stroke="#999999" stroke-width="1.25" stroke-linecap="round"/>
<line x1="595.5" y1="148.94" x2="604.2" y2="128.5" stroke="#999999" stroke-width="1.3" stroke-linecap="round"/>
<line x1="664" y1="121.13" x2="623.7" y2="113.7" stroke="#999999" stroke-width="1.3" stroke-linecap="round"/>
<line x1="664" y1="108.03" x2="646.4" y2="120.6" stroke="#999999" stroke-width="1.3" stroke-linecap="round"/>
<line x1="642" y1="124.7" x2="623.7" y2="115" stroke="#999999" stroke-width="1.3" stroke-linecap="round"/>
<line x1="642" y1="124.7" x2="629.5" y2="126.83" stroke="#999999" stroke-width="1.25" stroke-linecap="round"/>
<line x1="649.5" y1="66.97" x2="642.7" y2="86.37" stroke="#999999" stroke-width="1.25" stroke-linecap="round"/>
<line x1="642.7" y1="86.37" x2="649.5" y2="104.97" stroke="#999999" stroke-width="1.25" stroke-linecap="round"/>
<line x1="621.5" y1="66.6" x2="618.7" y2="87.52" stroke="#999999" stroke-width="1.25" stroke-linecap="round"/>
<line x1="618.7" y1="87.52" x2="621.5" y2="107.2" stroke="#999999" stroke-width="1.25" stroke-linecap="round"/>
<line x1="534.2" y1="49.6" x2="520.9" y2="66.3" stroke="#999999" stroke-width="1.25" stroke-linecap="round"/>
<line x1="534.2" y1="49.6" x2="514.7" y2="64.6" stroke="#999999" stroke-width="1.25" stroke-linecap="round"/>
<line x1="534.2" y1="130.04" x2="520.4" y2="111.6" stroke="#999999" stroke-width="1.25" stroke-linecap="round"/>
<line x1="534.2" y1="130.04" x2="516" y2="114.8" stroke="#999999" stroke-width="1.25" stroke-linecap="round"/>
<line x1="604.2" y1="48.06" x2="619.8" y2="62.6" stroke="#999999" stroke-width="1.25" stroke-linecap="round"/>
<line x1="604.2" y1="48.06" x2="624.5" y2="61.7" stroke="#999999" stroke-width="1.25" stroke-linecap="round"/>
<line x1="604.2" y1="128.5" x2="620.4" y2="109.6" stroke="#999999" stroke-width="1.25" stroke-linecap="round"/>
<line x1="604.2" y1="128.5" x2="625.4" y2="112.2" stroke="#999999" stroke-width="1.25" stroke-linecap="round"/>
<line x1="571.2" y1="135" x2="571.2" y2="150" stroke="#999999" stroke-width="2.6" stroke-linecap="round"/>
<line x1="519.7" y1="89.7" x2="540" y2="88.2" stroke="#999999" stroke-width="2.6" stroke-linecap="round"/>
<circle cx="542.9" cy="26.2" r="4.5" fill="url(#g22)"/>
<circle cx="568.8" cy="25.9" r="2.8" fill="url(#g23)"/>
<circle cx="523.2" cy="29.4" r="4.1" fill="url(#g22)"/>
<circle cx="537" cy="29" r="2.8" fill="url(#g23)"/>
<circle cx="508.9" cy="50.6" r="2.8" fill="url(#g23)"/>
<circle cx="534.2" cy="49.6" r="2.8" fill="url(#g23)"/>
<circle cx="470.4" cy="54.5" r="4" fill="url(#g22)"/>
<circle cx="477" cy="55.8" r="3.8" fill="url(#g22)"/>
<circle cx="484.9" cy="57.2" r="3.5" fill="url(#g22)"/>
<circle cx="496.4" cy="52.8" r="4.5" fill="url(#g22)"/>
<circle cx="507.7" cy="57.1" r="3.8" fill="url(#g22)"/>
<circle cx="489.3" cy="66.3" r="4" fill="url(#g22)"/>
<circle cx="500.7" cy="67.2" r="4" fill="url(#g22)"/>
<circle cx="474.4" cy="68.5" r="3" fill="url(#g23)"/>
<circle cx="542.9" cy="150.1" r="4.5" fill="url(#g22)"/>
<circle cx="568.8" cy="150.4" r="2.8" fill="url(#g23)"/>
<circle cx="523.2" cy="146.9" r="4.1" fill="url(#g22)"/>
<circle cx="537" cy="147.3" r="2.8" fill="url(#g23)"/>
<circle cx="508.9" cy="129.48" r="2.8" fill="url(#g23)"/>
<circle cx="534.2" cy="130.04" r="2.8" fill="url(#g23)"/>
<circle cx="470.4" cy="126.2" r="4" fill="url(#g22)"/>
<circle cx="477" cy="124.9" r="3.8" fill="url(#g22)"/>
<circle cx="484.9" cy="123.5" r="3.5" fill="url(#g22)"/>
<circle cx="496.4" cy="127.9" r="4.5" fill="url(#g22)"/>
<circle cx="507.7" cy="123.6" r="3.8" fill="url(#g22)"/>
<circle cx="489.3" cy="114.4" r="4" fill="url(#g22)"/>
<circle cx="500.7" cy="113.5" r="4" fill="url(#g22)"/>
<circle cx="474.4" cy="112.2" r="3" fill="url(#g23)"/>
<circle cx="495.7" cy="89.6" r="2.8" fill="url(#g23)"/>
<circle cx="519.7" cy="89.7" r="3" fill="url(#g23)"/>
<circle cx="595.5" cy="25.04" r="4.5" fill="url(#g22)"/>
<circle cx="569.6" cy="25.88" r="2.8" fill="url(#g23)"/>
<circle cx="615.2" cy="27.38" r="4.1" fill="url(#g22)"/>
<circle cx="601.4" cy="27.58" r="2.8" fill="url(#g23)"/>
<circle cx="629.5" cy="47.95" r="2.8" fill="url(#g23)"/>
<circle cx="604.2" cy="48.06" r="2.8" fill="url(#g23)"/>
<circle cx="668" cy="50.15" r="4" fill="url(#g22)"/>
<circle cx="661.4" cy="51.74" r="3.8" fill="url(#g22)"/>
<circle cx="653.5" cy="53.49" r="3.5" fill="url(#g22)"/>
<circle cx="642" cy="49.6" r="4.5" fill="url(#g22)"/>
<circle cx="630.7" cy="54.39" r="3.8" fill="url(#g22)"/>
<circle cx="649.1" cy="62.78" r="4" fill="url(#g22)"/>
<circle cx="637.7" cy="64.19" r="4" fill="url(#g22)"/>
<circle cx="664" cy="64.33" r="3" fill="url(#g23)"/>
<circle cx="595.5" cy="148.94" r="4.5" fill="url(#g22)"/>
<circle cx="569.6" cy="150.38" r="2.8" fill="url(#g23)"/>
<circle cx="615.2" cy="144.88" r="4.1" fill="url(#g22)"/>
<circle cx="601.4" cy="145.88" r="2.8" fill="url(#g23)"/>
<circle cx="629.5" cy="126.83" r="2.8" fill="url(#g23)"/>
<circle cx="604.2" cy="128.5" r="2.8" fill="url(#g23)"/>
<circle cx="668" cy="121.85" r="4" fill="url(#g22)"/>
<circle cx="661.4" cy="120.84" r="3.8" fill="url(#g22)"/>
<circle cx="653.5" cy="119.79" r="3.5" fill="url(#g22)"/>
<circle cx="642" cy="124.7" r="4.5" fill="url(#g22)"/>
<circle cx="630.7" cy="120.89" r="3.8" fill="url(#g22)"/>
<circle cx="649.1" cy="110.88" r="4" fill="url(#g22)"/>
<circle cx="637.7" cy="110.49" r="4" fill="url(#g22)"/>
<circle cx="664" cy="108.03" r="3" fill="url(#g23)"/>
<circle cx="642.7" cy="86.37" r="2.8" fill="url(#g23)"/>
<circle cx="618.7" cy="87.52" r="3" fill="url(#g23)"/>
<circle cx="514.7" cy="64.6" r="4.4" fill="url(#g22)"/>
<circle cx="516" cy="114.8" r="4.4" fill="url(#g22)"/>
<circle cx="624.5" cy="61.7" r="4.4" fill="url(#g22)"/>
<circle cx="625.4" cy="112.2" r="4.4" fill="url(#g22)"/>
<circle cx="543.2" cy="87.8" r="9" fill="url(#g24)"/>
<circle cx="571.3" cy="126.7" r="8.9" fill="url(#g24)"/>
<text x="553" y="78.6" font-size="11" font-weight="bold" text-anchor="start" fill="#3a3a3a" >H</text>
<text x="568" y="112.2" font-size="11" font-weight="bold" text-anchor="start" fill="#3a3a3a" >H</text>
<line x1="534.4" y1="252.75" x2="536.6" y2="272.54" stroke="#e4e4e4" stroke-width="1.1" stroke-linecap="round"/>
<line x1="536.6" y1="272.54" x2="534.4" y2="286.67" stroke="#e4e4e4" stroke-width="1.1" stroke-linecap="round"/>
<line x1="605.2" y1="251.25" x2="603" y2="271.14" stroke="#e4e4e4" stroke-width="1.1" stroke-linecap="round"/>
<line x1="603" y1="271.14" x2="605.2" y2="285.17" stroke="#e4e4e4" stroke-width="1.1" stroke-linecap="round"/>
<circle cx="533.6" cy="272.54" r="2.5" fill="url(#g0)"/>
<circle cx="606" cy="271.01" r="2.5" fill="url(#g0)"/>
<line x1="532.6" y1="252.75" x2="534.8" y2="272.54" stroke="#dcdcdc" stroke-width="1.1" stroke-linecap="round"/>
<line x1="534.8" y1="272.54" x2="532.6" y2="287.25" stroke="#dcdcdc" stroke-width="1.1" stroke-linecap="round"/>
<line x1="607" y1="251.17" x2="604.8" y2="271.06" stroke="#dcdcdc" stroke-width="1.1" stroke-linecap="round"/>
<line x1="604.8" y1="271.06" x2="607" y2="285.67" stroke="#dcdcdc" stroke-width="1.1" stroke-linecap="round"/>
<circle cx="530.6" cy="272.54" r="2.5" fill="url(#g1)"/>
<circle cx="609" cy="270.89" r="2.5" fill="url(#g1)"/>
<circle cx="535.6" cy="252.27" r="3.78" fill="url(#g2)"/>
<circle cx="537.2" cy="286" r="3.78" fill="url(#g2)"/>
<circle cx="606.9" cy="250.82" r="3.78" fill="url(#g2)"/>
<circle cx="607.6" cy="283.5" r="3.78" fill="url(#g2)"/>
<line x1="530.8" y1="252.75" x2="533" y2="272.54" stroke="#d4d4d4" stroke-width="1.1" stroke-linecap="round"/>
<line x1="533" y1="272.54" x2="530.8" y2="287.82" stroke="#d4d4d4" stroke-width="1.1" stroke-linecap="round"/>
<line x1="608.8" y1="251.1" x2="606.6" y2="270.99" stroke="#d4d4d4" stroke-width="1.1" stroke-linecap="round"/>
<line x1="606.6" y1="270.99" x2="608.8" y2="286.17" stroke="#d4d4d4" stroke-width="1.1" stroke-linecap="round"/>
<line x1="548.3" y1="243.18" x2="535.6" y2="252.27" stroke="#d1d1d1" stroke-width="1" stroke-linecap="round"/>
<line x1="548.3" y1="303.34" x2="537.2" y2="286" stroke="#d1d1d1" stroke-width="1" stroke-linecap="round"/>
<line x1="591.3" y1="242.28" x2="606.9" y2="250.82" stroke="#d1d1d1" stroke-width="1" stroke-linecap="round"/>
<line x1="591.3" y1="302.43" x2="607.6" y2="283.5" stroke="#d1d1d1" stroke-width="1" stroke-linecap="round"/>
<line x1="552.3" y1="225.45" x2="569.8" y2="225.17" stroke="#cccccc" stroke-width="1.35" stroke-linecap="round"/>
<line x1="535.2" y1="226.03" x2="524.1" y2="242.66" stroke="#cccccc" stroke-width="1.25" stroke-linecap="round"/>
<line x1="551.2" y1="223.72" x2="545.3" y2="241.17" stroke="#cccccc" stroke-width="1" stroke-linecap="round"/>
<line x1="552.3" y1="225.45" x2="546.8" y2="242.18" stroke="#cccccc" stroke-width="1.3" stroke-linecap="round"/>
<line x1="552.3" y1="316.85" x2="569.8" y2="317.13" stroke="#cccccc" stroke-width="1.35" stroke-linecap="round"/>
<line x1="535.2" y1="316.27" x2="524.1" y2="303.87" stroke="#cccccc" stroke-width="1.25" stroke-linecap="round"/>
<line x1="551.2" y1="318.58" x2="545.3" y2="305.36" stroke="#cccccc" stroke-width="1" stroke-linecap="round"/>
<line x1="552.3" y1="316.85" x2="546.8" y2="304.35" stroke="#cccccc" stroke-width="1.3" stroke-linecap="round"/>
<line x1="510.6" y1="255.15" x2="514.6" y2="271.58" stroke="#cccccc" stroke-width="1.25" stroke-linecap="round"/>
<line x1="514.6" y1="271.58" x2="510.6" y2="288.78" stroke="#cccccc" stroke-width="1.25" stroke-linecap="round"/>
<line x1="529" y1="252.75" x2="531.2" y2="272.54" stroke="#cccccc" stroke-width="1.1" stroke-linecap="round"/>
<line x1="531.2" y1="272.54" x2="529" y2="288.4" stroke="#cccccc" stroke-width="1.1" stroke-linecap="round"/>
<line x1="587.3" y1="224.71" x2="569.8" y2="225.17" stroke="#cccccc" stroke-width="1.35" stroke-linecap="round"/>
<line x1="604.4" y1="224.57" x2="615.5" y2="240.72" stroke="#cccccc" stroke-width="1.25" stroke-linecap="round"/>
<line x1="588.4" y1="222.94" x2="594.3" y2="240.13" stroke="#cccccc" stroke-width="1" stroke-linecap="round"/>
<line x1="587.3" y1="224.71" x2="592.8" y2="241.2" stroke="#cccccc" stroke-width="1.3" stroke-linecap="round"/>
<line x1="587.3" y1="316.11" x2="569.8" y2="317.13" stroke="#cccccc" stroke-width="1.35" stroke-linecap="round"/>
<line x1="604.4" y1="314.81" x2="615.5" y2="301.94" stroke="#cccccc" stroke-width="1.25" stroke-linecap="round"/>
<line x1="588.4" y1="317.79" x2="594.3" y2="304.33" stroke="#cccccc" stroke-width="1" stroke-linecap="round"/>
<line x1="587.3" y1="316.11" x2="592.8" y2="303.38" stroke="#cccccc" stroke-width="1.3" stroke-linecap="round"/>
<line x1="629" y1="252.65" x2="625" y2="269.25" stroke="#cccccc" stroke-width="1.25" stroke-linecap="round"/>
<line x1="625" y1="269.25" x2="629" y2="286.28" stroke="#cccccc" stroke-width="1.25" stroke-linecap="round"/>
<line x1="610.6" y1="251.02" x2="608.4" y2="270.91" stroke="#cccccc" stroke-width="1.1" stroke-linecap="round"/>
<line x1="608.4" y1="270.91" x2="610.6" y2="286.67" stroke="#cccccc" stroke-width="1.1" stroke-linecap="round"/>
<line x1="549.8" y1="244.19" x2="535.6" y2="252.27" stroke="#cccccc" stroke-width="1.25" stroke-linecap="round"/>
<line x1="549.8" y1="302.33" x2="537.2" y2="286" stroke="#cccccc" stroke-width="1.25" stroke-linecap="round"/>
<line x1="589.8" y1="243.35" x2="606.9" y2="250.82" stroke="#cccccc" stroke-width="1.25" stroke-linecap="round"/>
<line x1="589.8" y1="301.49" x2="607.6" y2="283.5" stroke="#cccccc" stroke-width="1.25" stroke-linecap="round"/>
<circle cx="552.3" cy="225.45" r="3.67" fill="url(#g3)"/>
<circle cx="569.8" cy="225.17" r="2.48" fill="url(#g4)"/>
<circle cx="535.2" cy="226.03" r="3.7" fill="url(#g3)"/>
<circle cx="549.8" cy="244.19" r="2.4" fill="url(#g4)"/>
<circle cx="510" cy="252.27" r="3.5" fill="url(#g3)"/>
<circle cx="552.3" cy="316.85" r="3.67" fill="url(#g3)"/>
<circle cx="569.8" cy="317.13" r="2.48" fill="url(#g4)"/>
<circle cx="535.2" cy="316.27" r="3.7" fill="url(#g3)"/>
<circle cx="549.8" cy="302.33" r="2.4" fill="url(#g4)"/>
<circle cx="510" cy="294.26" r="3.5" fill="url(#g3)"/>
<circle cx="514.6" cy="271.58" r="2.5" fill="url(#g4)"/>
<circle cx="587.3" cy="224.71" r="3.67" fill="url(#g3)"/>
<circle cx="569.8" cy="225.17" r="2.48" fill="url(#g4)"/>
<circle cx="604.4" cy="224.57" r="3.7" fill="url(#g3)"/>
<circle cx="589.8" cy="243.35" r="2.4" fill="url(#g4)"/>
<circle cx="629.6" cy="249.74" r="3.5" fill="url(#g3)"/>
<circle cx="587.3" cy="316.11" r="3.67" fill="url(#g3)"/>
<circle cx="569.8" cy="317.13" r="2.48" fill="url(#g4)"/>
<circle cx="604.4" cy="314.81" r="3.7" fill="url(#g3)"/>
<circle cx="589.8" cy="301.49" r="2.4" fill="url(#g4)"/>
<circle cx="629.6" cy="291.73" r="3.5" fill="url(#g3)"/>
<circle cx="625" cy="269.25" r="2.5" fill="url(#g4)"/>
<circle cx="527.6" cy="272.54" r="2.5" fill="url(#g5)"/>
<circle cx="612" cy="270.76" r="2.5" fill="url(#g5)"/>
<circle cx="532.9" cy="251.59" r="3.9" fill="url(#g6)"/>
<circle cx="534" cy="287.73" r="3.9" fill="url(#g6)"/>
<circle cx="609.6" cy="249.67" r="3.9" fill="url(#g6)"/>
<circle cx="610.5" cy="285.04" r="3.9" fill="url(#g6)"/>
<line x1="545.3" y1="241.17" x2="534.25" y2="251.93" stroke="#c4c4c4" stroke-width="1" stroke-linecap="round"/>
<line x1="545.3" y1="305.36" x2="535.6" y2="286.86" stroke="#c4c4c4" stroke-width="1" stroke-linecap="round"/>
<line x1="594.3" y1="240.13" x2="608.25" y2="250.25" stroke="#c4c4c4" stroke-width="1" stroke-linecap="round"/>
<line x1="594.3" y1="304.33" x2="609.05" y2="284.27" stroke="#c4c4c4" stroke-width="1" stroke-linecap="round"/>
<line x1="527.2" y1="252.75" x2="529.4" y2="272.54" stroke="#c4c4c4" stroke-width="1.1" stroke-linecap="round"/>
<line x1="529.4" y1="272.54" x2="527.2" y2="288.98" stroke="#c4c4c4" stroke-width="1.1" stroke-linecap="round"/>
<line x1="612.4" y1="250.95" x2="610.2" y2="270.84" stroke="#c4c4c4" stroke-width="1.1" stroke-linecap="round"/>
<line x1="610.2" y1="270.84" x2="612.4" y2="287.18" stroke="#c4c4c4" stroke-width="1.1" stroke-linecap="round"/>
<line x1="549" y1="220.27" x2="542.3" y2="239.15" stroke="#bdbdbd" stroke-width="1" stroke-linecap="round"/>
<line x1="549" y1="322.03" x2="542.3" y2="307.38" stroke="#bdbdbd" stroke-width="1" stroke-linecap="round"/>
<line x1="590.6" y1="219.39" x2="597.3" y2="237.99" stroke="#bdbdbd" stroke-width="1" stroke-linecap="round"/>
<line x1="590.6" y1="321.16" x2="597.3" y2="306.22" stroke="#bdbdbd" stroke-width="1" stroke-linecap="round"/>
<line x1="546.8" y1="242.18" x2="535.6" y2="252.27" stroke="#bdbdbd" stroke-width="1.25" stroke-linecap="round"/>
<line x1="546.8" y1="304.35" x2="537.2" y2="286" stroke="#bdbdbd" stroke-width="1.25" stroke-linecap="round"/>
<line x1="592.8" y1="241.2" x2="606.9" y2="250.82" stroke="#bdbdbd" stroke-width="1.25" stroke-linecap="round"/>
<line x1="592.8" y1="303.38" x2="607.6" y2="283.5" stroke="#bdbdbd" stroke-width="1.25" stroke-linecap="round"/>
<circle cx="546.8" cy="242.18" r="2.48" fill="url(#g7)"/>
<circle cx="546.8" cy="304.35" r="2.48" fill="url(#g7)"/>
<circle cx="592.8" cy="241.2" r="2.48" fill="url(#g7)"/>
<circle cx="592.8" cy="303.38" r="2.48" fill="url(#g7)"/>
<line x1="525.4" y1="252.75" x2="527.6" y2="272.54" stroke="#bbbbbb" stroke-width="1.1" stroke-linecap="round"/>
<line x1="527.6" y1="272.54" x2="525.4" y2="289.55" stroke="#bbbbbb" stroke-width="1.1" stroke-linecap="round"/>
<line x1="614.2" y1="250.87" x2="612" y2="270.76" stroke="#bbbbbb" stroke-width="1.1" stroke-linecap="round"/>
<line x1="612" y1="270.76" x2="614.2" y2="287.68" stroke="#bbbbbb" stroke-width="1.1" stroke-linecap="round"/>
<line x1="550.1" y1="221.99" x2="569.7" y2="221.71" stroke="#bababa" stroke-width="1.35" stroke-linecap="round"/>
<line x1="550.1" y1="320.31" x2="569.7" y2="320.59" stroke="#bababa" stroke-width="1.35" stroke-linecap="round"/>
<line x1="589.5" y1="221.16" x2="569.9" y2="221.7" stroke="#bababa" stroke-width="1.35" stroke-linecap="round"/>
<line x1="589.5" y1="319.47" x2="569.9" y2="320.59" stroke="#bababa" stroke-width="1.35" stroke-linecap="round"/>
<line x1="542.3" y1="239.15" x2="531.4" y2="251.35" stroke="#bababa" stroke-width="1" stroke-linecap="round"/>
<line x1="542.3" y1="307.38" x2="531.9" y2="288.78" stroke="#bababa" stroke-width="1" stroke-linecap="round"/>
<line x1="597.3" y1="237.99" x2="611.2" y2="249.05" stroke="#bababa" stroke-width="1" stroke-linecap="round"/>
<line x1="597.3" y1="306.22" x2="612.15" y2="286" stroke="#bababa" stroke-width="1" stroke-linecap="round"/>
<circle cx="569.7" cy="221.71" r="2.56" fill="url(#g8)"/>
<circle cx="569.7" cy="320.59" r="2.56" fill="url(#g8)"/>
<circle cx="569.9" cy="221.7" r="2.56" fill="url(#g8)"/>
<circle cx="569.9" cy="320.59" r="2.56" fill="url(#g8)"/>
<line x1="550.1" y1="221.99" x2="543.8" y2="240.16" stroke="#b8b8b8" stroke-width="1.3" stroke-linecap="round"/>
<line x1="550.1" y1="320.31" x2="543.8" y2="306.37" stroke="#b8b8b8" stroke-width="1.3" stroke-linecap="round"/>
<line x1="589.5" y1="221.16" x2="595.8" y2="239.06" stroke="#b8b8b8" stroke-width="1.3" stroke-linecap="round"/>
<line x1="589.5" y1="319.47" x2="595.8" y2="305.27" stroke="#b8b8b8" stroke-width="1.3" stroke-linecap="round"/>
<circle cx="550.1" cy="221.99" r="3.86" fill="url(#g9)"/>
<circle cx="550.1" cy="320.31" r="3.86" fill="url(#g9)"/>
<circle cx="524.6" cy="272.54" r="2.5" fill="url(#g10)"/>
<circle cx="589.5" cy="221.16" r="3.86" fill="url(#g9)"/>
<circle cx="589.5" cy="319.47" r="3.86" fill="url(#g9)"/>
<circle cx="615" cy="270.63" r="2.5" fill="url(#g10)"/>
<circle cx="529.9" cy="251.11" r="4.02" fill="url(#g9)"/>
<circle cx="529.8" cy="289.84" r="4.02" fill="url(#g9)"/>
<circle cx="612.8" cy="248.42" r="4.02" fill="url(#g9)"/>
<circle cx="613.8" cy="286.96" r="4.02" fill="url(#g9)"/>
<line x1="546.8" y1="216.81" x2="539.3" y2="237.13" stroke="#b4b4b4" stroke-width="1" stroke-linecap="round"/>
<line x1="546.8" y1="325.49" x2="539.3" y2="309.4" stroke="#b4b4b4" stroke-width="1" stroke-linecap="round"/>
<line x1="592.8" y1="215.83" x2="600.3" y2="235.84" stroke="#b4b4b4" stroke-width="1" stroke-linecap="round"/>
<line x1="592.8" y1="324.52" x2="600.3" y2="308.11" stroke="#b4b4b4" stroke-width="1" stroke-linecap="round"/>
<line x1="523.6" y1="252.75" x2="525.8" y2="272.54" stroke="#b2b2b2" stroke-width="1.1" stroke-linecap="round"/>
<line x1="525.8" y1="272.54" x2="523.6" y2="290.13" stroke="#b2b2b2" stroke-width="1.1" stroke-linecap="round"/>
<line x1="616" y1="250.79" x2="613.8" y2="270.68" stroke="#b2b2b2" stroke-width="1.1" stroke-linecap="round"/>
<line x1="613.8" y1="270.68" x2="616" y2="288.18" stroke="#b2b2b2" stroke-width="1.1" stroke-linecap="round"/>
<line x1="539.3" y1="237.13" x2="528.2" y2="250.87" stroke="#b2b2b2" stroke-width="1" stroke-linecap="round"/>
<line x1="539.3" y1="309.33" x2="527.6" y2="290.75" stroke="#b2b2b2" stroke-width="1" stroke-linecap="round"/>
<line x1="600.3" y1="235.84" x2="614.65" y2="247.94" stroke="#b2b2b2" stroke-width="1" stroke-linecap="round"/>
<line x1="600.3" y1="308.04" x2="615.55" y2="288.16" stroke="#b2b2b2" stroke-width="1" stroke-linecap="round"/>
<line x1="543.8" y1="240.16" x2="532.9" y2="251.59" stroke="#afafaf" stroke-width="1.25" stroke-linecap="round"/>
<line x1="543.8" y1="306.37" x2="534" y2="287.73" stroke="#afafaf" stroke-width="1.25" stroke-linecap="round"/>
<line x1="595.8" y1="239.06" x2="609.6" y2="249.67" stroke="#afafaf" stroke-width="1.25" stroke-linecap="round"/>
<line x1="595.8" y1="305.27" x2="610.5" y2="285.04" stroke="#afafaf" stroke-width="1.25" stroke-linecap="round"/>
<circle cx="543.8" cy="240.16" r="2.56" fill="url(#g11)"/>
<circle cx="543.8" cy="306.37" r="2.56" fill="url(#g11)"/>
<circle cx="595.8" cy="239.06" r="2.56" fill="url(#g11)"/>
<circle cx="595.8" cy="305.27" r="2.56" fill="url(#g11)"/>
<line x1="544.6" y1="213.35" x2="536.3" y2="235.11" stroke="#adadad" stroke-width="1" stroke-linecap="round"/>
<line x1="544.6" y1="328.95" x2="536.3" y2="310.85" stroke="#adadad" stroke-width="1" stroke-linecap="round"/>
<line x1="595" y1="212.28" x2="603.3" y2="233.7" stroke="#adadad" stroke-width="1" stroke-linecap="round"/>
<line x1="595" y1="327.89" x2="603.3" y2="309.43" stroke="#adadad" stroke-width="1" stroke-linecap="round"/>
<line x1="536.3" y1="235.11" x2="524" y2="250.39" stroke="#adadad" stroke-width="1" stroke-linecap="round"/>
<line x1="536.3" y1="310.85" x2="523.2" y2="292.68" stroke="#adadad" stroke-width="1" stroke-linecap="round"/>
<line x1="603.3" y1="233.7" x2="618.45" y2="247.03" stroke="#adadad" stroke-width="1" stroke-linecap="round"/>
<line x1="603.3" y1="309.43" x2="619.15" y2="290.56" stroke="#adadad" stroke-width="1" stroke-linecap="round"/>
<line x1="547.9" y1="218.54" x2="569.6" y2="218.25" stroke="#ababab" stroke-width="1.35" stroke-linecap="round"/>
<line x1="547.9" y1="323.76" x2="569.6" y2="324.05" stroke="#ababab" stroke-width="1.35" stroke-linecap="round"/>
<line x1="591.7" y1="217.61" x2="570" y2="218.24" stroke="#ababab" stroke-width="1.35" stroke-linecap="round"/>
<line x1="591.7" y1="322.84" x2="570" y2="324.04" stroke="#ababab" stroke-width="1.35" stroke-linecap="round"/>
<circle cx="569.6" cy="218.25" r="2.63" fill="url(#g12)"/>
<circle cx="569.6" cy="324.05" r="2.63" fill="url(#g12)"/>
<circle cx="570" cy="218.24" r="2.63" fill="url(#g12)"/>
<circle cx="570" cy="324.04" r="2.63" fill="url(#g12)"/>
<circle cx="526.5" cy="250.63" r="4.14" fill="url(#g13)"/>
<circle cx="525.4" cy="291.67" r="4.14" fill="url(#g13)"/>
<circle cx="616.5" cy="247.46" r="4.14" fill="url(#g13)"/>
<circle cx="617.3" cy="289.36" r="4.14" fill="url(#g13)"/>
<line x1="547.9" y1="218.54" x2="540.8" y2="238.14" stroke="#a8a8a8" stroke-width="1.3" stroke-linecap="round"/>
<line x1="547.9" y1="323.76" x2="540.8" y2="308.39" stroke="#a8a8a8" stroke-width="1.3" stroke-linecap="round"/>
<line x1="521.8" y1="252.75" x2="524" y2="272.54" stroke="#a8a8a8" stroke-width="1.1" stroke-linecap="round"/>
<line x1="524" y1="272.54" x2="521.8" y2="290.71" stroke="#a8a8a8" stroke-width="1.1" stroke-linecap="round"/>
<line x1="591.7" y1="217.61" x2="598.8" y2="236.91" stroke="#a8a8a8" stroke-width="1.3" stroke-linecap="round"/>
<line x1="591.7" y1="322.84" x2="598.8" y2="307.16" stroke="#a8a8a8" stroke-width="1.3" stroke-linecap="round"/>
<line x1="617.8" y1="250.72" x2="615.6" y2="270.61" stroke="#a8a8a8" stroke-width="1.1" stroke-linecap="round"/>
<line x1="615.6" y1="270.61" x2="617.8" y2="288.68" stroke="#a8a8a8" stroke-width="1.1" stroke-linecap="round"/>
<circle cx="547.9" cy="218.54" r="4.06" fill="url(#g14)"/>
<circle cx="547.9" cy="323.76" r="4.06" fill="url(#g14)"/>
<circle cx="591.7" cy="217.61" r="4.06" fill="url(#g14)"/>
<circle cx="591.7" cy="322.84" r="4.06" fill="url(#g14)"/>
<line x1="540.8" y1="238.14" x2="529.9" y2="251.11" stroke="#a5a5a5" stroke-width="1.25" stroke-linecap="round"/>
<line x1="540.8" y1="308.39" x2="529.8" y2="289.84" stroke="#a5a5a5" stroke-width="1.25" stroke-linecap="round"/>
<line x1="598.8" y1="236.91" x2="612.8" y2="248.42" stroke="#a5a5a5" stroke-width="1.25" stroke-linecap="round"/>
<line x1="598.8" y1="307.16" x2="613.8" y2="286.96" stroke="#a5a5a5" stroke-width="1.25" stroke-linecap="round"/>
<circle cx="540.8" cy="238.14" r="2.63" fill="url(#g15)"/>
<circle cx="540.8" cy="308.39" r="2.63" fill="url(#g15)"/>
<circle cx="598.8" cy="236.91" r="2.63" fill="url(#g15)"/>
<circle cx="598.8" cy="307.16" r="2.63" fill="url(#g15)"/>
<circle cx="542.8" cy="220.84" r="2.5" fill="url(#g16)"/>
<circle cx="542.8" cy="321.46" r="2.5" fill="url(#g16)"/>
<circle cx="596.8" cy="219.7" r="2.5" fill="url(#g16)"/>
<circle cx="596.8" cy="320.32" r="2.5" fill="url(#g16)"/>
<line x1="545.7" y1="215.08" x2="569.5" y2="214.79" stroke="#a1a1a1" stroke-width="1.35" stroke-linecap="round"/>
<line x1="545.7" y1="327.22" x2="569.5" y2="327.51" stroke="#a1a1a1" stroke-width="1.35" stroke-linecap="round"/>
<line x1="593.9" y1="214.06" x2="570.1" y2="214.77" stroke="#a1a1a1" stroke-width="1.35" stroke-linecap="round"/>
<line x1="593.9" y1="326.21" x2="570.1" y2="327.5" stroke="#a1a1a1" stroke-width="1.35" stroke-linecap="round"/>
<circle cx="569.5" cy="214.79" r="2.72" fill="url(#g17)"/>
<circle cx="569.5" cy="327.51" r="2.72" fill="url(#g17)"/>
<circle cx="570.1" cy="214.77" r="2.72" fill="url(#g17)"/>
<circle cx="570.1" cy="327.5" r="2.72" fill="url(#g17)"/>
<line x1="545.7" y1="215.08" x2="537.8" y2="236.12" stroke="#9f9f9f" stroke-width="1.3" stroke-linecap="round"/>
<line x1="545.7" y1="327.22" x2="537.8" y2="310.28" stroke="#9f9f9f" stroke-width="1.3" stroke-linecap="round"/>
<line x1="593.9" y1="214.06" x2="601.8" y2="234.77" stroke="#9f9f9f" stroke-width="1.3" stroke-linecap="round"/>
<line x1="593.9" y1="326.21" x2="601.8" y2="308.93" stroke="#9f9f9f" stroke-width="1.3" stroke-linecap="round"/>
<circle cx="545.7" cy="215.08" r="4.27" fill="url(#g18)"/>
<circle cx="545.7" cy="327.22" r="4.27" fill="url(#g18)"/>
<circle cx="593.9" cy="214.06" r="4.27" fill="url(#g18)"/>
<circle cx="593.9" cy="326.21" r="4.27" fill="url(#g18)"/>
<circle cx="521.5" cy="250.15" r="4.27" fill="url(#g19)"/>
<circle cx="521" cy="293.69" r="4.27" fill="url(#g18)"/>
<circle cx="620.4" cy="246.6" r="4.27" fill="url(#g18)"/>
<circle cx="621" cy="291.76" r="4.27" fill="url(#g18)"/>
<line x1="530.6" y1="220.84" x2="542.8" y2="220.84" stroke="#9e9e9e" stroke-width="1.25" stroke-linecap="round"/>
<line x1="530.6" y1="220.84" x2="518.3" y2="238.91" stroke="#9e9e9e" stroke-width="1.25" stroke-linecap="round"/>
<line x1="485.5" y1="247.75" x2="510.9" y2="246.79" stroke="#9e9e9e" stroke-width="1.3" stroke-linecap="round"/>
<line x1="471" y1="238.81" x2="476.3" y2="244.29" stroke="#9e9e9e" stroke-width="1.25" stroke-linecap="round"/>
<line x1="489.9" y1="250.15" x2="501.3" y2="251.02" stroke="#9e9e9e" stroke-width="1.25" stroke-linecap="round"/>
<line x1="530.6" y1="321.46" x2="542.8" y2="321.46" stroke="#9e9e9e" stroke-width="1.25" stroke-linecap="round"/>
<line x1="530.6" y1="321.46" x2="518.3" y2="307.62" stroke="#9e9e9e" stroke-width="1.25" stroke-linecap="round"/>
<line x1="485.5" y1="298.78" x2="510.9" y2="299.74" stroke="#9e9e9e" stroke-width="1.3" stroke-linecap="round"/>
<line x1="471" y1="307.72" x2="476.3" y2="302.24" stroke="#9e9e9e" stroke-width="1.25" stroke-linecap="round"/>
<line x1="489.9" y1="296.38" x2="501.3" y2="295.51" stroke="#9e9e9e" stroke-width="1.25" stroke-linecap="round"/>
<line x1="500.9" y1="254.48" x2="506.6" y2="272.16" stroke="#9e9e9e" stroke-width="1.25" stroke-linecap="round"/>
<line x1="506.6" y1="272.16" x2="500.9" y2="290.03" stroke="#9e9e9e" stroke-width="1.25" stroke-linecap="round"/>
<line x1="609" y1="219.18" x2="596.8" y2="219.7" stroke="#9e9e9e" stroke-width="1.25" stroke-linecap="round"/>
<line x1="609" y1="219.18" x2="621.3" y2="236.73" stroke="#9e9e9e" stroke-width="1.25" stroke-linecap="round"/>
<line x1="654.1" y1="244.19" x2="628.7" y2="244.3" stroke="#9e9e9e" stroke-width="1.3" stroke-linecap="round"/>
<line x1="668.6" y1="234.63" x2="663.3" y2="240.34" stroke="#9e9e9e" stroke-width="1.25" stroke-linecap="round"/>
<line x1="649.7" y1="246.77" x2="638.3" y2="248.12" stroke="#9e9e9e" stroke-width="1.25" stroke-linecap="round"/>
<line x1="609" y1="319.8" x2="596.8" y2="320.32" stroke="#9e9e9e" stroke-width="1.25" stroke-linecap="round"/>
<line x1="609" y1="319.8" x2="621.3" y2="305.44" stroke="#9e9e9e" stroke-width="1.25" stroke-linecap="round"/>
<line x1="654.1" y1="295.21" x2="628.7" y2="297.25" stroke="#9e9e9e" stroke-width="1.3" stroke-linecap="round"/>
<line x1="668.6" y1="303.54" x2="663.3" y2="298.28" stroke="#9e9e9e" stroke-width="1.25" stroke-linecap="round"/>
<line x1="649.7" y1="293" x2="638.3" y2="292.61" stroke="#9e9e9e" stroke-width="1.25" stroke-linecap="round"/>
<line x1="638.7" y1="251.56" x2="633" y2="269.49" stroke="#9e9e9e" stroke-width="1.25" stroke-linecap="round"/>
<line x1="633" y1="269.49" x2="638.7" y2="287.12" stroke="#9e9e9e" stroke-width="1.25" stroke-linecap="round"/>
<line x1="537.8" y1="236.12" x2="526.5" y2="250.63" stroke="#9e9e9e" stroke-width="1.25" stroke-linecap="round"/>
<line x1="537.8" y1="310.28" x2="525.4" y2="291.67" stroke="#9e9e9e" stroke-width="1.25" stroke-linecap="round"/>
<line x1="601.8" y1="234.77" x2="616.5" y2="247.46" stroke="#9e9e9e" stroke-width="1.25" stroke-linecap="round"/>
<line x1="601.8" y1="308.93" x2="617.3" y2="289.36" stroke="#9e9e9e" stroke-width="1.25" stroke-linecap="round"/>
<circle cx="530.6" cy="220.84" r="4" fill="url(#g20)"/>
<circle cx="518.3" cy="238.91" r="2.5" fill="url(#g21)"/>
<circle cx="537.8" cy="236.12" r="2.72" fill="url(#g21)"/>
<circle cx="476.3" cy="244.29" r="2.5" fill="url(#g21)"/>
<circle cx="514.4" cy="242.56" r="2.3" fill="url(#g21)"/>
<circle cx="530.6" cy="321.46" r="4" fill="url(#g20)"/>
<circle cx="518.3" cy="307.62" r="2.5" fill="url(#g21)"/>
<circle cx="537.8" cy="310.28" r="2.72" fill="url(#g21)"/>
<circle cx="476.3" cy="302.24" r="2.5" fill="url(#g21)"/>
<circle cx="514.4" cy="303.97" r="2.3" fill="url(#g21)"/>
<circle cx="506.6" cy="272.16" r="2.8" fill="url(#g21)"/>
<circle cx="609" cy="219.18" r="4" fill="url(#g20)"/>
<circle cx="621.3" cy="236.73" r="2.5" fill="url(#g21)"/>
<circle cx="601.8" cy="234.77" r="2.72" fill="url(#g21)"/>
<circle cx="663.3" cy="240.34" r="2.5" fill="url(#g21)"/>
<circle cx="625.2" cy="240.22" r="2.3" fill="url(#g21)"/>
<circle cx="609" cy="319.8" r="4" fill="url(#g20)"/>
<circle cx="621.3" cy="305.44" r="2.5" fill="url(#g21)"/>
<circle cx="601.8" cy="308.93" r="2.72" fill="url(#g21)"/>
<circle cx="663.3" cy="298.28" r="2.5" fill="url(#g21)"/>
<circle cx="625.2" cy="301.63" r="2.3" fill="url(#g21)"/>
<circle cx="633" cy="269.49" r="2.8" fill="url(#g21)"/>
<line x1="543.5" y1="211.62" x2="569.4" y2="211.33" stroke="#999999" stroke-width="1.35" stroke-linecap="round"/>
<line x1="523.8" y1="214.69" x2="537.6" y2="214.31" stroke="#999999" stroke-width="1.25" stroke-linecap="round"/>
<line x1="537.6" y1="214.31" x2="543.5" y2="211.62" stroke="#999999" stroke-width="1.25" stroke-linecap="round"/>
<line x1="523.8" y1="214.69" x2="509.5" y2="235.06" stroke="#999999" stroke-width="1.25" stroke-linecap="round"/>
<line x1="543.5" y1="211.62" x2="534.8" y2="234.1" stroke="#999999" stroke-width="1.3" stroke-linecap="round"/>
<line x1="475" y1="239.68" x2="515.3" y2="248.52" stroke="#999999" stroke-width="1.3" stroke-linecap="round"/>
<line x1="475" y1="252.27" x2="492.6" y2="240.93" stroke="#999999" stroke-width="1.3" stroke-linecap="round"/>
<line x1="497" y1="237.18" x2="515.3" y2="247.27" stroke="#999999" stroke-width="1.3" stroke-linecap="round"/>
<line x1="497" y1="237.18" x2="509.5" y2="235.06" stroke="#999999" stroke-width="1.25" stroke-linecap="round"/>
<line x1="543.5" y1="330.68" x2="569.4" y2="330.97" stroke="#999999" stroke-width="1.35" stroke-linecap="round"/>
<line x1="523.8" y1="327.61" x2="537.6" y2="327.99" stroke="#999999" stroke-width="1.25" stroke-linecap="round"/>
<line x1="537.6" y1="327.99" x2="543.5" y2="330.68" stroke="#999999" stroke-width="1.25" stroke-linecap="round"/>
<line x1="523.8" y1="327.61" x2="509.5" y2="310.87" stroke="#999999" stroke-width="1.25" stroke-linecap="round"/>
<line x1="543.5" y1="330.68" x2="534.8" y2="311.41" stroke="#999999" stroke-width="1.3" stroke-linecap="round"/>
<line x1="475" y1="306.85" x2="515.3" y2="298.01" stroke="#999999" stroke-width="1.3" stroke-linecap="round"/>
<line x1="475" y1="294.26" x2="492.6" y2="305.6" stroke="#999999" stroke-width="1.3" stroke-linecap="round"/>
<line x1="497" y1="309.35" x2="515.3" y2="299.26" stroke="#999999" stroke-width="1.3" stroke-linecap="round"/>
<line x1="497" y1="309.35" x2="509.5" y2="310.87" stroke="#999999" stroke-width="1.25" stroke-linecap="round"/>
<line x1="489.5" y1="254.19" x2="496.3" y2="272.54" stroke="#999999" stroke-width="1.25" stroke-linecap="round"/>
<line x1="496.3" y1="272.54" x2="489.5" y2="290.71" stroke="#999999" stroke-width="1.25" stroke-linecap="round"/>
<line x1="517.5" y1="252.65" x2="520.3" y2="272.64" stroke="#999999" stroke-width="1.25" stroke-linecap="round"/>
<line x1="520.3" y1="272.64" x2="517.5" y2="291.67" stroke="#999999" stroke-width="1.25" stroke-linecap="round"/>
<line x1="596.1" y1="210.5" x2="570.2" y2="211.31" stroke="#999999" stroke-width="1.35" stroke-linecap="round"/>
<line x1="615.8" y1="212.75" x2="602" y2="212.95" stroke="#999999" stroke-width="1.25" stroke-linecap="round"/>
<line x1="602" y1="212.95" x2="596.1" y2="210.5" stroke="#999999" stroke-width="1.25" stroke-linecap="round"/>
<line x1="615.8" y1="212.75" x2="630.1" y2="232.51" stroke="#999999" stroke-width="1.25" stroke-linecap="round"/>
<line x1="596.1" y1="210.5" x2="604.8" y2="232.62" stroke="#999999" stroke-width="1.3" stroke-linecap="round"/>
<line x1="664.6" y1="235.67" x2="624.3" y2="246.21" stroke="#999999" stroke-width="1.3" stroke-linecap="round"/>
<line x1="664.6" y1="248.26" x2="647" y2="237.66" stroke="#999999" stroke-width="1.3" stroke-linecap="round"/>
<line x1="642.6" y1="234.1" x2="624.3" y2="244.96" stroke="#999999" stroke-width="1.3" stroke-linecap="round"/>
<line x1="642.6" y1="234.1" x2="630.1" y2="232.51" stroke="#999999" stroke-width="1.25" stroke-linecap="round"/>
<line x1="596.1" y1="329.57" x2="570.2" y2="330.96" stroke="#999999" stroke-width="1.35" stroke-linecap="round"/>
<line x1="615.8" y1="325.66" x2="602" y2="326.63" stroke="#999999" stroke-width="1.25" stroke-linecap="round"/>
<line x1="602" y1="326.63" x2="596.1" y2="329.57" stroke="#999999" stroke-width="1.25" stroke-linecap="round"/>
<line x1="615.8" y1="325.66" x2="630.1" y2="308.32" stroke="#999999" stroke-width="1.25" stroke-linecap="round"/>
<line x1="596.1" y1="329.57" x2="604.8" y2="309.93" stroke="#999999" stroke-width="1.3" stroke-linecap="round"/>
<line x1="664.6" y1="302.84" x2="624.3" y2="295.71" stroke="#999999" stroke-width="1.3" stroke-linecap="round"/>
<line x1="664.6" y1="290.25" x2="647" y2="302.34" stroke="#999999" stroke-width="1.3" stroke-linecap="round"/>
<line x1="642.6" y1="306.27" x2="624.3" y2="296.95" stroke="#999999" stroke-width="1.3" stroke-linecap="round"/>
<line x1="642.6" y1="306.27" x2="630.1" y2="308.32" stroke="#999999" stroke-width="1.25" stroke-linecap="round"/>
<line x1="650.1" y1="250.79" x2="643.3" y2="269.44" stroke="#999999" stroke-width="1.25" stroke-linecap="round"/>
<line x1="643.3" y1="269.44" x2="650.1" y2="287.31" stroke="#999999" stroke-width="1.25" stroke-linecap="round"/>
<line x1="622.1" y1="250.44" x2="619.3" y2="270.55" stroke="#999999" stroke-width="1.25" stroke-linecap="round"/>
<line x1="619.3" y1="270.55" x2="622.1" y2="289.46" stroke="#999999" stroke-width="1.25" stroke-linecap="round"/>
<line x1="534.8" y1="234.1" x2="521.5" y2="250.15" stroke="#999999" stroke-width="1.25" stroke-linecap="round"/>
<line x1="534.8" y1="234.1" x2="515.3" y2="248.52" stroke="#999999" stroke-width="1.25" stroke-linecap="round"/>
<line x1="534.8" y1="311.41" x2="521" y2="293.69" stroke="#999999" stroke-width="1.25" stroke-linecap="round"/>
<line x1="534.8" y1="311.41" x2="516.6" y2="296.76" stroke="#999999" stroke-width="1.25" stroke-linecap="round"/>
<line x1="604.8" y1="232.62" x2="620.4" y2="246.6" stroke="#999999" stroke-width="1.25" stroke-linecap="round"/>
<line x1="604.8" y1="232.62" x2="625.1" y2="245.73" stroke="#999999" stroke-width="1.25" stroke-linecap="round"/>
<line x1="604.8" y1="309.93" x2="621" y2="291.76" stroke="#999999" stroke-width="1.25" stroke-linecap="round"/>
<line x1="604.8" y1="309.93" x2="626" y2="294.26" stroke="#999999" stroke-width="1.25" stroke-linecap="round"/>
<line x1="571.8" y1="316.17" x2="571.8" y2="330.59" stroke="#999999" stroke-width="2.6" stroke-linecap="round"/>
<line x1="520.3" y1="272.64" x2="540.6" y2="271.2" stroke="#999999" stroke-width="2.6" stroke-linecap="round"/>
<circle cx="543.5" cy="211.62" r="4.5" fill="url(#g22)"/>
<circle cx="569.4" cy="211.33" r="2.8" fill="url(#g23)"/>
<circle cx="523.8" cy="214.69" r="4.1" fill="url(#g22)"/>
<circle cx="537.6" cy="214.31" r="2.8" fill="url(#g23)"/>
<circle cx="509.5" cy="235.06" r="2.8" fill="url(#g23)"/>
<circle cx="534.8" cy="234.1" r="2.8" fill="url(#g23)"/>
<circle cx="471" cy="238.81" r="4" fill="url(#g22)"/>
<circle cx="477.6" cy="240.06" r="3.8" fill="url(#g22)"/>
<circle cx="485.5" cy="241.41" r="3.5" fill="url(#g22)"/>
<circle cx="497" cy="237.18" r="4.5" fill="url(#g22)"/>
<circle cx="508.3" cy="241.31" r="3.8" fill="url(#g22)"/>
<circle cx="489.9" cy="250.15" r="4" fill="url(#g22)"/>
<circle cx="501.3" cy="251.02" r="4" fill="url(#g22)"/>
<circle cx="475" cy="252.27" r="3" fill="url(#g23)"/>
<circle cx="543.5" cy="330.68" r="4.5" fill="url(#g22)"/>
<circle cx="569.4" cy="330.97" r="2.8" fill="url(#g23)"/>
<circle cx="523.8" cy="327.61" r="4.1" fill="url(#g22)"/>
<circle cx="537.6" cy="327.99" r="2.8" fill="url(#g23)"/>
<circle cx="509.5" cy="310.87" r="2.8" fill="url(#g23)"/>
<circle cx="534.8" cy="311.41" r="2.8" fill="url(#g23)"/>
<circle cx="471" cy="307.72" r="4" fill="url(#g22)"/>
<circle cx="477.6" cy="306.47" r="3.8" fill="url(#g22)"/>
<circle cx="485.5" cy="305.12" r="3.5" fill="url(#g22)"/>
<circle cx="497" cy="309.35" r="4.5" fill="url(#g22)"/>
<circle cx="508.3" cy="305.22" r="3.8" fill="url(#g22)"/>
<circle cx="489.9" cy="296.38" r="4" fill="url(#g22)"/>
<circle cx="501.3" cy="295.51" r="4" fill="url(#g22)"/>
<circle cx="475" cy="294.26" r="3" fill="url(#g23)"/>
<circle cx="496.3" cy="272.54" r="2.8" fill="url(#g23)"/>
<circle cx="520.3" cy="272.64" r="3" fill="url(#g23)"/>
<circle cx="596.1" cy="210.5" r="4.5" fill="url(#g22)"/>
<circle cx="570.2" cy="211.31" r="2.8" fill="url(#g23)"/>
<circle cx="615.8" cy="212.75" r="4.1" fill="url(#g22)"/>
<circle cx="602" cy="212.95" r="2.8" fill="url(#g23)"/>
<circle cx="630.1" cy="232.51" r="2.8" fill="url(#g23)"/>
<circle cx="604.8" cy="232.62" r="2.8" fill="url(#g23)"/>
<circle cx="668.6" cy="234.63" r="4" fill="url(#g22)"/>
<circle cx="662" cy="236.16" r="3.8" fill="url(#g22)"/>
<circle cx="654.1" cy="237.84" r="3.5" fill="url(#g22)"/>
<circle cx="642.6" cy="234.1" r="4.5" fill="url(#g22)"/>
<circle cx="631.3" cy="238.71" r="3.8" fill="url(#g22)"/>
<circle cx="649.7" cy="246.77" r="4" fill="url(#g22)"/>
<circle cx="638.3" cy="248.12" r="4" fill="url(#g22)"/>
<circle cx="664.6" cy="248.26" r="3" fill="url(#g23)"/>
<circle cx="596.1" cy="329.57" r="4.5" fill="url(#g22)"/>
<circle cx="570.2" cy="330.96" r="2.8" fill="url(#g23)"/>
<circle cx="615.8" cy="325.66" r="4.1" fill="url(#g22)"/>
<circle cx="602" cy="326.63" r="2.8" fill="url(#g23)"/>
<circle cx="630.1" cy="308.32" r="2.8" fill="url(#g23)"/>
<circle cx="604.8" cy="309.93" r="2.8" fill="url(#g23)"/>
<circle cx="668.6" cy="303.54" r="4" fill="url(#g22)"/>
<circle cx="662" cy="302.57" r="3.8" fill="url(#g22)"/>
<circle cx="654.1" cy="301.56" r="3.5" fill="url(#g22)"/>
<circle cx="642.6" cy="306.27" r="4.5" fill="url(#g22)"/>
<circle cx="631.3" cy="302.62" r="3.8" fill="url(#g22)"/>
<circle cx="649.7" cy="293" r="4" fill="url(#g22)"/>
<circle cx="638.3" cy="292.61" r="4" fill="url(#g22)"/>
<circle cx="664.6" cy="290.25" r="3" fill="url(#g23)"/>
<circle cx="643.3" cy="269.44" r="2.8" fill="url(#g23)"/>
<circle cx="619.3" cy="270.55" r="3" fill="url(#g23)"/>
<circle cx="515.3" cy="248.52" r="4.4" fill="url(#g22)"/>
<circle cx="516.6" cy="296.76" r="4.4" fill="url(#g22)"/>
<circle cx="625.1" cy="245.73" r="4.4" fill="url(#g22)"/>
<circle cx="626" cy="294.26" r="4.4" fill="url(#g22)"/>
<circle cx="544" cy="270.9" r="9" fill="url(#g24)"/>
<circle cx="572.5" cy="308.3" r="9.2" fill="url(#g25)"/>
<text x="552.9" y="261.5" font-size="11" font-weight="bold" text-anchor="start" fill="#111" >H</text>
<text x="553.6" y="296.1" font-size="11.3" font-weight="bold" text-anchor="start" fill="#111" textLength="37.3" lengthAdjust="spacingAndGlyphs">Fe site</text>
<circle cx="510.6" cy="373.7" r="7" fill="url(#g26)"/>
<text x="519.6" y="377" font-size="10.8" font-weight="bold" text-anchor="start" fill="#111" >Fe</text>
<circle cx="546.4" cy="373.4" r="7.4" fill="url(#g27)"/>
<text x="556.2" y="377" font-size="10.8" font-weight="bold" text-anchor="start" fill="#111" >H</text>
<circle cx="579.1" cy="373.4" r="7.3" fill="url(#g28)"/>
<text x="588.8" y="377" font-size="10.8" font-weight="bold" text-anchor="start" fill="#111" >Si</text>
<circle cx="614.2" cy="373.4" r="7.2" fill="url(#g29)"/>
<text x="624.8" y="377" font-size="10.8" font-weight="bold" text-anchor="start" fill="#111" >Al</text>
<circle cx="510.6" cy="399.7" r="7.3" fill="url(#g30)"/>
<text x="520.6" y="404.1" font-size="10.8" font-weight="bold" text-anchor="start" fill="#111" >O in zeolite framework</text>
</svg>
</body></html>
